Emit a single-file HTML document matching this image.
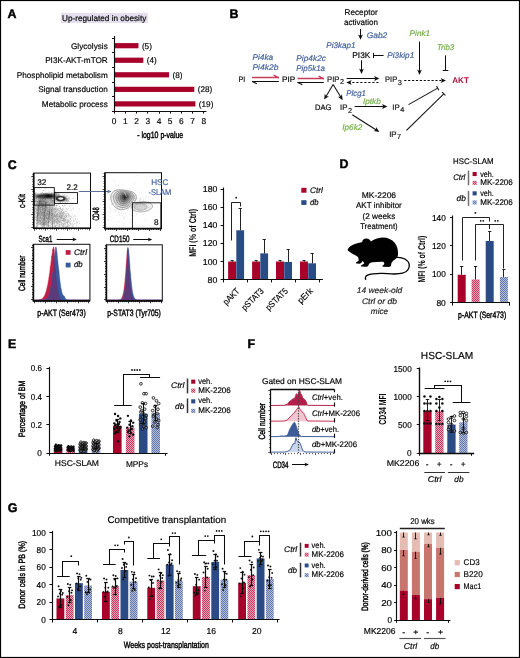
<!DOCTYPE html>
<html><head><meta charset="utf-8"><style>
html,body{margin:0;padding:0;background:#fff;}
svg{display:block;}
text{font-family:"Liberation Sans", sans-serif;}
svg{opacity:0.999;}
text{text-rendering:geometricPrecision;}
</style></head><body>
<svg width="520" height="658" viewBox="0 0 520 658" font-family="Liberation Sans, sans-serif" fill="#000">
<defs>
<filter id="blur1" x="-50%" y="-50%" width="200%" height="200%"><feGaussianBlur stdDeviation="1.2"/></filter>
<filter id="blur05" x="-50%" y="-50%" width="200%" height="200%"><feGaussianBlur stdDeviation="0.6"/></filter>
<pattern id="hpink" width="2" height="2" patternUnits="userSpaceOnUse"><rect width="2" height="2" fill="#eca4b6"/><rect width="1" height="1" fill="#cc3660"/><rect x="1" y="1" width="1" height="1" fill="#cc3660"/></pattern>
<pattern id="hblue" width="2" height="2" patternUnits="userSpaceOnUse"><rect width="2" height="2" fill="#b2bedb"/><rect width="1" height="1" fill="#6478aa"/><rect x="1" y="1" width="1" height="1" fill="#6478aa"/></pattern>
<filter id="gblur" x="0" y="0" width="520" height="658" filterUnits="userSpaceOnUse"><feGaussianBlur stdDeviation="0.35"/></filter>
</defs>
<rect x="0" y="0" width="520" height="658" fill="#fff"/>
<g filter="url(#gblur)">
<text x="7.4" y="17.9" font-size="12.4" font-weight="bold" stroke="#000" stroke-width="0.45">A</text>
<rect x="61" y="12.8" width="86.8" height="10.2" fill="#e4deed" />
<text x="62" y="20.9" font-size="8.2" textLength="84.3" lengthAdjust="spacingAndGlyphs" stroke="#000" stroke-width="0.17">Up-regulated in obesity</text>
<rect x="114.2" y="43.1" width="24.3" height="5.2" fill="#a8002c" />
<text x="107.8" y="48.6" font-size="8.2" text-anchor="end" stroke="#000" stroke-width="0.17">Glycolysis</text>
<text x="141.9" y="48.6" font-size="8.2" stroke="#000" stroke-width="0.17">(5)</text>
<rect x="114.2" y="57.65" width="29.12" height="5.2" fill="#a8002c" />
<text x="107.8" y="63.15" font-size="8.2" text-anchor="end" stroke="#000" stroke-width="0.17">PI3K-AKT-mTOR</text>
<text x="146.72" y="63.15" font-size="8.2" stroke="#000" stroke-width="0.17">(4)</text>
<rect x="114.2" y="72.2" width="54.88" height="5.2" fill="#a8002c" />
<text x="107.8" y="77.7" font-size="8.2" text-anchor="end" stroke="#000" stroke-width="0.17">Phospholipid metabolism</text>
<text x="172.48" y="77.7" font-size="8.2" stroke="#000" stroke-width="0.17">(8)</text>
<rect x="114.2" y="86.75" width="80.08" height="5.2" fill="#a8002c" />
<text x="107.8" y="92.25" font-size="8.2" text-anchor="end" stroke="#000" stroke-width="0.17">Signal transduction</text>
<text x="197.68" y="92.25" font-size="8.2" stroke="#000" stroke-width="0.17">(28)</text>
<rect x="114.2" y="101.3" width="81.2" height="5.2" fill="#a8002c" />
<text x="107.8" y="106.8" font-size="8.2" text-anchor="end" stroke="#000" stroke-width="0.17">Metabolic process</text>
<text x="198.8" y="106.8" font-size="8.2" stroke="#000" stroke-width="0.17">(19)</text>
<line x1="114.5" y1="36" x2="114.5" y2="111.6" stroke="#111" stroke-width="1.15" />
<line x1="112" y1="38.5" x2="114.2" y2="38.5" stroke="#111" stroke-width="1.03" />
<line x1="112" y1="52.5" x2="114.2" y2="52.5" stroke="#111" stroke-width="1.03" />
<line x1="112" y1="67.5" x2="114.2" y2="67.5" stroke="#111" stroke-width="1.03" />
<line x1="112" y1="82.5" x2="114.2" y2="82.5" stroke="#111" stroke-width="1.03" />
<line x1="112" y1="96.5" x2="114.2" y2="96.5" stroke="#111" stroke-width="1.03" />
<line x1="112" y1="111.5" x2="114.2" y2="111.5" stroke="#111" stroke-width="1.03" />
<line x1="113.7" y1="111.5" x2="206.5" y2="111.5" stroke="#111" stroke-width="1.15" />
<line x1="114.5" y1="111.3" x2="114.5" y2="113.6" stroke="#111" stroke-width="1.03" />
<text x="114.2" y="124" font-size="8.4" text-anchor="middle" stroke="#000" stroke-width="0.17">0</text>
<line x1="125.5" y1="111.3" x2="125.5" y2="113.6" stroke="#111" stroke-width="1.03" />
<text x="125.4" y="124" font-size="8.4" text-anchor="middle" stroke="#000" stroke-width="0.17">1</text>
<line x1="136.5" y1="111.3" x2="136.5" y2="113.6" stroke="#111" stroke-width="1.03" />
<text x="136.6" y="124" font-size="8.4" text-anchor="middle" stroke="#000" stroke-width="0.17">2</text>
<line x1="147.5" y1="111.3" x2="147.5" y2="113.6" stroke="#111" stroke-width="1.03" />
<text x="147.8" y="124" font-size="8.4" text-anchor="middle" stroke="#000" stroke-width="0.17">3</text>
<line x1="159.5" y1="111.3" x2="159.5" y2="113.6" stroke="#111" stroke-width="1.03" />
<text x="159" y="124" font-size="8.4" text-anchor="middle" stroke="#000" stroke-width="0.17">4</text>
<line x1="170.5" y1="111.3" x2="170.5" y2="113.6" stroke="#111" stroke-width="1.03" />
<text x="170.2" y="124" font-size="8.4" text-anchor="middle" stroke="#000" stroke-width="0.17">5</text>
<line x1="181.5" y1="111.3" x2="181.5" y2="113.6" stroke="#111" stroke-width="1.03" />
<text x="181.4" y="124" font-size="8.4" text-anchor="middle" stroke="#000" stroke-width="0.17">6</text>
<line x1="192.5" y1="111.3" x2="192.5" y2="113.6" stroke="#111" stroke-width="1.03" />
<text x="192.6" y="124" font-size="8.4" text-anchor="middle" stroke="#000" stroke-width="0.17">7</text>
<line x1="203.5" y1="111.3" x2="203.5" y2="113.6" stroke="#111" stroke-width="1.03" />
<text x="203.8" y="124" font-size="8.4" text-anchor="middle" stroke="#000" stroke-width="0.17">8</text>
<text x="160.2" y="138.4" font-size="9.2" text-anchor="middle" textLength="46" lengthAdjust="spacingAndGlyphs" stroke="#000" stroke-width="0.42">- log10 p-value</text>
<text x="229.6" y="18.3" font-size="12.4" font-weight="bold" stroke="#000" stroke-width="0.45">B</text>
<text x="344.6" y="15" font-size="8.2" textLength="33.1" lengthAdjust="spacingAndGlyphs" stroke="#000" stroke-width="0.17">Receptor</text>
<text x="344" y="24.8" font-size="8.2" textLength="34" lengthAdjust="spacingAndGlyphs" stroke="#000" stroke-width="0.17">activation</text>
<line x1="360.5" y1="29" x2="360.5" y2="36.1" stroke="#111" stroke-width="1.03" />
<polygon points="360.5,39.8 358.1,34.4 360.5,35.8 362.9,34.4" fill="#111" />
<text x="366.7" y="37.7" font-size="8.2" font-style="italic" fill="#41609e" textLength="20.6" lengthAdjust="spacingAndGlyphs" stroke="#41609e" stroke-width="0.17">Gab2</text>
<text x="326.3" y="47.7" font-size="8.2" font-style="italic" fill="#41609e" textLength="29.3" lengthAdjust="spacingAndGlyphs" stroke="#41609e" stroke-width="0.17">Pi3kap1</text>
<text x="352.3" y="58.1" font-size="8.2" textLength="18.1" lengthAdjust="spacingAndGlyphs" stroke="#000" stroke-width="0.17">PI3K</text>
<line x1="383.6" y1="55.5" x2="373" y2="55.5" stroke="#111" stroke-width="1.03" />
<line x1="373.5" y1="52.9" x2="373.5" y2="58.1" stroke="#111" stroke-width="1.03" />
<text x="387.3" y="58" font-size="8.2" font-style="italic" fill="#41609e" textLength="26.9" lengthAdjust="spacingAndGlyphs" stroke="#41609e" stroke-width="0.17">Pi3kip1</text>
<line x1="361.5" y1="60.2" x2="361.5" y2="70.3" stroke="#111" stroke-width="1.03" />
<polygon points="361.5,74 359.1,68.6 361.5,70 363.9,68.6" fill="#111" />
<text x="409.6" y="36.3" font-size="8.2" font-style="italic" fill="#6fae44" textLength="20.6" lengthAdjust="spacingAndGlyphs" stroke="#6fae44" stroke-width="0.17">Pink1</text>
<line x1="419.5" y1="41.6" x2="419.5" y2="71.3" stroke="#111" stroke-width="1.03" />
<polygon points="419.5,75 417.1,69.6 419.5,71 421.9,69.6" fill="#111" />
<text x="436.9" y="50.4" font-size="8.2" font-style="italic" fill="#6fae44" textLength="17.3" lengthAdjust="spacingAndGlyphs" stroke="#6fae44" stroke-width="0.17">Trib3</text>
<line x1="445.5" y1="55.3" x2="445.5" y2="70.2" stroke="#111" stroke-width="1.03" />
<line x1="442.7" y1="70.5" x2="448.3" y2="70.5" stroke="#111" stroke-width="1.03" />
<text x="452.3" y="82.5" font-size="8.2" font-weight="bold" fill="#b0123c" textLength="16.5" lengthAdjust="spacingAndGlyphs">AKT</text>
<text x="252.4" y="59.6" font-size="8.2" font-style="italic" fill="#41609e" textLength="20.8" lengthAdjust="spacingAndGlyphs" stroke="#41609e" stroke-width="0.17">Pi4ka</text>
<text x="252.4" y="70.2" font-size="8.2" font-style="italic" fill="#41609e" textLength="26" lengthAdjust="spacingAndGlyphs" stroke="#41609e" stroke-width="0.17">Pi4k2b</text>
<text x="296.3" y="60.8" font-size="8.2" font-style="italic" fill="#41609e" textLength="29.7" lengthAdjust="spacingAndGlyphs" stroke="#41609e" stroke-width="0.17">Pip4k2c</text>
<text x="296.3" y="70.8" font-size="8.2" font-style="italic" fill="#41609e" textLength="28.7" lengthAdjust="spacingAndGlyphs" stroke="#41609e" stroke-width="0.17">Pip5k1a</text>
<text x="238.6" y="81.9" font-size="8" textLength="6.7" lengthAdjust="spacingAndGlyphs" stroke="#000" stroke-width="0.17">PI</text>
<text x="282" y="81.6" font-size="8" textLength="13.2" lengthAdjust="spacingAndGlyphs" stroke="#000" stroke-width="0.17">PIP</text>
<text x="327.1" y="81.6" font-size="8" fill="#111" textLength="12.4" lengthAdjust="spacingAndGlyphs" stroke="#111" stroke-width="0.17">PIP</text>
<text x="340" y="84.4" font-size="7.3" fill="#111" stroke="#111" stroke-width="0.17">2</text>
<text x="385.1" y="81.9" font-size="8" fill="#111" textLength="12.1" lengthAdjust="spacingAndGlyphs" stroke="#111" stroke-width="0.17">PIP</text>
<text x="397.7" y="84.7" font-size="7.3" fill="#111" stroke="#111" stroke-width="0.17">3</text>
<line x1="252" y1="77.5" x2="278.8" y2="77.5" stroke="#c83a5c" stroke-width="1.49" />
<line x1="273.6" y1="75.1" x2="278.8" y2="77.8" stroke="#c83a5c" stroke-width="1.38" />
<line x1="252" y1="81.5" x2="278.8" y2="81.5" stroke="#111" stroke-width="1.03" />
<line x1="252" y1="81.3" x2="256.8" y2="83.8" stroke="#111" stroke-width="1.03" />
<line x1="297.5" y1="78.5" x2="323.8" y2="78.5" stroke="#c83a5c" stroke-width="1.49" />
<line x1="318.6" y1="76.1" x2="323.8" y2="78.8" stroke="#c83a5c" stroke-width="1.38" />
<line x1="297.5" y1="82.5" x2="323.8" y2="82.5" stroke="#111" stroke-width="1.03" />
<line x1="297.5" y1="82.3" x2="302.3" y2="84.8" stroke="#111" stroke-width="1.03" />
<line x1="346.7" y1="78.5" x2="375.7" y2="78.5" stroke="#111" stroke-width="1.03" />
<polygon points="379.4,78.5 374,80.9 375.4,78.5 374,76.1" fill="#111" />
<line x1="378.5" y1="82.5" x2="350" y2="82.5" stroke="#111" stroke-width="1.15" stroke-dasharray="2.2,1.8"/>
<polygon points="346.3,82.5 351.7,80.1 350.3,82.5 351.7,84.9" fill="#111" />
<line x1="404.2" y1="80.5" x2="442.3" y2="80.5" stroke="#111" stroke-width="1.15" stroke-dasharray="2.2,1.7"/>
<polygon points="446,80.5 440.6,82.9 442,80.5 440.6,78.1" fill="#111" />
<line x1="333.1" y1="84.6" x2="326" y2="96.43" stroke="#111" stroke-width="1.03" />
<polygon points="324.1,99.6 324.82,93.73 326.16,96.17 328.94,96.2" fill="#111" />
<line x1="333.1" y1="84.6" x2="340.76" y2="97.05" stroke="#111" stroke-width="1.03" />
<polygon points="342.7,100.2 337.83,96.86 340.6,96.79 341.91,94.34" fill="#111" />
<text x="315.1" y="110.3" font-size="8" textLength="16.4" lengthAdjust="spacingAndGlyphs" stroke="#000" stroke-width="0.17">DAG</text>
<text x="340" y="110.4" font-size="8" fill="#111" textLength="7.4" lengthAdjust="spacingAndGlyphs" stroke="#111" stroke-width="0.17">IP</text>
<text x="347.9" y="113.2" font-size="7.3" fill="#111" stroke="#111" stroke-width="0.17">2</text>
<text x="346.3" y="95.5" font-size="8.2" font-style="italic" fill="#41609e" textLength="19.6" lengthAdjust="spacingAndGlyphs" stroke="#41609e" stroke-width="0.17">Plcg1</text>
<text x="363" y="103.5" font-size="8.2" font-style="italic" fill="#6fae44" textLength="17.8" lengthAdjust="spacingAndGlyphs" stroke="#6fae44" stroke-width="0.17">Iptkb</text>
<line x1="354.6" y1="106.5" x2="383.7" y2="106.5" stroke="#111" stroke-width="1.03" />
<polygon points="387.4,106.5 382,108.9 383.4,106.5 382,104.1" fill="#111" />
<text x="392.3" y="109.6" font-size="8" fill="#111" textLength="7.4" lengthAdjust="spacingAndGlyphs" stroke="#111" stroke-width="0.17">IP</text>
<text x="400.2" y="112.4" font-size="7.3" fill="#111" stroke="#111" stroke-width="0.17">4</text>
<line x1="352.3" y1="114.7" x2="376.28" y2="130.01" stroke="#111" stroke-width="1.03" />
<polygon points="379.4,132 373.56,131.12 376.03,129.85 376.14,127.07" fill="#111" />
<text x="342.3" y="130.4" font-size="8.2" font-style="italic" fill="#6fae44" textLength="20" lengthAdjust="spacingAndGlyphs" stroke="#6fae44" stroke-width="0.17">Ip6k2</text>
<text x="389.2" y="136.5" font-size="8" fill="#111" textLength="7.4" lengthAdjust="spacingAndGlyphs" stroke="#111" stroke-width="0.17">IP</text>
<text x="397.1" y="139.3" font-size="7.3" fill="#111" stroke="#111" stroke-width="0.17">7</text>
<line x1="408.5" y1="104.6" x2="437.7" y2="88.1" stroke="#111" stroke-width="1.03" />
<line x1="438.88" y1="90.19" x2="436.52" y2="86.01" stroke="#111" stroke-width="1.03" />
<line x1="406.5" y1="130.4" x2="443.8" y2="93.8" stroke="#111" stroke-width="1.03" />
<line x1="445.48" y1="95.51" x2="442.12" y2="92.09" stroke="#111" stroke-width="1.03" />
<text x="7.8" y="168.6" font-size="12.4" font-weight="bold" stroke="#000" stroke-width="0.45">C</text>
<g>
<path d="M54.71 217.79h0.6v0.6h-0.6zM52.78 209.47h0.6v0.6h-0.6zM51.52 208.76h0.6v0.6h-0.6zM55.12 225.08h0.6v0.6h-0.6zM51.25 211.36h0.6v0.6h-0.6zM58.13 218.2h0.6v0.6h-0.6zM55.44 209.19h0.6v0.6h-0.6zM54.5 220.57h0.6v0.6h-0.6zM45.29 212.5h0.6v0.6h-0.6zM41.39 206.67h0.6v0.6h-0.6zM41.81 214.05h0.6v0.6h-0.6zM45.83 217.6h0.6v0.6h-0.6zM55.8 214.39h0.6v0.6h-0.6zM37.08 211.93h0.6v0.6h-0.6zM54.36 216.49h0.6v0.6h-0.6zM43.99 212.36h0.6v0.6h-0.6zM47.85 210.04h0.6v0.6h-0.6zM62.13 210.05h0.6v0.6h-0.6zM54.47 221.89h0.6v0.6h-0.6zM50.61 214.92h0.6v0.6h-0.6zM55.47 216.15h0.6v0.6h-0.6zM46.12 216.23h0.6v0.6h-0.6zM64.21 204.87h0.6v0.6h-0.6zM60.72 216.54h0.6v0.6h-0.6zM60.04 207.3h0.6v0.6h-0.6zM55.22 219.74h0.6v0.6h-0.6zM53.38 220.48h0.6v0.6h-0.6zM54.23 220.37h0.6v0.6h-0.6zM64.77 210.97h0.6v0.6h-0.6zM56.12 212.46h0.6v0.6h-0.6zM55.59 207.39h0.6v0.6h-0.6zM50.64 214.33h0.6v0.6h-0.6zM60.99 223.72h0.6v0.6h-0.6zM45.44 210.14h0.6v0.6h-0.6zM59.23 201.75h0.6v0.6h-0.6zM51.46 215.02h0.6v0.6h-0.6zM63.5 220.53h0.6v0.6h-0.6zM52.41 213.12h0.6v0.6h-0.6zM52.95 226.36h0.6v0.6h-0.6zM51.7 213.57h0.6v0.6h-0.6zM57.17 214.85h0.6v0.6h-0.6zM53.32 207.9h0.6v0.6h-0.6zM54.62 212.59h0.6v0.6h-0.6zM62.86 220.27h0.6v0.6h-0.6zM54.53 220.38h0.6v0.6h-0.6zM52.32 223.06h0.6v0.6h-0.6zM54.66 219.78h0.6v0.6h-0.6zM45.66 218.13h0.6v0.6h-0.6zM42.88 201.45h0.6v0.6h-0.6zM52.57 209.4h0.6v0.6h-0.6zM48.88 211.33h0.6v0.6h-0.6zM56.14 219.15h0.6v0.6h-0.6zM53.47 214.26h0.6v0.6h-0.6zM59.62 219.34h0.6v0.6h-0.6zM47.46 215.15h0.6v0.6h-0.6zM54.95 208.32h0.6v0.6h-0.6zM56.52 209.69h0.6v0.6h-0.6zM61.5 217.05h0.6v0.6h-0.6zM55.33 211.56h0.6v0.6h-0.6zM53.87 201.72h0.6v0.6h-0.6zM46.78 218.24h0.6v0.6h-0.6zM39.8 221.63h0.6v0.6h-0.6zM42.48 221h0.6v0.6h-0.6zM48.78 221.15h0.6v0.6h-0.6zM55.62 204.94h0.6v0.6h-0.6zM63.44 225.79h0.6v0.6h-0.6zM54.24 213.78h0.6v0.6h-0.6zM53.58 208.87h0.6v0.6h-0.6zM62.39 211.9h0.6v0.6h-0.6zM54.34 210.15h0.6v0.6h-0.6zM50.32 206.76h0.6v0.6h-0.6zM63.5 214.62h0.6v0.6h-0.6zM61.46 215.79h0.6v0.6h-0.6zM49.84 213.41h0.6v0.6h-0.6zM50.78 215.76h0.6v0.6h-0.6zM52.07 213.6h0.6v0.6h-0.6zM45.05 210.05h0.6v0.6h-0.6zM66.28 211h0.6v0.6h-0.6zM47.32 218.06h0.6v0.6h-0.6zM64.55 205.52h0.6v0.6h-0.6zM53.24 211.28h0.6v0.6h-0.6zM42.37 220.84h0.6v0.6h-0.6zM54.54 216.2h0.6v0.6h-0.6zM49.43 218.88h0.6v0.6h-0.6zM50.92 214.7h0.6v0.6h-0.6zM46.94 207.19h0.6v0.6h-0.6zM64.05 212.15h0.6v0.6h-0.6zM56.74 215.46h0.6v0.6h-0.6zM51.61 212.14h0.6v0.6h-0.6zM59.11 213.59h0.6v0.6h-0.6zM53.64 215.86h0.6v0.6h-0.6zM62.94 220.46h0.6v0.6h-0.6zM57.38 211.76h0.6v0.6h-0.6zM45.03 222.35h0.6v0.6h-0.6zM61.47 214.72h0.6v0.6h-0.6zM58.49 221.17h0.6v0.6h-0.6zM60.52 222.15h0.6v0.6h-0.6zM51.51 226.3h0.6v0.6h-0.6zM45.97 221.73h0.6v0.6h-0.6zM58.16 221.82h0.6v0.6h-0.6zM67.85 226.09h0.6v0.6h-0.6zM46.68 203.88h0.6v0.6h-0.6zM60.42 208.59h0.6v0.6h-0.6zM54.61 221.58h0.6v0.6h-0.6zM43.19 200.93h0.6v0.6h-0.6zM56.52 216.01h0.6v0.6h-0.6zM52.98 215.97h0.6v0.6h-0.6zM48.68 205.11h0.6v0.6h-0.6zM53.53 208.9h0.6v0.6h-0.6zM43.2 219.24h0.6v0.6h-0.6zM54.27 218.55h0.6v0.6h-0.6zM47.77 211.09h0.6v0.6h-0.6zM47.71 209.49h0.6v0.6h-0.6zM56.07 210.22h0.6v0.6h-0.6zM57.19 218.08h0.6v0.6h-0.6zM68.88 205.95h0.6v0.6h-0.6zM60.92 215.07h0.6v0.6h-0.6zM54.6 205.55h0.6v0.6h-0.6zM51.48 220.9h0.6v0.6h-0.6zM54.12 216.27h0.6v0.6h-0.6zM52.66 223.78h0.6v0.6h-0.6zM54.55 200.3h0.6v0.6h-0.6zM49.86 201.92h0.6v0.6h-0.6zM64.03 216.03h0.6v0.6h-0.6zM46.49 209.12h0.6v0.6h-0.6zM62.61 216.8h0.6v0.6h-0.6zM55.04 215.33h0.6v0.6h-0.6zM54.97 221.34h0.6v0.6h-0.6zM58.57 217.21h0.6v0.6h-0.6zM47.4 219.28h0.6v0.6h-0.6zM49.91 223.36h0.6v0.6h-0.6zM45.8 214.74h0.6v0.6h-0.6zM54.65 206.43h0.6v0.6h-0.6zM66.75 225.92h0.6v0.6h-0.6zM51.45 221.1h0.6v0.6h-0.6zM57.35 197.41h0.6v0.6h-0.6zM56.45 215.27h0.6v0.6h-0.6zM55.28 208.16h0.6v0.6h-0.6zM52.81 214.45h0.6v0.6h-0.6zM63.02 218.04h0.6v0.6h-0.6zM54.66 226.4h0.6v0.6h-0.6zM50.81 212.97h0.6v0.6h-0.6zM41.98 226.68h0.6v0.6h-0.6zM61.45 222.12h0.6v0.6h-0.6zM59.38 216.47h0.6v0.6h-0.6zM56.21 213.94h0.6v0.6h-0.6zM53.27 216.08h0.6v0.6h-0.6zM65.28 219.59h0.6v0.6h-0.6zM54.29 211.64h0.6v0.6h-0.6zM50.26 226.92h0.6v0.6h-0.6zM58.25 216.17h0.6v0.6h-0.6zM52.28 207.94h0.6v0.6h-0.6zM54.23 221.82h0.6v0.6h-0.6zM51.95 214.11h0.6v0.6h-0.6zM53.15 216.47h0.6v0.6h-0.6zM43.55 214.05h0.6v0.6h-0.6zM48.72 221.89h0.6v0.6h-0.6zM49.31 219.74h0.6v0.6h-0.6zM65.37 213.5h0.6v0.6h-0.6zM50.49 217.04h0.6v0.6h-0.6zM54.69 208.74h0.6v0.6h-0.6zM52.89 214.28h0.6v0.6h-0.6zM47.39 217.93h0.6v0.6h-0.6zM45.97 207.95h0.6v0.6h-0.6zM63.66 209.36h0.6v0.6h-0.6zM62.27 226.37h0.6v0.6h-0.6zM56.52 219.57h0.6v0.6h-0.6zM68.37 214.32h0.6v0.6h-0.6zM50.55 206.23h0.6v0.6h-0.6zM54.99 226.05h0.6v0.6h-0.6zM61.42 209.11h0.6v0.6h-0.6zM48.71 212.17h0.6v0.6h-0.6zM56.75 214.26h0.6v0.6h-0.6zM56.2 217.78h0.6v0.6h-0.6zM52.61 215.42h0.6v0.6h-0.6zM56.15 215.11h0.6v0.6h-0.6zM58.84 216.09h0.6v0.6h-0.6zM42.9 218.42h0.6v0.6h-0.6zM41.07 205.84h0.6v0.6h-0.6zM60.68 220.64h0.6v0.6h-0.6zM53.65 203.73h0.6v0.6h-0.6zM52.1 210.95h0.6v0.6h-0.6zM56.22 210.24h0.6v0.6h-0.6zM46.51 215.31h0.6v0.6h-0.6zM53.46 207.64h0.6v0.6h-0.6zM55.51 207.64h0.6v0.6h-0.6zM62.48 223.14h0.6v0.6h-0.6zM62.29 212.38h0.6v0.6h-0.6zM58.3 214.78h0.6v0.6h-0.6zM51.98 213.33h0.6v0.6h-0.6zM45.6 205.59h0.6v0.6h-0.6zM60.26 214.36h0.6v0.6h-0.6zM56.21 222.71h0.6v0.6h-0.6zM42.57 210.21h0.6v0.6h-0.6zM55.93 218.44h0.6v0.6h-0.6zM52.06 222.9h0.6v0.6h-0.6zM56.17 207.21h0.6v0.6h-0.6zM48.18 221.34h0.6v0.6h-0.6zM57.95 202.41h0.6v0.6h-0.6zM64.13 219.89h0.6v0.6h-0.6zM64.1 213.01h0.6v0.6h-0.6zM52.63 207.81h0.6v0.6h-0.6zM72.46 214.47h0.6v0.6h-0.6zM65.81 211.17h0.6v0.6h-0.6zM55.85 204h0.6v0.6h-0.6zM52.02 222.59h0.6v0.6h-0.6zM45.94 223.21h0.6v0.6h-0.6zM57.06 208.39h0.6v0.6h-0.6zM51.19 212.49h0.6v0.6h-0.6zM54.35 211.95h0.6v0.6h-0.6zM48.91 213.57h0.6v0.6h-0.6zM47.51 206.67h0.6v0.6h-0.6zM54.36 221.88h0.6v0.6h-0.6zM43.99 215.72h0.6v0.6h-0.6zM50.15 208.86h0.6v0.6h-0.6zM60.67 212.07h0.6v0.6h-0.6zM65.19 210.24h0.6v0.6h-0.6zM57.41 214.11h0.6v0.6h-0.6zM49.42 219.81h0.6v0.6h-0.6zM53.62 219.92h0.6v0.6h-0.6zM54.37 208.1h0.6v0.6h-0.6zM53.99 216.06h0.6v0.6h-0.6zM61.41 209.36h0.6v0.6h-0.6zM54.42 203.65h0.6v0.6h-0.6zM59.26 208.13h0.6v0.6h-0.6zM42.06 215.29h0.6v0.6h-0.6zM62.44 205.03h0.6v0.6h-0.6zM47.08 210.5h0.6v0.6h-0.6zM46.79 218.36h0.6v0.6h-0.6zM49.05 210.65h0.6v0.6h-0.6zM58.78 210.41h0.6v0.6h-0.6zM57.73 208.9h0.6v0.6h-0.6zM46.22 202.85h0.6v0.6h-0.6zM67.73 213.46h0.6v0.6h-0.6zM56.41 215.48h0.6v0.6h-0.6zM55.82 216.05h0.6v0.6h-0.6zM68.06 208.43h0.6v0.6h-0.6zM43.8 208.62h0.6v0.6h-0.6zM45.36 220.93h0.6v0.6h-0.6zM60.44 208.97h0.6v0.6h-0.6zM44.97 213.22h0.6v0.6h-0.6zM64.44 195.96h0.6v0.6h-0.6zM58.39 208.17h0.6v0.6h-0.6zM61.98 208.15h0.6v0.6h-0.6zM52.7 205.16h0.6v0.6h-0.6zM47.86 225.4h0.6v0.6h-0.6zM60.44 212.89h0.6v0.6h-0.6zM48.61 202.44h0.6v0.6h-0.6zM51.94 215.48h0.6v0.6h-0.6zM54.11 215.04h0.6v0.6h-0.6zM46.85 215.24h0.6v0.6h-0.6zM54.43 224.73h0.6v0.6h-0.6zM67.77 214.74h0.6v0.6h-0.6zM49.34 215.25h0.6v0.6h-0.6zM50.45 210.5h0.6v0.6h-0.6zM54.29 208.4h0.6v0.6h-0.6zM58.94 214.97h0.6v0.6h-0.6zM56.45 214.42h0.6v0.6h-0.6zM49.61 209.06h0.6v0.6h-0.6zM53.04 211.86h0.6v0.6h-0.6zM56.34 215.67h0.6v0.6h-0.6zM45.16 216.17h0.6v0.6h-0.6zM45.3 211.38h0.6v0.6h-0.6zM52.64 201.17h0.6v0.6h-0.6zM55.34 216.76h0.6v0.6h-0.6zM53.59 212.73h0.6v0.6h-0.6zM52.08 208.86h0.6v0.6h-0.6zM52.81 211.83h0.6v0.6h-0.6zM55.34 207.27h0.6v0.6h-0.6zM56.35 216.7h0.6v0.6h-0.6zM53.71 212.63h0.6v0.6h-0.6zM58.57 204.05h0.6v0.6h-0.6zM57.92 217.4h0.6v0.6h-0.6zM56.68 218.38h0.6v0.6h-0.6zM50.12 213.88h0.6v0.6h-0.6zM59.16 218.71h0.6v0.6h-0.6zM56.15 205.1h0.6v0.6h-0.6zM58.47 223.89h0.6v0.6h-0.6zM61.77 217.34h0.6v0.6h-0.6zM43.8 222.3h0.6v0.6h-0.6zM53.67 197.97h0.6v0.6h-0.6zM57.34 205.25h0.6v0.6h-0.6zM45.62 211.26h0.6v0.6h-0.6zM63.61 213.1h0.6v0.6h-0.6zM65.86 214.98h0.6v0.6h-0.6zM53.01 206.87h0.6v0.6h-0.6zM49.84 218.68h0.6v0.6h-0.6zM57.47 216.47h0.6v0.6h-0.6zM61.66 210.29h0.6v0.6h-0.6zM54.31 220.82h0.6v0.6h-0.6zM58.79 223.2h0.6v0.6h-0.6zM57.48 213.53h0.6v0.6h-0.6zM57.24 208.68h0.6v0.6h-0.6zM43.22 219.76h0.6v0.6h-0.6zM54.31 217.86h0.6v0.6h-0.6zM42.82 213.14h0.6v0.6h-0.6zM50.5 209.65h0.6v0.6h-0.6zM38.91 213.36h0.6v0.6h-0.6zM60.98 218.37h0.6v0.6h-0.6zM50.49 215.6h0.6v0.6h-0.6zM60 196.38h0.6v0.6h-0.6zM53.83 219.5h0.6v0.6h-0.6zM62.65 217.89h0.6v0.6h-0.6zM56.81 221.21h0.6v0.6h-0.6zM50.92 215.42h0.6v0.6h-0.6zM53.59 215.36h0.6v0.6h-0.6zM56.09 225.1h0.6v0.6h-0.6zM54.49 225.99h0.6v0.6h-0.6zM47.93 214.4h0.6v0.6h-0.6zM53.31 221.21h0.6v0.6h-0.6zM62.02 205.13h0.6v0.6h-0.6zM48.29 218.06h0.6v0.6h-0.6zM50.09 205.04h0.6v0.6h-0.6zM61.97 219.16h0.6v0.6h-0.6zM58.15 212.37h0.6v0.6h-0.6zM61.9 214.02h0.6v0.6h-0.6zM62.38 209.32h0.6v0.6h-0.6zM48.72 217.13h0.6v0.6h-0.6zM49.78 220.43h0.6v0.6h-0.6zM56.52 209.24h0.6v0.6h-0.6zM55.21 213.24h0.6v0.6h-0.6zM61.11 211.27h0.6v0.6h-0.6zM51.63 224.18h0.6v0.6h-0.6zM55.14 217.23h0.6v0.6h-0.6zM65.43 214.83h0.6v0.6h-0.6zM47.87 216.52h0.6v0.6h-0.6zM57.86 209.9h0.6v0.6h-0.6zM43.18 205.64h0.6v0.6h-0.6zM59.36 210.39h0.6v0.6h-0.6zM53.71 217.19h0.6v0.6h-0.6zM59.03 213.36h0.6v0.6h-0.6zM58.19 209.47h0.6v0.6h-0.6zM52.17 208.53h0.6v0.6h-0.6zM62.62 215.51h0.6v0.6h-0.6zM49.52 213.23h0.6v0.6h-0.6zM53.15 220.6h0.6v0.6h-0.6zM43.53 208.44h0.6v0.6h-0.6zM61.39 214.92h0.6v0.6h-0.6zM53.06 213.14h0.6v0.6h-0.6zM63.18 219.16h0.6v0.6h-0.6zM59.4 212.14h0.6v0.6h-0.6zM58.66 220.49h0.6v0.6h-0.6zM40.51 220.16h0.6v0.6h-0.6zM53.34 218.74h0.6v0.6h-0.6zM59.48 213.31h0.6v0.6h-0.6zM42.87 218.28h0.6v0.6h-0.6zM49.51 213.39h0.6v0.6h-0.6zM50.47 213.31h0.6v0.6h-0.6zM38.53 224.22h0.6v0.6h-0.6zM56.47 223.48h0.6v0.6h-0.6zM68.56 215.86h0.6v0.6h-0.6zM42.08 209.44h0.6v0.6h-0.6zM46.25 212.19h0.6v0.6h-0.6zM55.26 201.68h0.6v0.6h-0.6zM57.1 205.13h0.6v0.6h-0.6zM56.78 214.93h0.6v0.6h-0.6zM52.5 215.19h0.6v0.6h-0.6zM50.92 211.41h0.6v0.6h-0.6zM42.92 215.49h0.6v0.6h-0.6zM63.95 220.64h0.6v0.6h-0.6zM49.96 225.8h0.6v0.6h-0.6zM54.31 215.22h0.6v0.6h-0.6zM52.66 216.34h0.6v0.6h-0.6zM51.65 215.11h0.6v0.6h-0.6zM47.11 213.08h0.6v0.6h-0.6zM70.66 215.21h0.6v0.6h-0.6zM53.03 219.43h0.6v0.6h-0.6zM59.66 207.9h0.6v0.6h-0.6zM53.25 222.13h0.6v0.6h-0.6zM56.59 216.55h0.6v0.6h-0.6zM65.58 210.96h0.6v0.6h-0.6zM55.28 212.06h0.6v0.6h-0.6zM65.13 202.04h0.6v0.6h-0.6zM50.01 212h0.6v0.6h-0.6zM59.34 219.94h0.6v0.6h-0.6zM64.47 204.68h0.6v0.6h-0.6zM59.95 213.65h0.6v0.6h-0.6zM50.04 219.48h0.6v0.6h-0.6zM48.26 201.16h0.6v0.6h-0.6zM52.11 205.22h0.6v0.6h-0.6zM50.16 218.3h0.6v0.6h-0.6zM56.88 226.81h0.6v0.6h-0.6zM53.3 204.97h0.6v0.6h-0.6zM49.41 209.26h0.6v0.6h-0.6zM46.18 218.75h0.6v0.6h-0.6zM50.18 201.86h0.6v0.6h-0.6zM59.58 214.92h0.6v0.6h-0.6zM57.2 216.44h0.6v0.6h-0.6zM59.12 215.97h0.6v0.6h-0.6zM63.35 218.67h0.6v0.6h-0.6zM57.44 218.57h0.6v0.6h-0.6zM44.5 214.55h0.6v0.6h-0.6zM52.88 217.15h0.6v0.6h-0.6zM45.19 227.14h0.6v0.6h-0.6zM55.43 207.22h0.6v0.6h-0.6zM42.74 213.73h0.6v0.6h-0.6zM54.07 210.67h0.6v0.6h-0.6zM55.34 211.21h0.6v0.6h-0.6zM58.56 210.63h0.6v0.6h-0.6zM54.43 222.55h0.6v0.6h-0.6zM72.7 208.65h0.6v0.6h-0.6zM51.45 209.82h0.6v0.6h-0.6zM60.19 207.66h0.6v0.6h-0.6zM51.31 215.49h0.6v0.6h-0.6zM47.85 209h0.6v0.6h-0.6zM51.37 201h0.6v0.6h-0.6zM44.58 212.81h0.6v0.6h-0.6zM55.74 214.4h0.6v0.6h-0.6zM42.28 212.45h0.6v0.6h-0.6zM60.29 219.59h0.6v0.6h-0.6zM54.15 209.49h0.6v0.6h-0.6zM59.12 211.65h0.6v0.6h-0.6zM46.52 210.08h0.6v0.6h-0.6zM64.84 217.24h0.6v0.6h-0.6zM62.81 212.34h0.6v0.6h-0.6zM61.27 211.49h0.6v0.6h-0.6zM60.07 212.19h0.6v0.6h-0.6zM54.11 217.98h0.6v0.6h-0.6zM63.17 212.28h0.6v0.6h-0.6zM42.51 213.74h0.6v0.6h-0.6zM54.81 216.47h0.6v0.6h-0.6zM63.92 217.92h0.6v0.6h-0.6zM60.39 207.99h0.6v0.6h-0.6zM60.11 217.47h0.6v0.6h-0.6zM48.21 214.92h0.6v0.6h-0.6zM57.92 220.91h0.6v0.6h-0.6zM51.64 217.85h0.6v0.6h-0.6zM52.75 216.54h0.6v0.6h-0.6zM53.78 207.71h0.6v0.6h-0.6zM54.55 221.84h0.6v0.6h-0.6zM47.93 214.01h0.6v0.6h-0.6zM59.35 208.21h0.6v0.6h-0.6zM55.98 208.28h0.6v0.6h-0.6zM68.86 214.17h0.6v0.6h-0.6zM59.88 216.55h0.6v0.6h-0.6zM55.41 226.53h0.6v0.6h-0.6zM45.47 223.09h0.6v0.6h-0.6zM54.36 225.56h0.6v0.6h-0.6zM56.01 210.99h0.6v0.6h-0.6zM56.64 220.85h0.6v0.6h-0.6zM54.95 219.12h0.6v0.6h-0.6zM51.05 200.76h0.6v0.6h-0.6zM61 220.59h0.6v0.6h-0.6zM55.74 216.18h0.6v0.6h-0.6zM61.95 212.5h0.6v0.6h-0.6zM49.75 214.38h0.6v0.6h-0.6zM63.02 205.99h0.6v0.6h-0.6zM63.04 211.23h0.6v0.6h-0.6zM46.99 224.52h0.6v0.6h-0.6zM54.02 206.6h0.6v0.6h-0.6zM52.19 222.22h0.6v0.6h-0.6zM63.04 212.71h0.6v0.6h-0.6zM57.54 220.7h0.6v0.6h-0.6zM50.19 218.19h0.6v0.6h-0.6zM54.48 211.95h0.6v0.6h-0.6zM51.25 216.17h0.6v0.6h-0.6zM54.91 211.74h0.6v0.6h-0.6zM51.72 223.49h0.6v0.6h-0.6zM56.2 221.9h0.6v0.6h-0.6zM63.11 219.82h0.6v0.6h-0.6zM70.6 209.92h0.6v0.6h-0.6zM60.36 213.47h0.6v0.6h-0.6zM41.02 208.92h0.6v0.6h-0.6zM59.35 221.23h0.6v0.6h-0.6zM59.86 215.2h0.6v0.6h-0.6zM57.89 220.27h0.6v0.6h-0.6zM54.15 222.89h0.6v0.6h-0.6zM38.88 220.14h0.6v0.6h-0.6zM47.46 222.41h0.6v0.6h-0.6zM53.1 209.48h0.6v0.6h-0.6zM57.32 209.32h0.6v0.6h-0.6zM48.31 204.73h0.6v0.6h-0.6zM54.51 219.18h0.6v0.6h-0.6zM61.86 214.71h0.6v0.6h-0.6zM62.03 215.83h0.6v0.6h-0.6zM54.05 219.71h0.6v0.6h-0.6zM62.11 213.31h0.6v0.6h-0.6zM52.99 214.57h0.6v0.6h-0.6zM55.28 209.4h0.6v0.6h-0.6zM61.9 212.9h0.6v0.6h-0.6zM57.94 209.92h0.6v0.6h-0.6zM57.21 218.44h0.6v0.6h-0.6zM61.41 211.06h0.6v0.6h-0.6zM52.02 218.75h0.6v0.6h-0.6zM55.13 216.05h0.6v0.6h-0.6zM52.7 203.04h0.6v0.6h-0.6zM53.12 200.17h0.6v0.6h-0.6zM57.3 210.62h0.6v0.6h-0.6zM49.69 214.16h0.6v0.6h-0.6zM56.61 205.68h0.6v0.6h-0.6zM42.46 208.24h0.6v0.6h-0.6zM40.41 208.93h0.6v0.6h-0.6zM65.84 208.3h0.6v0.6h-0.6zM59.26 206.1h0.6v0.6h-0.6zM56.79 213.46h0.6v0.6h-0.6zM54.28 219.68h0.6v0.6h-0.6zM66.99 217.06h0.6v0.6h-0.6zM55.57 208.89h0.6v0.6h-0.6zM58.78 213.98h0.6v0.6h-0.6zM60.52 215.39h0.6v0.6h-0.6zM66.89 201.82h0.6v0.6h-0.6zM52.62 221.87h0.6v0.6h-0.6zM52.25 210.15h0.6v0.6h-0.6zM52.84 206.04h0.6v0.6h-0.6zM62.72 207.94h0.6v0.6h-0.6zM48.59 212.87h0.6v0.6h-0.6zM61.73 209.95h0.6v0.6h-0.6zM49.87 221.89h0.6v0.6h-0.6zM60.75 213.08h0.6v0.6h-0.6zM46.88 204.85h0.6v0.6h-0.6zM49.81 200.09h0.6v0.6h-0.6zM59.95 211.29h0.6v0.6h-0.6zM62.91 207.64h0.6v0.6h-0.6zM60.78 223.8h0.6v0.6h-0.6zM49.48 209.03h0.6v0.6h-0.6zM53.93 204.49h0.6v0.6h-0.6zM65 198.86h0.6v0.6h-0.6zM46.95 213.81h0.6v0.6h-0.6zM53.11 216.86h0.6v0.6h-0.6zM56.6 214.2h0.6v0.6h-0.6zM62.66 200.72h0.6v0.6h-0.6zM54.7 210.7h0.6v0.6h-0.6zM55.63 217.25h0.6v0.6h-0.6zM48.32 211.21h0.6v0.6h-0.6zM60.25 218.14h0.6v0.6h-0.6zM70.86 205.46h0.6v0.6h-0.6zM60.19 217.25h0.6v0.6h-0.6zM53.24 211.91h0.6v0.6h-0.6zM53.21 211.84h0.6v0.6h-0.6zM59.91 212.91h0.6v0.6h-0.6zM51.61 207.28h0.6v0.6h-0.6zM54.35 209.44h0.6v0.6h-0.6zM53.43 222.99h0.6v0.6h-0.6zM57.26 219.23h0.6v0.6h-0.6zM57.19 216.11h0.6v0.6h-0.6zM53.81 213.55h0.6v0.6h-0.6zM60.01 208.11h0.6v0.6h-0.6zM64.09 215.94h0.6v0.6h-0.6zM49.46 212.28h0.6v0.6h-0.6zM49.96 216.82h0.6v0.6h-0.6zM49.68 223.69h0.6v0.6h-0.6zM49.23 199.79h0.6v0.6h-0.6zM49.58 201.64h0.6v0.6h-0.6zM54.42 223.11h0.6v0.6h-0.6zM59.23 206.34h0.6v0.6h-0.6zM56.93 215.73h0.6v0.6h-0.6zM63.78 216.68h0.6v0.6h-0.6zM57.18 220.02h0.6v0.6h-0.6zM50.41 208.29h0.6v0.6h-0.6zM55.07 209.07h0.6v0.6h-0.6zM54.27 216.37h0.6v0.6h-0.6zM71.09 209.74h0.6v0.6h-0.6zM53.85 214.55h0.6v0.6h-0.6zM57.76 223.03h0.6v0.6h-0.6zM51.27 209.95h0.6v0.6h-0.6zM43.22 209.22h0.6v0.6h-0.6zM58.46 216.02h0.6v0.6h-0.6zM47.59 213.09h0.6v0.6h-0.6zM54.92 219.23h0.6v0.6h-0.6zM50.55 213.95h0.6v0.6h-0.6zM41.97 207.64h0.6v0.6h-0.6zM66.02 200.38h0.6v0.6h-0.6zM52.34 217.23h0.6v0.6h-0.6zM52.08 210.04h0.6v0.6h-0.6zM54.27 215.67h0.6v0.6h-0.6zM54.13 202.56h0.6v0.6h-0.6zM53.67 209.71h0.6v0.6h-0.6zM50.87 217.29h0.6v0.6h-0.6zM59.19 221.98h0.6v0.6h-0.6zM51.23 222.17h0.6v0.6h-0.6zM62.92 223.66h0.6v0.6h-0.6zM64.43 214.68h0.6v0.6h-0.6zM53.48 221.48h0.6v0.6h-0.6zM45.13 217.17h0.6v0.6h-0.6zM50.99 213.12h0.6v0.6h-0.6zM42.51 209.47h0.6v0.6h-0.6zM54.56 221.92h0.6v0.6h-0.6zM61.63 215.14h0.6v0.6h-0.6zM53.37 209.89h0.6v0.6h-0.6zM57.52 213.97h0.6v0.6h-0.6zM54.47 205.22h0.6v0.6h-0.6zM48.67 205.49h0.6v0.6h-0.6zM46.32 224.84h0.6v0.6h-0.6zM56.29 205.06h0.6v0.6h-0.6zM59.28 224.52h0.6v0.6h-0.6zM52.18 210.97h0.6v0.6h-0.6zM52.34 217.69h0.6v0.6h-0.6zM59.18 223.98h0.6v0.6h-0.6zM63.19 224h0.6v0.6h-0.6zM64.23 220.33h0.6v0.6h-0.6zM43.98 214.78h0.6v0.6h-0.6zM56.9 213.02h0.6v0.6h-0.6zM61.08 213.18h0.6v0.6h-0.6zM48.22 225.81h0.6v0.6h-0.6zM59.36 217.23h0.6v0.6h-0.6zM61.19 223.14h0.6v0.6h-0.6zM57.09 198.5h0.6v0.6h-0.6zM49.97 212.5h0.6v0.6h-0.6zM47.81 217.09h0.6v0.6h-0.6zM63.05 212.31h0.6v0.6h-0.6zM51.54 207.07h0.6v0.6h-0.6zM56.36 218.68h0.6v0.6h-0.6zM49.76 221.23h0.6v0.6h-0.6zM51.29 209.24h0.6v0.6h-0.6zM55.95 221.1h0.6v0.6h-0.6zM50.26 218.01h0.6v0.6h-0.6zM49.74 225.39h0.6v0.6h-0.6zM54.33 214.81h0.6v0.6h-0.6zM59.75 221.96h0.6v0.6h-0.6zM63.57 218h0.6v0.6h-0.6zM50.5 211.94h0.6v0.6h-0.6zM58.27 219.77h0.6v0.6h-0.6zM64.49 218.63h0.6v0.6h-0.6zM62.12 226.32h0.6v0.6h-0.6zM55.85 205.3h0.6v0.6h-0.6zM46.45 205.64h0.6v0.6h-0.6zM65.84 209.77h0.6v0.6h-0.6zM63.32 219.8h0.6v0.6h-0.6zM66.71 222.72h0.6v0.6h-0.6zM53.98 214.3h0.6v0.6h-0.6zM55.3 216.93h0.6v0.6h-0.6zM50.98 215.47h0.6v0.6h-0.6zM65.97 203.79h0.6v0.6h-0.6zM56.51 209.35h0.6v0.6h-0.6zM56.01 221.58h0.6v0.6h-0.6zM54.3 221.11h0.6v0.6h-0.6zM43.57 223.45h0.6v0.6h-0.6zM50.48 220.06h0.6v0.6h-0.6zM55.98 197.6h0.6v0.6h-0.6zM49.41 217.24h0.6v0.6h-0.6zM65.58 217.71h0.6v0.6h-0.6zM56.5 205.81h0.6v0.6h-0.6zM54.9 214.16h0.6v0.6h-0.6zM43.37 221.88h0.6v0.6h-0.6zM73.62 220.72h0.6v0.6h-0.6zM63.55 219.49h0.6v0.6h-0.6zM47.8 225.06h0.6v0.6h-0.6zM46.06 214.23h0.6v0.6h-0.6zM56.65 221.88h0.6v0.6h-0.6zM57.61 218.41h0.6v0.6h-0.6zM49.37 206.67h0.6v0.6h-0.6zM55.13 210.73h0.6v0.6h-0.6zM45.55 206.84h0.6v0.6h-0.6zM51.27 202.73h0.6v0.6h-0.6zM45.27 204.25h0.6v0.6h-0.6zM55.98 218.56h0.6v0.6h-0.6zM68.75 205.22h0.6v0.6h-0.6zM49.94 222.09h0.6v0.6h-0.6zM53.18 213.41h0.6v0.6h-0.6zM66.66 213.33h0.6v0.6h-0.6zM46.61 206.48h0.6v0.6h-0.6zM57.05 217.84h0.6v0.6h-0.6zM45.1 208.8h0.6v0.6h-0.6zM58.44 219.74h0.6v0.6h-0.6zM50.2 220.06h0.6v0.6h-0.6zM58.7 203.22h0.6v0.6h-0.6zM52.52 218.61h0.6v0.6h-0.6zM50.69 200.73h0.6v0.6h-0.6zM52.72 220.96h0.6v0.6h-0.6zM65.76 200.36h0.6v0.6h-0.6zM72.99 207.81h0.6v0.6h-0.6zM61.4 224.34h0.6v0.6h-0.6zM61.58 216.75h0.6v0.6h-0.6zM46.57 220.09h0.6v0.6h-0.6zM49.69 198.04h0.6v0.6h-0.6zM74.5 220.66h0.6v0.6h-0.6zM67.43 209.32h0.6v0.6h-0.6zM64.97 226.83h0.6v0.6h-0.6zM65.58 215.55h0.6v0.6h-0.6zM36.29 212.1h0.6v0.6h-0.6zM42.11 204.78h0.6v0.6h-0.6zM40.96 212.72h0.6v0.6h-0.6zM50.39 225.38h0.6v0.6h-0.6zM41.5 224.58h0.6v0.6h-0.6zM38.19 210.67h0.6v0.6h-0.6zM45.8 202.53h0.6v0.6h-0.6zM40.44 201.81h0.6v0.6h-0.6zM38.32 215.73h0.6v0.6h-0.6zM37.66 203.35h0.6v0.6h-0.6zM36.14 226.79h0.6v0.6h-0.6zM52.33 218.05h0.6v0.6h-0.6zM38.48 220.04h0.6v0.6h-0.6zM40.2 220.91h0.6v0.6h-0.6zM43.01 216.22h0.6v0.6h-0.6zM44.43 208.48h0.6v0.6h-0.6zM39.88 198.21h0.6v0.6h-0.6zM39.71 200.9h0.6v0.6h-0.6zM41.05 205.08h0.6v0.6h-0.6zM42.16 217.78h0.6v0.6h-0.6zM35.31 206.38h0.6v0.6h-0.6zM37.46 220.42h0.6v0.6h-0.6zM49.38 221.36h0.6v0.6h-0.6zM40.13 226.89h0.6v0.6h-0.6zM34.89 227.19h0.6v0.6h-0.6zM38.75 188.68h0.6v0.6h-0.6zM37.06 215.22h0.6v0.6h-0.6zM40.73 214.62h0.6v0.6h-0.6zM35.03 207.57h0.6v0.6h-0.6zM43.81 215.7h0.6v0.6h-0.6zM47.1 214.42h0.6v0.6h-0.6zM52.27 207.26h0.6v0.6h-0.6zM42.87 196.45h0.6v0.6h-0.6zM36.06 225.66h0.6v0.6h-0.6zM37.46 218.48h0.6v0.6h-0.6zM41.42 204.3h0.6v0.6h-0.6zM40.13 209.07h0.6v0.6h-0.6zM39.51 220.48h0.6v0.6h-0.6zM44.64 208.5h0.6v0.6h-0.6zM37.62 216.24h0.6v0.6h-0.6zM41.25 222.95h0.6v0.6h-0.6zM53.65 221.29h0.6v0.6h-0.6zM41.54 212.15h0.6v0.6h-0.6zM37.84 205.54h0.6v0.6h-0.6zM37.18 210.14h0.6v0.6h-0.6zM39.78 220.39h0.6v0.6h-0.6zM39.9 211.92h0.6v0.6h-0.6zM45.29 227.11h0.6v0.6h-0.6zM40.58 220.15h0.6v0.6h-0.6zM53.87 202.69h0.6v0.6h-0.6zM43.6 220.59h0.6v0.6h-0.6zM47.46 207.67h0.6v0.6h-0.6zM43.58 205.71h0.6v0.6h-0.6zM38.59 208.02h0.6v0.6h-0.6zM41.04 215.05h0.6v0.6h-0.6zM43.78 200.64h0.6v0.6h-0.6zM50.82 224.35h0.6v0.6h-0.6zM45.05 210.4h0.6v0.6h-0.6zM41.29 218.75h0.6v0.6h-0.6zM43.6 198.21h0.6v0.6h-0.6zM43.4 212.67h0.6v0.6h-0.6zM48.03 202.78h0.6v0.6h-0.6zM42.45 227.22h0.6v0.6h-0.6zM40.79 209.84h0.6v0.6h-0.6zM42.23 209.59h0.6v0.6h-0.6zM48.85 205.31h0.6v0.6h-0.6zM45.74 202.12h0.6v0.6h-0.6zM44.79 212.73h0.6v0.6h-0.6zM36.76 209.59h0.6v0.6h-0.6zM48.82 203.36h0.6v0.6h-0.6zM36.8 227.03h0.6v0.6h-0.6zM43.2 205.54h0.6v0.6h-0.6zM41.39 225.08h0.6v0.6h-0.6zM46.05 213.71h0.6v0.6h-0.6zM41.93 212.66h0.6v0.6h-0.6zM41.73 203.23h0.6v0.6h-0.6zM39.49 220.42h0.6v0.6h-0.6zM44.67 212.43h0.6v0.6h-0.6zM38.61 213.92h0.6v0.6h-0.6zM33.96 201.65h0.6v0.6h-0.6zM45.4 209.27h0.6v0.6h-0.6zM43.43 224.97h0.6v0.6h-0.6zM44.71 213.89h0.6v0.6h-0.6zM51.55 219.88h0.6v0.6h-0.6zM40.06 220.47h0.6v0.6h-0.6zM43.59 205.78h0.6v0.6h-0.6zM42.04 212.17h0.6v0.6h-0.6zM40.39 209.64h0.6v0.6h-0.6zM34.09 210.42h0.6v0.6h-0.6zM41.52 214.64h0.6v0.6h-0.6zM36.45 219.55h0.6v0.6h-0.6zM36.08 211.63h0.6v0.6h-0.6zM47.74 207.29h0.6v0.6h-0.6zM39.34 223.63h0.6v0.6h-0.6zM39.92 210.95h0.6v0.6h-0.6zM42.72 223.41h0.6v0.6h-0.6zM37.04 203.67h0.6v0.6h-0.6zM37.75 205.95h0.6v0.6h-0.6zM43.09 205.49h0.6v0.6h-0.6zM42.27 217.4h0.6v0.6h-0.6zM38.33 214.9h0.6v0.6h-0.6zM49.25 216.67h0.6v0.6h-0.6zM38.76 213.1h0.6v0.6h-0.6zM37.48 216.19h0.6v0.6h-0.6zM45.67 206.16h0.6v0.6h-0.6zM40.74 223.94h0.6v0.6h-0.6zM39.41 215.43h0.6v0.6h-0.6zM36.99 206.17h0.6v0.6h-0.6zM39.86 208.93h0.6v0.6h-0.6zM39.17 212.21h0.6v0.6h-0.6zM44.65 215.41h0.6v0.6h-0.6zM50.96 215.62h0.6v0.6h-0.6zM48.21 216.19h0.6v0.6h-0.6zM44.43 200.71h0.6v0.6h-0.6zM41.13 213.08h0.6v0.6h-0.6zM40.61 194.32h0.6v0.6h-0.6zM45.66 210.22h0.6v0.6h-0.6zM39.73 211.4h0.6v0.6h-0.6zM40.67 217.36h0.6v0.6h-0.6zM35.98 205.32h0.6v0.6h-0.6zM43.01 215.01h0.6v0.6h-0.6zM40.01 208.53h0.6v0.6h-0.6zM37.95 213.17h0.6v0.6h-0.6zM47.01 204.18h0.6v0.6h-0.6zM48.55 221.3h0.6v0.6h-0.6zM39.66 220.75h0.6v0.6h-0.6zM35.1 198.12h0.6v0.6h-0.6zM35.9 210.01h0.6v0.6h-0.6zM40.24 209.06h0.6v0.6h-0.6zM42.15 194.48h0.6v0.6h-0.6zM43.93 200.93h0.6v0.6h-0.6zM38.73 209.98h0.6v0.6h-0.6zM36.5 201.36h0.6v0.6h-0.6zM37.17 213.59h0.6v0.6h-0.6zM44.35 218.78h0.6v0.6h-0.6zM37.22 206.58h0.6v0.6h-0.6zM37.56 217.75h0.6v0.6h-0.6zM39.52 206.65h0.6v0.6h-0.6zM43.23 222.99h0.6v0.6h-0.6zM43.24 223.17h0.6v0.6h-0.6zM42.3 224.77h0.6v0.6h-0.6zM47.3 212.8h0.6v0.6h-0.6zM48.18 215.18h0.6v0.6h-0.6zM42.09 205.41h0.6v0.6h-0.6zM40.4 220.7h0.6v0.6h-0.6zM35.79 219.55h0.6v0.6h-0.6zM43.27 216.2h0.6v0.6h-0.6zM44.62 206.83h0.6v0.6h-0.6zM42.11 192.3h0.6v0.6h-0.6zM44.72 207.74h0.6v0.6h-0.6zM45.62 197.11h0.6v0.6h-0.6zM44.82 211.57h0.6v0.6h-0.6zM45.33 205.37h0.6v0.6h-0.6zM37.97 207.35h0.6v0.6h-0.6zM40.46 204.5h0.6v0.6h-0.6zM38.53 198.17h0.6v0.6h-0.6zM46.97 223.68h0.6v0.6h-0.6zM45.4 224.11h0.6v0.6h-0.6zM37.8 212.18h0.6v0.6h-0.6zM35.47 200.94h0.6v0.6h-0.6zM46.11 207.65h0.6v0.6h-0.6zM51.96 214.37h0.6v0.6h-0.6zM38.82 220.88h0.6v0.6h-0.6zM49.81 218.08h0.6v0.6h-0.6zM36.22 217.04h0.6v0.6h-0.6zM47.89 209.26h0.6v0.6h-0.6zM38.22 222.85h0.6v0.6h-0.6zM42.33 203.78h0.6v0.6h-0.6zM39.99 206.9h0.6v0.6h-0.6zM43.03 214.69h0.6v0.6h-0.6zM46.88 220.09h0.6v0.6h-0.6zM34.66 217.36h0.6v0.6h-0.6zM45.74 217.8h0.6v0.6h-0.6zM46.34 208.75h0.6v0.6h-0.6zM37.42 222.07h0.6v0.6h-0.6zM36.91 194.26h0.6v0.6h-0.6zM46.31 207.18h0.6v0.6h-0.6zM40.32 201.12h0.6v0.6h-0.6zM35.74 203.29h0.6v0.6h-0.6zM40.08 217.03h0.6v0.6h-0.6zM36.38 204.1h0.6v0.6h-0.6zM44.75 213.03h0.6v0.6h-0.6zM37.83 215.93h0.6v0.6h-0.6zM42.6 226.4h0.6v0.6h-0.6zM39.65 222.77h0.6v0.6h-0.6zM38.36 223.8h0.6v0.6h-0.6zM38.27 210.44h0.6v0.6h-0.6zM50.23 216.55h0.6v0.6h-0.6zM43.33 206.35h0.6v0.6h-0.6zM45.01 203.06h0.6v0.6h-0.6zM46.78 224.55h0.6v0.6h-0.6zM39.12 208.05h0.6v0.6h-0.6zM42.49 213.83h0.6v0.6h-0.6zM37.3 218.81h0.6v0.6h-0.6zM39.88 211.24h0.6v0.6h-0.6zM43.08 202.65h0.6v0.6h-0.6zM44.35 212.08h0.6v0.6h-0.6zM38.77 201.4h0.6v0.6h-0.6zM36.38 216.94h0.6v0.6h-0.6zM37.36 214.28h0.6v0.6h-0.6zM46.48 222.99h0.6v0.6h-0.6zM48.72 211.03h0.6v0.6h-0.6zM36.82 222.88h0.6v0.6h-0.6zM43.09 223.82h0.6v0.6h-0.6zM41.75 224.46h0.6v0.6h-0.6zM45.51 220.15h0.6v0.6h-0.6zM43.97 217.28h0.6v0.6h-0.6zM42.75 215.73h0.6v0.6h-0.6zM46.16 209.09h0.6v0.6h-0.6zM49.51 212.74h0.6v0.6h-0.6zM46.13 212.89h0.6v0.6h-0.6zM40.31 202.21h0.6v0.6h-0.6zM38.49 210.84h0.6v0.6h-0.6zM51.4 215.56h0.6v0.6h-0.6zM45.91 204.69h0.6v0.6h-0.6zM43.29 219.74h0.6v0.6h-0.6zM49.81 207.43h0.6v0.6h-0.6zM44.42 216.42h0.6v0.6h-0.6zM37.1 213.52h0.6v0.6h-0.6zM40.51 192.77h0.6v0.6h-0.6zM44.39 218.56h0.6v0.6h-0.6zM39.72 201.65h0.6v0.6h-0.6zM48.36 216.09h0.6v0.6h-0.6zM46.28 226.39h0.6v0.6h-0.6zM39.36 221.01h0.6v0.6h-0.6zM40.61 213.14h0.6v0.6h-0.6zM41.31 213.69h0.6v0.6h-0.6zM46.71 214.81h0.6v0.6h-0.6zM41.01 211.21h0.6v0.6h-0.6zM43.24 205.65h0.6v0.6h-0.6zM39.44 213.23h0.6v0.6h-0.6zM39.15 212.63h0.6v0.6h-0.6zM47.68 217.75h0.6v0.6h-0.6zM43.15 212.92h0.6v0.6h-0.6zM43.06 216.45h0.6v0.6h-0.6zM48.05 213.53h0.6v0.6h-0.6zM51.15 205.76h0.6v0.6h-0.6zM44.82 204.68h0.6v0.6h-0.6zM49.88 210.72h0.6v0.6h-0.6zM41.44 222.02h0.6v0.6h-0.6zM47.35 203.69h0.6v0.6h-0.6zM40.14 201.15h0.6v0.6h-0.6zM42.32 212.79h0.6v0.6h-0.6zM40.13 207.54h0.6v0.6h-0.6zM39.96 206.98h0.6v0.6h-0.6zM44.08 227.34h0.6v0.6h-0.6zM39.82 218.13h0.6v0.6h-0.6zM37.42 212.38h0.6v0.6h-0.6zM37.02 219.97h0.6v0.6h-0.6zM42.15 212.25h0.6v0.6h-0.6zM43.37 211.48h0.6v0.6h-0.6zM34.71 219.06h0.6v0.6h-0.6zM43 212.31h0.6v0.6h-0.6zM46.13 224.67h0.6v0.6h-0.6zM36.78 206.67h0.6v0.6h-0.6zM48.66 226.47h0.6v0.6h-0.6zM38.38 203.07h0.6v0.6h-0.6zM38.83 209.22h0.6v0.6h-0.6zM34.57 213.98h0.6v0.6h-0.6zM35.94 202.81h0.6v0.6h-0.6zM45.82 207.55h0.6v0.6h-0.6zM41.38 219.36h0.6v0.6h-0.6zM45.36 210.67h0.6v0.6h-0.6zM41.9 206.27h0.6v0.6h-0.6zM49.56 219.55h0.6v0.6h-0.6zM36.74 213.74h0.6v0.6h-0.6zM44.91 218.01h0.6v0.6h-0.6zM49.93 226.05h0.6v0.6h-0.6zM39.27 212.9h0.6v0.6h-0.6zM35.93 215.95h0.6v0.6h-0.6zM42.14 194.86h0.6v0.6h-0.6zM38.68 214.71h0.6v0.6h-0.6zM36.05 205.9h0.6v0.6h-0.6zM40.05 216.78h0.6v0.6h-0.6zM40.96 205.7h0.6v0.6h-0.6zM45.24 208.84h0.6v0.6h-0.6zM39.45 201.28h0.6v0.6h-0.6zM38.16 219.57h0.6v0.6h-0.6zM34.42 213.06h0.6v0.6h-0.6zM44.93 210.31h0.6v0.6h-0.6zM42.78 203.65h0.6v0.6h-0.6zM47.6 223.61h0.6v0.6h-0.6zM42.76 197.9h0.6v0.6h-0.6zM36.99 222.49h0.6v0.6h-0.6zM49.41 216.37h0.6v0.6h-0.6zM47.31 208.23h0.6v0.6h-0.6zM40.85 213.71h0.6v0.6h-0.6zM43.6 199.94h0.6v0.6h-0.6zM45.93 225.6h0.6v0.6h-0.6zM36.53 201.5h0.6v0.6h-0.6zM43.28 207.81h0.6v0.6h-0.6zM42.4 209.41h0.6v0.6h-0.6zM51.21 214.95h0.6v0.6h-0.6zM38.31 214.61h0.6v0.6h-0.6zM37.02 206.84h0.6v0.6h-0.6zM43.44 208.71h0.6v0.6h-0.6zM45.57 220.93h0.6v0.6h-0.6zM44.08 218.06h0.6v0.6h-0.6zM48.25 213.52h0.6v0.6h-0.6zM50.05 205.14h0.6v0.6h-0.6zM40.55 201.29h0.6v0.6h-0.6zM40.15 218.37h0.6v0.6h-0.6zM48.23 207.73h0.6v0.6h-0.6zM41.72 210.47h0.6v0.6h-0.6zM38.38 203h0.6v0.6h-0.6zM41.97 198.11h0.6v0.6h-0.6zM42.2 213.89h0.6v0.6h-0.6zM38.74 204.6h0.6v0.6h-0.6zM44.4 210.42h0.6v0.6h-0.6zM36.49 223.08h0.6v0.6h-0.6zM49.48 205.29h0.6v0.6h-0.6zM40.36 223.16h0.6v0.6h-0.6zM39.13 218.58h0.6v0.6h-0.6zM38.41 193.83h0.6v0.6h-0.6zM41.13 212.45h0.6v0.6h-0.6zM50.32 210.65h0.6v0.6h-0.6zM41.64 219.04h0.6v0.6h-0.6zM48.84 213.13h0.6v0.6h-0.6zM46.38 218.36h0.6v0.6h-0.6zM40.37 214.4h0.6v0.6h-0.6zM41.83 205.46h0.6v0.6h-0.6zM47.16 201.23h0.6v0.6h-0.6zM46.97 222.29h0.6v0.6h-0.6zM41.28 206.81h0.6v0.6h-0.6zM40.68 217.95h0.6v0.6h-0.6zM45.04 216.28h0.6v0.6h-0.6zM46.16 208.68h0.6v0.6h-0.6zM42.76 199.58h0.6v0.6h-0.6zM45.14 215.08h0.6v0.6h-0.6zM39.83 224.15h0.6v0.6h-0.6zM44.81 188.35h0.6v0.6h-0.6zM41.88 200.6h0.6v0.6h-0.6zM39.37 214.37h0.6v0.6h-0.6zM40.57 216.86h0.6v0.6h-0.6zM44.6 225.28h0.6v0.6h-0.6zM37.51 216.19h0.6v0.6h-0.6zM46.91 220.12h0.6v0.6h-0.6zM37.48 207.38h0.6v0.6h-0.6zM39.62 213.24h0.6v0.6h-0.6zM46.86 202.07h0.6v0.6h-0.6zM43.8 219.19h0.6v0.6h-0.6zM44.21 217.9h0.6v0.6h-0.6zM48.53 218.09h0.6v0.6h-0.6zM45.56 218.77h0.6v0.6h-0.6zM49.77 196.6h0.6v0.6h-0.6zM47.47 211.35h0.6v0.6h-0.6zM40.44 204.97h0.6v0.6h-0.6zM38.61 218.15h0.6v0.6h-0.6zM35.07 226.58h0.6v0.6h-0.6zM42.92 211.47h0.6v0.6h-0.6zM38.51 206.62h0.6v0.6h-0.6zM36.61 208.8h0.6v0.6h-0.6zM41.73 212.1h0.6v0.6h-0.6zM35.33 211.31h0.6v0.6h-0.6zM37.68 215.14h0.6v0.6h-0.6zM50.09 219.33h0.6v0.6h-0.6zM40.29 199.08h0.6v0.6h-0.6zM35.33 198.52h0.6v0.6h-0.6zM44.97 206.81h0.6v0.6h-0.6zM41.98 208.1h0.6v0.6h-0.6zM42.11 226.32h0.6v0.6h-0.6zM38.62 210.63h0.6v0.6h-0.6zM38.07 221.57h0.6v0.6h-0.6zM37.08 203.5h0.6v0.6h-0.6zM35.46 201.02h0.6v0.6h-0.6zM37.22 222.26h0.6v0.6h-0.6zM42.83 203.78h0.6v0.6h-0.6zM40.45 211.6h0.6v0.6h-0.6zM43.19 208.48h0.6v0.6h-0.6zM42.37 221.6h0.6v0.6h-0.6zM42.39 217.46h0.6v0.6h-0.6zM44.82 195.41h0.6v0.6h-0.6zM46.11 222.82h0.6v0.6h-0.6zM35.36 212.63h0.6v0.6h-0.6zM38.05 208.42h0.6v0.6h-0.6zM46.05 206.46h0.6v0.6h-0.6zM41.11 196.52h0.6v0.6h-0.6zM40.99 214.51h0.6v0.6h-0.6zM38.53 207.22h0.6v0.6h-0.6zM50.19 202.81h0.6v0.6h-0.6zM36.97 206.42h0.6v0.6h-0.6zM43.19 207.24h0.6v0.6h-0.6zM39.78 223.28h0.6v0.6h-0.6zM37.6 226.78h0.6v0.6h-0.6zM48.07 214.33h0.6v0.6h-0.6zM44.61 220.45h0.6v0.6h-0.6zM48.69 204.24h0.6v0.6h-0.6zM47.02 210.32h0.6v0.6h-0.6zM38.25 214.62h0.6v0.6h-0.6zM40.74 204.81h0.6v0.6h-0.6zM34.51 205.22h0.6v0.6h-0.6zM44.63 224.37h0.6v0.6h-0.6zM39.37 213.01h0.6v0.6h-0.6zM42.97 203.97h0.6v0.6h-0.6zM37.25 214.57h0.6v0.6h-0.6zM40.26 204.13h0.6v0.6h-0.6zM43.44 211.33h0.6v0.6h-0.6zM46.3 213.65h0.6v0.6h-0.6zM40.35 214.85h0.6v0.6h-0.6zM40.93 207.69h0.6v0.6h-0.6zM39.89 220.44h0.6v0.6h-0.6zM44.61 225.28h0.6v0.6h-0.6zM34.08 210.16h0.6v0.6h-0.6zM39.83 215.25h0.6v0.6h-0.6zM39.67 209.08h0.6v0.6h-0.6zM45.22 215.3h0.6v0.6h-0.6zM36.45 225.71h0.6v0.6h-0.6zM46.19 208.53h0.6v0.6h-0.6zM45.44 207.08h0.6v0.6h-0.6zM46.77 211.74h0.6v0.6h-0.6zM38.09 210.34h0.6v0.6h-0.6zM38.25 215.43h0.6v0.6h-0.6zM42.49 214.02h0.6v0.6h-0.6zM39.2 180.75h0.6v0.6h-0.6zM42.12 196.63h0.6v0.6h-0.6zM42.8 223.88h0.6v0.6h-0.6zM42.93 210.2h0.6v0.6h-0.6zM40.89 212.5h0.6v0.6h-0.6zM39.23 208.45h0.6v0.6h-0.6zM37.54 224.39h0.6v0.6h-0.6zM41.63 222.31h0.6v0.6h-0.6zM40.57 214.35h0.6v0.6h-0.6zM40.93 217.87h0.6v0.6h-0.6zM45.42 215.86h0.6v0.6h-0.6zM38.67 206.68h0.6v0.6h-0.6zM49.17 211.18h0.6v0.6h-0.6zM40.39 226.89h0.6v0.6h-0.6zM46.6 218.5h0.6v0.6h-0.6zM43.47 218.62h0.6v0.6h-0.6zM40.93 200.97h0.6v0.6h-0.6zM35.69 217.36h0.6v0.6h-0.6zM43.46 211.54h0.6v0.6h-0.6zM36.43 200.73h0.6v0.6h-0.6zM40.22 200.59h0.6v0.6h-0.6zM45.75 224.07h0.6v0.6h-0.6zM54.43 221.6h0.6v0.6h-0.6zM39.03 205.86h0.6v0.6h-0.6zM40.9 222.41h0.6v0.6h-0.6zM44.45 219h0.6v0.6h-0.6zM42.66 219.65h0.6v0.6h-0.6zM48.21 204.12h0.6v0.6h-0.6zM39.64 201.2h0.6v0.6h-0.6zM48.98 225.37h0.6v0.6h-0.6zM45.09 202.91h0.6v0.6h-0.6zM42.48 211.59h0.6v0.6h-0.6zM42.06 212.01h0.6v0.6h-0.6zM44.04 210.15h0.6v0.6h-0.6zM45.55 215.87h0.6v0.6h-0.6zM40.38 212.69h0.6v0.6h-0.6zM39.72 221.02h0.6v0.6h-0.6zM40.48 216.35h0.6v0.6h-0.6zM39.93 200.33h0.6v0.6h-0.6zM45.78 204.18h0.6v0.6h-0.6zM44.76 217.48h0.6v0.6h-0.6zM34.25 205.2h0.6v0.6h-0.6zM39.39 206.31h0.6v0.6h-0.6zM36.38 220.36h0.6v0.6h-0.6zM40.62 217.17h0.6v0.6h-0.6zM39.76 216.45h0.6v0.6h-0.6zM38.32 213.46h0.6v0.6h-0.6zM44.32 214.11h0.6v0.6h-0.6zM39.64 203.92h0.6v0.6h-0.6zM42.45 216.8h0.6v0.6h-0.6zM40.54 206.78h0.6v0.6h-0.6zM40.34 216.73h0.6v0.6h-0.6zM43.4 190.6h0.6v0.6h-0.6zM42.26 207.34h0.6v0.6h-0.6zM47.93 211.41h0.6v0.6h-0.6zM38.2 211.73h0.6v0.6h-0.6zM42.45 208.66h0.6v0.6h-0.6zM41.46 201.51h0.6v0.6h-0.6zM40.69 220.68h0.6v0.6h-0.6zM50.56 220.06h0.6v0.6h-0.6zM42.92 224.35h0.6v0.6h-0.6zM46.57 212.64h0.6v0.6h-0.6zM42.86 215.31h0.6v0.6h-0.6zM43.06 215.5h0.6v0.6h-0.6zM38.18 194.77h0.6v0.6h-0.6zM38.68 195.47h0.6v0.6h-0.6zM42.01 213.74h0.6v0.6h-0.6zM34.16 219.89h0.6v0.6h-0.6zM45.6 214.56h0.6v0.6h-0.6zM36.27 223.03h0.6v0.6h-0.6zM43.68 217.46h0.6v0.6h-0.6zM45.91 207.23h0.6v0.6h-0.6zM39.03 206.26h0.6v0.6h-0.6zM38.3 212.81h0.6v0.6h-0.6zM35.17 204.29h0.6v0.6h-0.6zM44.3 213.06h0.6v0.6h-0.6zM43.42 196.7h0.6v0.6h-0.6zM38.17 208.7h0.6v0.6h-0.6zM41.85 208.42h0.6v0.6h-0.6zM45.9 213.18h0.6v0.6h-0.6zM41.78 213.82h0.6v0.6h-0.6zM44.89 209.46h0.6v0.6h-0.6zM46.75 217.84h0.6v0.6h-0.6zM42.39 214.08h0.6v0.6h-0.6zM44.04 222.84h0.6v0.6h-0.6zM45.95 217.08h0.6v0.6h-0.6zM45.65 214.77h0.6v0.6h-0.6zM47.34 213.46h0.6v0.6h-0.6zM42.19 203.16h0.6v0.6h-0.6zM40.81 205.75h0.6v0.6h-0.6zM51.15 218.18h0.6v0.6h-0.6zM34.64 218.62h0.6v0.6h-0.6zM36.96 193.48h0.6v0.6h-0.6zM42 210.57h0.6v0.6h-0.6zM39.83 194.43h0.6v0.6h-0.6zM43.66 212.01h0.6v0.6h-0.6zM46.67 218.43h0.6v0.6h-0.6zM39.03 220.09h0.6v0.6h-0.6zM39.4 197.6h0.6v0.6h-0.6zM50.84 210.55h0.6v0.6h-0.6zM38.96 216.75h0.6v0.6h-0.6zM34.68 201.52h0.6v0.6h-0.6zM39.45 209.02h0.6v0.6h-0.6zM42.02 223.8h0.6v0.6h-0.6zM39.57 218.14h0.6v0.6h-0.6zM44.41 203.94h0.6v0.6h-0.6zM42.73 205.22h0.6v0.6h-0.6zM46.49 217.8h0.6v0.6h-0.6zM41.77 201.64h0.6v0.6h-0.6zM42.22 206.8h0.6v0.6h-0.6zM44.88 212.63h0.6v0.6h-0.6zM38.04 222.03h0.6v0.6h-0.6zM44.95 208.36h0.6v0.6h-0.6zM46.93 211.01h0.6v0.6h-0.6zM40.31 214.81h0.6v0.6h-0.6zM38.31 209.73h0.6v0.6h-0.6zM40.98 227.47h0.6v0.6h-0.6zM48.45 211.37h0.6v0.6h-0.6zM48.95 213.31h0.6v0.6h-0.6zM43.41 221.65h0.6v0.6h-0.6zM42.8 202.92h0.6v0.6h-0.6zM47.57 209.99h0.6v0.6h-0.6zM40.33 186.77h0.6v0.6h-0.6zM46.2 221.07h0.6v0.6h-0.6zM45.3 222.51h0.6v0.6h-0.6zM49.31 213.29h0.6v0.6h-0.6zM45.92 207.01h0.6v0.6h-0.6zM40.11 223.21h0.6v0.6h-0.6zM43.46 201.7h0.6v0.6h-0.6zM43.33 212.05h0.6v0.6h-0.6zM38.02 217.61h0.6v0.6h-0.6zM39.88 199.57h0.6v0.6h-0.6zM34.88 215.71h0.6v0.6h-0.6zM67.36 224.9h0.6v0.6h-0.6zM56.35 220.09h0.6v0.6h-0.6zM64.55 225.7h0.6v0.6h-0.6zM59.83 215.88h0.6v0.6h-0.6zM69.72 227.23h0.6v0.6h-0.6zM65.92 218.66h0.6v0.6h-0.6zM66.14 222.25h0.6v0.6h-0.6zM68.73 215.45h0.6v0.6h-0.6zM64.4 220.9h0.6v0.6h-0.6zM57.04 222.78h0.6v0.6h-0.6zM63.91 219.65h0.6v0.6h-0.6zM66.08 214.61h0.6v0.6h-0.6zM63.38 223.86h0.6v0.6h-0.6zM65.4 227.08h0.6v0.6h-0.6zM56.49 214.16h0.6v0.6h-0.6zM65.13 223.98h0.6v0.6h-0.6zM76.42 224.78h0.6v0.6h-0.6zM58.46 225.73h0.6v0.6h-0.6zM58.63 214.27h0.6v0.6h-0.6zM79.35 223.33h0.6v0.6h-0.6zM67.99 224.52h0.6v0.6h-0.6zM74.57 223.12h0.6v0.6h-0.6zM71.01 216.56h0.6v0.6h-0.6zM72.55 224.25h0.6v0.6h-0.6zM65.06 222.53h0.6v0.6h-0.6zM67.65 224.23h0.6v0.6h-0.6zM65.96 226.94h0.6v0.6h-0.6zM66.73 225.43h0.6v0.6h-0.6zM56.69 224.25h0.6v0.6h-0.6zM76.82 219.11h0.6v0.6h-0.6zM62.93 226.16h0.6v0.6h-0.6zM69.44 224.82h0.6v0.6h-0.6zM53.99 224.21h0.6v0.6h-0.6zM56.6 217.58h0.6v0.6h-0.6zM66.99 220.22h0.6v0.6h-0.6zM68.36 225.31h0.6v0.6h-0.6zM58.33 218.49h0.6v0.6h-0.6zM57.32 219.04h0.6v0.6h-0.6zM57.15 218.4h0.6v0.6h-0.6zM62.45 216.7h0.6v0.6h-0.6zM55.19 214.89h0.6v0.6h-0.6zM66.42 222h0.6v0.6h-0.6zM69.86 226.92h0.6v0.6h-0.6zM61.66 225.05h0.6v0.6h-0.6zM70.87 220.62h0.6v0.6h-0.6zM56.72 223.6h0.6v0.6h-0.6zM52.48 217.8h0.6v0.6h-0.6zM68.19 222.08h0.6v0.6h-0.6zM60.75 226.45h0.6v0.6h-0.6zM57.47 223.12h0.6v0.6h-0.6zM60.71 217.46h0.6v0.6h-0.6zM66.48 216.74h0.6v0.6h-0.6zM75.11 218.78h0.6v0.6h-0.6zM75.64 216.23h0.6v0.6h-0.6zM67.34 215.7h0.6v0.6h-0.6zM55.65 222.5h0.6v0.6h-0.6zM67.77 215.33h0.6v0.6h-0.6zM70.8 217.71h0.6v0.6h-0.6zM64.49 223.6h0.6v0.6h-0.6zM67.27 212.71h0.6v0.6h-0.6zM73.41 224.51h0.6v0.6h-0.6zM61.15 216.58h0.6v0.6h-0.6zM53.54 214.89h0.6v0.6h-0.6zM66.97 219.99h0.6v0.6h-0.6zM56.91 219.07h0.6v0.6h-0.6zM73.08 220.05h0.6v0.6h-0.6zM66.47 221.92h0.6v0.6h-0.6zM60.05 213.94h0.6v0.6h-0.6zM56.68 219.3h0.6v0.6h-0.6zM62.38 223.48h0.6v0.6h-0.6zM67.01 222.81h0.6v0.6h-0.6zM65.02 216.66h0.6v0.6h-0.6zM50.77 219.1h0.6v0.6h-0.6zM57.98 218.44h0.6v0.6h-0.6zM62.05 215.48h0.6v0.6h-0.6zM57.04 221.2h0.6v0.6h-0.6zM64.39 218.42h0.6v0.6h-0.6zM66.69 220.6h0.6v0.6h-0.6zM57.58 221.9h0.6v0.6h-0.6zM74.99 218.33h0.6v0.6h-0.6zM72.69 217.59h0.6v0.6h-0.6zM75.79 222.28h0.6v0.6h-0.6zM62.18 220.55h0.6v0.6h-0.6zM67.31 221.96h0.6v0.6h-0.6zM59.36 216.48h0.6v0.6h-0.6zM68.46 225.22h0.6v0.6h-0.6zM70.26 216.34h0.6v0.6h-0.6zM70.19 224.11h0.6v0.6h-0.6zM74.28 215.46h0.6v0.6h-0.6zM65.01 220.31h0.6v0.6h-0.6zM54.16 218.13h0.6v0.6h-0.6zM70.46 219.36h0.6v0.6h-0.6zM59.36 226.04h0.6v0.6h-0.6zM69.63 226.63h0.6v0.6h-0.6zM58.96 221.41h0.6v0.6h-0.6zM69.88 218.42h0.6v0.6h-0.6zM59.2 225.84h0.6v0.6h-0.6zM73.07 215.94h0.6v0.6h-0.6zM48.11 214.45h0.6v0.6h-0.6zM57.63 221.01h0.6v0.6h-0.6zM67.4 220.97h0.6v0.6h-0.6zM59.5 222.47h0.6v0.6h-0.6zM57.93 221.47h0.6v0.6h-0.6zM68.6 217.52h0.6v0.6h-0.6zM57.72 219.51h0.6v0.6h-0.6zM53.83 218.05h0.6v0.6h-0.6zM59.27 226.12h0.6v0.6h-0.6zM61.14 217.75h0.6v0.6h-0.6zM55.66 215.82h0.6v0.6h-0.6zM63.3 220.62h0.6v0.6h-0.6zM70.51 218.55h0.6v0.6h-0.6zM70.06 222.99h0.6v0.6h-0.6zM63.67 211.66h0.6v0.6h-0.6zM55.96 225.41h0.6v0.6h-0.6zM72.09 222.73h0.6v0.6h-0.6zM68.28 219.66h0.6v0.6h-0.6zM61.47 218.39h0.6v0.6h-0.6zM69.55 223.41h0.6v0.6h-0.6zM62.29 220.06h0.6v0.6h-0.6zM67.04 223.32h0.6v0.6h-0.6zM65.24 221.75h0.6v0.6h-0.6zM72.56 226.82h0.6v0.6h-0.6zM63.17 224.38h0.6v0.6h-0.6zM57.28 218.5h0.6v0.6h-0.6zM52.31 225.11h0.6v0.6h-0.6zM58.72 216.81h0.6v0.6h-0.6zM62.53 223.03h0.6v0.6h-0.6zM65.85 226.11h0.6v0.6h-0.6zM60.11 225.27h0.6v0.6h-0.6zM64.62 219.38h0.6v0.6h-0.6zM63.12 221.39h0.6v0.6h-0.6zM64.85 223.71h0.6v0.6h-0.6zM60.65 218h0.6v0.6h-0.6zM68.18 213.22h0.6v0.6h-0.6zM47.46 218.23h0.6v0.6h-0.6zM67.83 213.45h0.6v0.6h-0.6zM79.29 208.76h0.6v0.6h-0.6zM69.2 220.59h0.6v0.6h-0.6zM65.84 217.21h0.6v0.6h-0.6zM68.56 216.1h0.6v0.6h-0.6zM62.06 226.68h0.6v0.6h-0.6zM57.01 219.88h0.6v0.6h-0.6zM64.69 214.99h0.6v0.6h-0.6zM70.69 223.4h0.6v0.6h-0.6zM54.61 221.47h0.6v0.6h-0.6zM59.05 218.41h0.6v0.6h-0.6zM64.16 218.15h0.6v0.6h-0.6zM69.49 218.18h0.6v0.6h-0.6zM69.59 221.48h0.6v0.6h-0.6zM68.83 218.99h0.6v0.6h-0.6zM60.67 215.94h0.6v0.6h-0.6zM67.17 226.39h0.6v0.6h-0.6zM65.2 220.65h0.6v0.6h-0.6zM66.03 221.56h0.6v0.6h-0.6zM72.48 226.42h0.6v0.6h-0.6zM58.68 218.26h0.6v0.6h-0.6zM71.9 223.24h0.6v0.6h-0.6zM61.37 220.3h0.6v0.6h-0.6zM60.93 211.89h0.6v0.6h-0.6zM68.89 215.65h0.6v0.6h-0.6zM60.29 217.98h0.6v0.6h-0.6zM68.06 221.36h0.6v0.6h-0.6zM63.79 213.3h0.6v0.6h-0.6zM63.18 214.32h0.6v0.6h-0.6zM65.54 223.53h0.6v0.6h-0.6zM66.87 224.68h0.6v0.6h-0.6zM64.55 220.74h0.6v0.6h-0.6zM69.5 227.21h0.6v0.6h-0.6zM55.89 226.97h0.6v0.6h-0.6zM66.78 226.5h0.6v0.6h-0.6zM66.5 215.48h0.6v0.6h-0.6zM65.21 214.61h0.6v0.6h-0.6zM65.79 219.89h0.6v0.6h-0.6zM52.64 210.25h0.6v0.6h-0.6zM54.08 223.06h0.6v0.6h-0.6zM63.41 220.45h0.6v0.6h-0.6zM65.41 224.71h0.6v0.6h-0.6zM51.08 220.19h0.6v0.6h-0.6zM58.73 215.53h0.6v0.6h-0.6zM60.42 221.09h0.6v0.6h-0.6zM62.1 214.43h0.6v0.6h-0.6zM57.37 213.26h0.6v0.6h-0.6zM65.35 224.68h0.6v0.6h-0.6zM66.48 216.1h0.6v0.6h-0.6zM69.69 217.77h0.6v0.6h-0.6zM56.89 218.66h0.6v0.6h-0.6zM63.05 225.27h0.6v0.6h-0.6zM67.44 221.59h0.6v0.6h-0.6zM69.3 222.11h0.6v0.6h-0.6zM69.08 214.68h0.6v0.6h-0.6zM54.25 225.58h0.6v0.6h-0.6zM55.36 220.19h0.6v0.6h-0.6zM63.11 219.26h0.6v0.6h-0.6zM48.52 226.12h0.6v0.6h-0.6zM77.47 221.82h0.6v0.6h-0.6zM63.59 225.33h0.6v0.6h-0.6zM74.67 215.76h0.6v0.6h-0.6zM64.23 220.77h0.6v0.6h-0.6zM67.06 222.5h0.6v0.6h-0.6zM67.66 219.59h0.6v0.6h-0.6zM63.99 218.35h0.6v0.6h-0.6zM59.71 220.99h0.6v0.6h-0.6zM62.85 215.84h0.6v0.6h-0.6zM73.12 221.02h0.6v0.6h-0.6zM55.4 227.21h0.6v0.6h-0.6zM59.21 224.24h0.6v0.6h-0.6zM63.6 222.95h0.6v0.6h-0.6zM64.73 218.82h0.6v0.6h-0.6zM50.27 222.03h0.6v0.6h-0.6zM66.31 216.44h0.6v0.6h-0.6zM66.91 222.08h0.6v0.6h-0.6zM66.56 224.88h0.6v0.6h-0.6zM70.78 223.88h0.6v0.6h-0.6zM64.57 222.58h0.6v0.6h-0.6zM71.81 225.78h0.6v0.6h-0.6zM57.69 218.52h0.6v0.6h-0.6zM65.68 218.59h0.6v0.6h-0.6zM61.44 216.92h0.6v0.6h-0.6zM62.13 223.82h0.6v0.6h-0.6zM69.67 221.75h0.6v0.6h-0.6zM76.15 221.32h0.6v0.6h-0.6zM82.86 226.71h0.6v0.6h-0.6zM66.68 219.2h0.6v0.6h-0.6zM46.75 220.92h0.6v0.6h-0.6zM62.19 225.32h0.6v0.6h-0.6zM48.46 222.4h0.6v0.6h-0.6zM61.64 225.11h0.6v0.6h-0.6zM64.25 215.99h0.6v0.6h-0.6zM69.38 225.17h0.6v0.6h-0.6zM67.28 226.74h0.6v0.6h-0.6zM70.31 221.59h0.6v0.6h-0.6zM55.55 214.78h0.6v0.6h-0.6zM71.8 225.25h0.6v0.6h-0.6zM64.31 219.53h0.6v0.6h-0.6zM63.89 221.82h0.6v0.6h-0.6zM61.68 218.2h0.6v0.6h-0.6zM76.69 222.84h0.6v0.6h-0.6zM60.07 215.19h0.6v0.6h-0.6zM59.35 225.3h0.6v0.6h-0.6zM68.25 220.61h0.6v0.6h-0.6zM64.01 220.17h0.6v0.6h-0.6zM59.16 221.01h0.6v0.6h-0.6zM69 220.47h0.6v0.6h-0.6zM55.37 216.96h0.6v0.6h-0.6zM64.3 223.42h0.6v0.6h-0.6zM63.13 226.72h0.6v0.6h-0.6zM69.66 223.31h0.6v0.6h-0.6zM63.86 220.44h0.6v0.6h-0.6zM67.01 226.3h0.6v0.6h-0.6zM64.06 223.95h0.6v0.6h-0.6zM61.75 214.64h0.6v0.6h-0.6zM57.69 225.53h0.6v0.6h-0.6zM64.04 226.02h0.6v0.6h-0.6zM71.64 226.67h0.6v0.6h-0.6zM60.05 220.78h0.6v0.6h-0.6zM64.48 216.77h0.6v0.6h-0.6zM66.55 226.82h0.6v0.6h-0.6zM61.96 220.69h0.6v0.6h-0.6zM62.27 218.16h0.6v0.6h-0.6zM66.21 221.8h0.6v0.6h-0.6zM73.67 224.74h0.6v0.6h-0.6zM66.93 220.59h0.6v0.6h-0.6zM55.21 221.25h0.6v0.6h-0.6zM58.6 226.46h0.6v0.6h-0.6zM68.11 225.88h0.6v0.6h-0.6zM65.08 222.74h0.6v0.6h-0.6zM67.62 226.31h0.6v0.6h-0.6zM59.44 224.16h0.6v0.6h-0.6zM79.43 221.25h0.6v0.6h-0.6zM62.17 218.24h0.6v0.6h-0.6zM44.29 196.65h0.6v0.6h-0.6zM49.22 199.96h0.6v0.6h-0.6zM55 197.78h0.6v0.6h-0.6zM39.74 196.8h0.6v0.6h-0.6zM35.5 196.17h0.6v0.6h-0.6zM46.79 197.12h0.6v0.6h-0.6zM45.27 198.07h0.6v0.6h-0.6zM46.41 196.89h0.6v0.6h-0.6zM57.65 198.84h0.6v0.6h-0.6zM41.89 196.07h0.6v0.6h-0.6zM39.66 195.69h0.6v0.6h-0.6zM52.65 196.37h0.6v0.6h-0.6zM54 193.13h0.6v0.6h-0.6zM44.38 193.95h0.6v0.6h-0.6zM48.2 196.45h0.6v0.6h-0.6zM55.23 198.11h0.6v0.6h-0.6zM42.37 194.36h0.6v0.6h-0.6zM49.89 196.18h0.6v0.6h-0.6zM46.94 197.95h0.6v0.6h-0.6zM42.72 194.41h0.6v0.6h-0.6zM59.12 194.86h0.6v0.6h-0.6zM55.38 193.54h0.6v0.6h-0.6zM44.55 197.17h0.6v0.6h-0.6zM56.8 196.89h0.6v0.6h-0.6zM40.16 194.02h0.6v0.6h-0.6zM45.22 197.94h0.6v0.6h-0.6zM46.83 195.52h0.6v0.6h-0.6zM42.46 195.71h0.6v0.6h-0.6zM43.74 196.93h0.6v0.6h-0.6zM55.8 197.39h0.6v0.6h-0.6zM53.22 194.8h0.6v0.6h-0.6zM52.91 196.59h0.6v0.6h-0.6zM38.08 196.08h0.6v0.6h-0.6zM58.34 198.36h0.6v0.6h-0.6zM50.82 195.11h0.6v0.6h-0.6zM39.06 198.33h0.6v0.6h-0.6zM55.21 193.59h0.6v0.6h-0.6zM37.54 197.12h0.6v0.6h-0.6zM50.35 198.53h0.6v0.6h-0.6zM58.8 197.22h0.6v0.6h-0.6zM57.6 198.18h0.6v0.6h-0.6zM53.59 197.75h0.6v0.6h-0.6zM35.59 194.09h0.6v0.6h-0.6zM39.38 195.29h0.6v0.6h-0.6zM40.52 198h0.6v0.6h-0.6zM43.02 196.61h0.6v0.6h-0.6zM51.67 196.02h0.6v0.6h-0.6zM56.51 198.38h0.6v0.6h-0.6zM51.93 196.93h0.6v0.6h-0.6zM37.15 193.18h0.6v0.6h-0.6zM57.37 194.53h0.6v0.6h-0.6zM47.62 196.34h0.6v0.6h-0.6zM52.95 195.62h0.6v0.6h-0.6zM43.78 194.76h0.6v0.6h-0.6zM43.93 195.86h0.6v0.6h-0.6zM54.69 195.56h0.6v0.6h-0.6zM55.54 198.8h0.6v0.6h-0.6zM59.45 196.17h0.6v0.6h-0.6zM44.13 196.07h0.6v0.6h-0.6zM35.34 195.69h0.6v0.6h-0.6zM46.3 195.5h0.6v0.6h-0.6zM56.89 196.2h0.6v0.6h-0.6zM47.63 195.94h0.6v0.6h-0.6zM37.06 196.19h0.6v0.6h-0.6zM47.79 196.12h0.6v0.6h-0.6zM56.29 194.96h0.6v0.6h-0.6zM56.01 196.49h0.6v0.6h-0.6zM48.18 194.61h0.6v0.6h-0.6zM38.33 196.99h0.6v0.6h-0.6zM58.65 198.73h0.6v0.6h-0.6zM34.76 196.04h0.6v0.6h-0.6zM51.48 196.3h0.6v0.6h-0.6zM39.74 199.49h0.6v0.6h-0.6zM54.94 196.05h0.6v0.6h-0.6zM36.35 194.6h0.6v0.6h-0.6zM50.83 196.78h0.6v0.6h-0.6zM53.4 194.86h0.6v0.6h-0.6zM34.77 197.19h0.6v0.6h-0.6zM56.69 194.4h0.6v0.6h-0.6zM53.92 196.36h0.6v0.6h-0.6zM40.9 196.62h0.6v0.6h-0.6zM45.21 197.9h0.6v0.6h-0.6zM52.16 196.81h0.6v0.6h-0.6zM52.04 194.55h0.6v0.6h-0.6zM47.42 196.53h0.6v0.6h-0.6zM44.59 196.35h0.6v0.6h-0.6zM57.43 198.5h0.6v0.6h-0.6zM52.65 195.62h0.6v0.6h-0.6zM35.84 195.85h0.6v0.6h-0.6zM58.27 196.85h0.6v0.6h-0.6zM50.44 195.86h0.6v0.6h-0.6zM44.54 194.7h0.6v0.6h-0.6zM43.73 195.13h0.6v0.6h-0.6zM57.52 196.39h0.6v0.6h-0.6zM51.9 196.17h0.6v0.6h-0.6zM39.06 194.82h0.6v0.6h-0.6zM46.75 195.86h0.6v0.6h-0.6zM53.84 196.31h0.6v0.6h-0.6zM36.11 193.17h0.6v0.6h-0.6zM48.62 193.96h0.6v0.6h-0.6zM43.52 193.24h0.6v0.6h-0.6zM48.63 193.69h0.6v0.6h-0.6zM40.94 196.5h0.6v0.6h-0.6zM40.05 196.37h0.6v0.6h-0.6zM49.63 193.5h0.6v0.6h-0.6zM42.03 197.19h0.6v0.6h-0.6zM38.43 197.61h0.6v0.6h-0.6zM53.97 196.21h0.6v0.6h-0.6zM48.08 196.72h0.6v0.6h-0.6zM37.37 196.74h0.6v0.6h-0.6zM41.5 195.27h0.6v0.6h-0.6zM59.34 198.4h0.6v0.6h-0.6zM43.29 194.83h0.6v0.6h-0.6zM44.82 195.56h0.6v0.6h-0.6zM56.36 192.65h0.6v0.6h-0.6zM45 197.27h0.6v0.6h-0.6zM58.94 195.23h0.6v0.6h-0.6zM44.98 198.64h0.6v0.6h-0.6zM55.91 193.83h0.6v0.6h-0.6zM58.94 198.49h0.6v0.6h-0.6zM51.14 192.88h0.6v0.6h-0.6zM40.08 195.9h0.6v0.6h-0.6zM58.25 196.13h0.6v0.6h-0.6zM57.51 195.52h0.6v0.6h-0.6zM42.93 198.35h0.6v0.6h-0.6zM59.4 194.8h0.6v0.6h-0.6zM56.23 195.65h0.6v0.6h-0.6zM58.51 196.21h0.6v0.6h-0.6zM41.3 196.05h0.6v0.6h-0.6zM38.73 195.73h0.6v0.6h-0.6zM35.36 196.7h0.6v0.6h-0.6zM49.53 195.77h0.6v0.6h-0.6zM35.03 198.16h0.6v0.6h-0.6zM37.82 195h0.6v0.6h-0.6zM35.33 196.04h0.6v0.6h-0.6zM44.74 196.81h0.6v0.6h-0.6zM42.79 196.96h0.6v0.6h-0.6zM43 198.22h0.6v0.6h-0.6zM41.55 195.33h0.6v0.6h-0.6zM36.8 197.52h0.6v0.6h-0.6zM45.22 196.06h0.6v0.6h-0.6zM55.7 193.45h0.6v0.6h-0.6zM45.22 197.36h0.6v0.6h-0.6zM55.45 194.27h0.6v0.6h-0.6zM55.42 195.4h0.6v0.6h-0.6zM41.35 196.83h0.6v0.6h-0.6zM54.42 195.31h0.6v0.6h-0.6zM40.39 194.82h0.6v0.6h-0.6zM50.04 196.86h0.6v0.6h-0.6zM56.73 197.57h0.6v0.6h-0.6zM45.67 195.25h0.6v0.6h-0.6zM51.21 195.61h0.6v0.6h-0.6zM51.91 196.67h0.6v0.6h-0.6zM52.23 196.2h0.6v0.6h-0.6zM41.02 195.74h0.6v0.6h-0.6zM58.01 198.77h0.6v0.6h-0.6zM49.83 195.67h0.6v0.6h-0.6zM37.81 194.84h0.6v0.6h-0.6zM44.47 195.55h0.6v0.6h-0.6zM36.93 196.63h0.6v0.6h-0.6zM54.51 195.1h0.6v0.6h-0.6zM42.44 194.75h0.6v0.6h-0.6zM48.25 193.92h0.6v0.6h-0.6zM44.96 199.13h0.6v0.6h-0.6zM44.47 196.9h0.6v0.6h-0.6zM53.87 194.44h0.6v0.6h-0.6zM56.63 196.81h0.6v0.6h-0.6zM39.62 196.71h0.6v0.6h-0.6zM58.89 197.8h0.6v0.6h-0.6zM50.28 194.74h0.6v0.6h-0.6zM59.46 197.81h0.6v0.6h-0.6zM48.68 197.25h0.6v0.6h-0.6zM54.95 194.45h0.6v0.6h-0.6zM44.36 196.35h0.6v0.6h-0.6zM59.19 196.41h0.6v0.6h-0.6zM41.75 196.54h0.6v0.6h-0.6zM54.78 193.03h0.6v0.6h-0.6zM48.94 196.45h0.6v0.6h-0.6zM51.19 195.56h0.6v0.6h-0.6zM49.16 197.27h0.6v0.6h-0.6zM56.75 196.38h0.6v0.6h-0.6zM46.86 195.27h0.6v0.6h-0.6zM52.11 194.69h0.6v0.6h-0.6zM58.77 195.71h0.6v0.6h-0.6zM37.54 196.49h0.6v0.6h-0.6zM55.38 196h0.6v0.6h-0.6zM41.36 194.11h0.6v0.6h-0.6zM43.73 198.35h0.6v0.6h-0.6zM54.27 197.3h0.6v0.6h-0.6zM45.18 196.19h0.6v0.6h-0.6zM38.03 196.38h0.6v0.6h-0.6zM49.17 196.89h0.6v0.6h-0.6zM51.39 196.43h0.6v0.6h-0.6zM49.11 195.81h0.6v0.6h-0.6zM58.7 197.71h0.6v0.6h-0.6zM43.35 195.87h0.6v0.6h-0.6zM50.17 195.69h0.6v0.6h-0.6zM45.71 196.17h0.6v0.6h-0.6zM46.13 195.96h0.6v0.6h-0.6zM44.97 196.35h0.6v0.6h-0.6zM42 200.93h0.6v0.6h-0.6zM47.51 195.39h0.6v0.6h-0.6zM52.44 196.77h0.6v0.6h-0.6zM50.92 197.36h0.6v0.6h-0.6zM58.12 194.05h0.6v0.6h-0.6zM54.84 195.74h0.6v0.6h-0.6zM44.62 193.98h0.6v0.6h-0.6zM51.08 195.11h0.6v0.6h-0.6zM56.65 194.02h0.6v0.6h-0.6zM47.28 196.39h0.6v0.6h-0.6zM36.76 195.26h0.6v0.6h-0.6zM59.52 197.56h0.6v0.6h-0.6zM37.62 195.69h0.6v0.6h-0.6zM43.31 195.55h0.6v0.6h-0.6zM45.5 195.25h0.6v0.6h-0.6zM47.63 194.93h0.6v0.6h-0.6zM37.43 197.57h0.6v0.6h-0.6zM58.47 194.21h0.6v0.6h-0.6zM58.38 197.82h0.6v0.6h-0.6zM50.69 195.81h0.6v0.6h-0.6zM36.95 194.32h0.6v0.6h-0.6zM45.74 196.23h0.6v0.6h-0.6zM42.1 195.19h0.6v0.6h-0.6zM42.52 195.14h0.6v0.6h-0.6zM42.48 197.89h0.6v0.6h-0.6zM46.85 196.97h0.6v0.6h-0.6zM35.75 192.14h0.6v0.6h-0.6zM45.47 195.79h0.6v0.6h-0.6zM34.88 195.77h0.6v0.6h-0.6zM37.18 195.39h0.6v0.6h-0.6zM45 198.33h0.6v0.6h-0.6zM52.07 194.84h0.6v0.6h-0.6zM43.74 194.88h0.6v0.6h-0.6zM46.03 196.28h0.6v0.6h-0.6zM36.79 197.68h0.6v0.6h-0.6zM46.61 194.05h0.6v0.6h-0.6zM52.14 195.78h0.6v0.6h-0.6zM52.51 195.63h0.6v0.6h-0.6zM46.65 196.95h0.6v0.6h-0.6zM39.78 199.34h0.6v0.6h-0.6zM49.11 197.24h0.6v0.6h-0.6zM54.07 195.42h0.6v0.6h-0.6zM38.67 194.95h0.6v0.6h-0.6zM35.05 192.38h0.6v0.6h-0.6zM41.29 196.16h0.6v0.6h-0.6zM47.07 197.34h0.6v0.6h-0.6zM45.62 197.05h0.6v0.6h-0.6zM58.46 195.3h0.6v0.6h-0.6zM40.64 198.35h0.6v0.6h-0.6zM44.96 194.44h0.6v0.6h-0.6zM47.31 197.62h0.6v0.6h-0.6zM57.42 196.77h0.6v0.6h-0.6zM55.19 195.24h0.6v0.6h-0.6zM56.8 197.58h0.6v0.6h-0.6zM39.06 194.52h0.6v0.6h-0.6zM40.88 194.8h0.6v0.6h-0.6zM52.06 196.56h0.6v0.6h-0.6zM51.36 198.82h0.6v0.6h-0.6zM36.19 197.36h0.6v0.6h-0.6zM39.59 195.16h0.6v0.6h-0.6zM45.3 198.5h0.6v0.6h-0.6zM39.75 199.67h0.6v0.6h-0.6zM44.76 196.5h0.6v0.6h-0.6zM46.37 196.23h0.6v0.6h-0.6zM53.67 194.63h0.6v0.6h-0.6zM43.65 194.59h0.6v0.6h-0.6zM42 194.07h0.6v0.6h-0.6zM43.73 194.66h0.6v0.6h-0.6zM46.53 193.82h0.6v0.6h-0.6zM56.41 195.62h0.6v0.6h-0.6zM37.08 194.99h0.6v0.6h-0.6zM41.08 195.48h0.6v0.6h-0.6zM46.72 196.66h0.6v0.6h-0.6zM38.49 194.54h0.6v0.6h-0.6zM45.44 195.01h0.6v0.6h-0.6zM46.45 196.21h0.6v0.6h-0.6zM45.36 199.64h0.6v0.6h-0.6zM43.26 197.31h0.6v0.6h-0.6zM40.86 193.23h0.6v0.6h-0.6zM43.31 197.04h0.6v0.6h-0.6zM55.89 196.78h0.6v0.6h-0.6zM43.72 195.64h0.6v0.6h-0.6zM55.36 192.11h0.6v0.6h-0.6zM51.39 194.81h0.6v0.6h-0.6zM44.46 196.55h0.6v0.6h-0.6zM49.89 198.79h0.6v0.6h-0.6zM43.9 197.47h0.6v0.6h-0.6zM58.77 195.59h0.6v0.6h-0.6zM36.54 195.58h0.6v0.6h-0.6zM58.28 196.85h0.6v0.6h-0.6zM50.75 196.75h0.6v0.6h-0.6zM48.48 198.14h0.6v0.6h-0.6zM51.18 192.09h0.6v0.6h-0.6zM51.06 196.11h0.6v0.6h-0.6zM36.57 195.75h0.6v0.6h-0.6zM41.55 195.21h0.6v0.6h-0.6zM39.66 195.53h0.6v0.6h-0.6zM45.64 195.09h0.6v0.6h-0.6zM47.14 194.93h0.6v0.6h-0.6zM52.45 193.69h0.6v0.6h-0.6zM49.32 195.15h0.6v0.6h-0.6zM46.18 196.76h0.6v0.6h-0.6zM49.82 197.77h0.6v0.6h-0.6zM48.19 195.95h0.6v0.6h-0.6zM56.09 198.72h0.6v0.6h-0.6zM51.19 198.29h0.6v0.6h-0.6zM41.58 193.13h0.6v0.6h-0.6zM42.95 196.34h0.6v0.6h-0.6zM41.19 196.28h0.6v0.6h-0.6zM51.52 197h0.6v0.6h-0.6zM39.63 197.83h0.6v0.6h-0.6zM54.81 195.5h0.6v0.6h-0.6zM46.38 197.58h0.6v0.6h-0.6zM54.91 193.42h0.6v0.6h-0.6zM47.53 197.01h0.6v0.6h-0.6zM47.62 194.33h0.6v0.6h-0.6zM48.95 194.32h0.6v0.6h-0.6zM56.91 197.43h0.6v0.6h-0.6zM36.28 195.1h0.6v0.6h-0.6zM58.25 197.03h0.6v0.6h-0.6zM35.3 195.98h0.6v0.6h-0.6zM49.12 196.51h0.6v0.6h-0.6zM48.73 195.55h0.6v0.6h-0.6zM35.09 193.63h0.6v0.6h-0.6zM41.01 197.99h0.6v0.6h-0.6zM43.54 197.99h0.6v0.6h-0.6zM44.78 196.28h0.6v0.6h-0.6zM45.42 195.96h0.6v0.6h-0.6zM43.64 195.02h0.6v0.6h-0.6zM43.07 194.72h0.6v0.6h-0.6zM59.29 194.68h0.6v0.6h-0.6zM56.37 194.14h0.6v0.6h-0.6zM37.23 195.9h0.6v0.6h-0.6zM56.8 197.94h0.6v0.6h-0.6zM37.36 195.44h0.6v0.6h-0.6zM52.37 196.78h0.6v0.6h-0.6zM47.21 196.86h0.6v0.6h-0.6zM42.66 195.02h0.6v0.6h-0.6zM50.58 197.11h0.6v0.6h-0.6zM36.82 196.01h0.6v0.6h-0.6zM43.5 198.32h0.6v0.6h-0.6zM49.57 198.1h0.6v0.6h-0.6zM41.62 195.74h0.6v0.6h-0.6zM57.21 195.75h0.6v0.6h-0.6zM57.67 198.68h0.6v0.6h-0.6zM50.84 194.75h0.6v0.6h-0.6zM41.64 198.95h0.6v0.6h-0.6zM57.09 198.05h0.6v0.6h-0.6zM36.86 195.46h0.6v0.6h-0.6zM40.03 195.98h0.6v0.6h-0.6zM49.03 197.45h0.6v0.6h-0.6zM52.88 194.47h0.6v0.6h-0.6zM44.02 194.69h0.6v0.6h-0.6zM57.5 197.45h0.6v0.6h-0.6zM39.4 196.62h0.6v0.6h-0.6zM40.9 196.74h0.6v0.6h-0.6zM43.3 200.05h0.6v0.6h-0.6zM47.46 196.48h0.6v0.6h-0.6zM58.56 195.48h0.6v0.6h-0.6zM48.94 197.67h0.6v0.6h-0.6zM38.51 197.04h0.6v0.6h-0.6zM39.7 195.45h0.6v0.6h-0.6zM42.8 194.74h0.6v0.6h-0.6zM40.55 196.81h0.6v0.6h-0.6zM49.34 195.54h0.6v0.6h-0.6zM57.94 194.97h0.6v0.6h-0.6zM42.85 195.18h0.6v0.6h-0.6zM46.89 198.19h0.6v0.6h-0.6zM38.52 195.88h0.6v0.6h-0.6zM53.1 196.5h0.6v0.6h-0.6zM56.13 194.03h0.6v0.6h-0.6zM40.71 194.21h0.6v0.6h-0.6zM43.74 193.52h0.6v0.6h-0.6zM40.21 196.29h0.6v0.6h-0.6zM41.34 195.19h0.6v0.6h-0.6zM55.57 193.05h0.6v0.6h-0.6zM53.52 199.51h0.6v0.6h-0.6zM42.18 196.23h0.6v0.6h-0.6zM48.48 194.98h0.6v0.6h-0.6zM38 197.64h0.6v0.6h-0.6zM38.14 196.76h0.6v0.6h-0.6zM48.64 196.67h0.6v0.6h-0.6zM56.66 198.38h0.6v0.6h-0.6zM45.77 195.83h0.6v0.6h-0.6zM46.45 197.27h0.6v0.6h-0.6zM49.31 194.82h0.6v0.6h-0.6zM49.9 194.49h0.6v0.6h-0.6zM50.29 194.6h0.6v0.6h-0.6zM38.42 196.53h0.6v0.6h-0.6zM55.5 196.17h0.6v0.6h-0.6zM41.1 195.38h0.6v0.6h-0.6zM47.2 196.75h0.6v0.6h-0.6zM40.03 197.8h0.6v0.6h-0.6zM38.71 194.11h0.6v0.6h-0.6zM41.98 197.07h0.6v0.6h-0.6zM51.9 197.54h0.6v0.6h-0.6zM51.33 196.64h0.6v0.6h-0.6zM48.35 196.95h0.6v0.6h-0.6zM58.05 195.71h0.6v0.6h-0.6zM59.28 194.39h0.6v0.6h-0.6zM42.14 197.8h0.6v0.6h-0.6zM47.42 194.98h0.6v0.6h-0.6zM45.88 197h0.6v0.6h-0.6zM52.2 198.3h0.6v0.6h-0.6zM56.76 197.77h0.6v0.6h-0.6zM42.09 196.45h0.6v0.6h-0.6zM42.26 196.46h0.6v0.6h-0.6zM35.91 197.8h0.6v0.6h-0.6zM53.07 198.1h0.6v0.6h-0.6zM45.31 194.66h0.6v0.6h-0.6zM35.12 194.01h0.6v0.6h-0.6zM56.58 196.63h0.6v0.6h-0.6zM50.86 197h0.6v0.6h-0.6zM45.13 196.21h0.6v0.6h-0.6zM40.88 196.26h0.6v0.6h-0.6zM36.02 195.53h0.6v0.6h-0.6zM35.42 196.49h0.6v0.6h-0.6zM52.81 193.85h0.6v0.6h-0.6zM47.5 196.91h0.6v0.6h-0.6zM38.73 197.54h0.6v0.6h-0.6zM37.79 196.94h0.6v0.6h-0.6zM53.5 194.65h0.6v0.6h-0.6zM58.48 195.5h0.6v0.6h-0.6zM47.89 196.53h0.6v0.6h-0.6zM47.21 195.97h0.6v0.6h-0.6zM35.85 196.51h0.6v0.6h-0.6zM54.44 196.66h0.6v0.6h-0.6zM48.36 194.65h0.6v0.6h-0.6zM44.82 196.83h0.6v0.6h-0.6zM50.32 199.65h0.6v0.6h-0.6zM57.16 195.58h0.6v0.6h-0.6zM59.67 195.06h0.6v0.6h-0.6zM41.43 196.6h0.6v0.6h-0.6zM36.47 196.38h0.6v0.6h-0.6zM37.68 197.6h0.6v0.6h-0.6zM51.94 197.09h0.6v0.6h-0.6zM44.27 197.64h0.6v0.6h-0.6zM41.19 195.57h0.6v0.6h-0.6zM35.1 197.56h0.6v0.6h-0.6zM49.02 197.21h0.6v0.6h-0.6zM56.06 197.99h0.6v0.6h-0.6zM43.96 198.2h0.6v0.6h-0.6zM41.73 194.93h0.6v0.6h-0.6zM41.73 194.72h0.6v0.6h-0.6zM49.19 195.41h0.6v0.6h-0.6zM55.86 198.24h0.6v0.6h-0.6zM52.74 196.64h0.6v0.6h-0.6zM54.95 194.09h0.6v0.6h-0.6zM48.93 195.87h0.6v0.6h-0.6zM39.74 193.92h0.6v0.6h-0.6zM37.48 199.23h0.6v0.6h-0.6zM40.32 197.02h0.6v0.6h-0.6zM40.99 194.44h0.6v0.6h-0.6zM45.24 196.78h0.6v0.6h-0.6zM51.93 200.05h0.6v0.6h-0.6zM48.62 196.84h0.6v0.6h-0.6zM46.75 194.18h0.6v0.6h-0.6zM42.28 195.64h0.6v0.6h-0.6zM45.67 197.24h0.6v0.6h-0.6zM35.22 198.81h0.6v0.6h-0.6zM43.21 197.36h0.6v0.6h-0.6zM45.02 197.13h0.6v0.6h-0.6zM39.58 194.6h0.6v0.6h-0.6zM48.41 197.26h0.6v0.6h-0.6zM35.44 198.56h0.6v0.6h-0.6zM46.58 194.96h0.6v0.6h-0.6zM38.24 194.95h0.6v0.6h-0.6zM52.04 194.9h0.6v0.6h-0.6zM40.31 196.78h0.6v0.6h-0.6zM42.15 195.98h0.6v0.6h-0.6zM43.78 198.85h0.6v0.6h-0.6zM35.03 198.27h0.6v0.6h-0.6zM35.53 197.21h0.6v0.6h-0.6zM39.85 196.71h0.6v0.6h-0.6zM56.14 193.97h0.6v0.6h-0.6zM58.06 195.84h0.6v0.6h-0.6zM35.1 196.21h0.6v0.6h-0.6zM57.18 198.69h0.6v0.6h-0.6zM55.39 196.27h0.6v0.6h-0.6zM53.01 197.95h0.6v0.6h-0.6zM57.41 196.89h0.6v0.6h-0.6zM45.68 197.2h0.6v0.6h-0.6zM43.71 195.6h0.6v0.6h-0.6zM34.8 194.07h0.6v0.6h-0.6zM57.07 197.48h0.6v0.6h-0.6zM58.32 197.88h0.6v0.6h-0.6zM39.96 193.42h0.6v0.6h-0.6zM46.54 195.47h0.6v0.6h-0.6zM44.11 196.08h0.6v0.6h-0.6zM37.95 197.29h0.6v0.6h-0.6zM41.78 194.3h0.6v0.6h-0.6zM55.8 199.37h0.6v0.6h-0.6zM49.74 195.94h0.6v0.6h-0.6zM47.07 196.93h0.6v0.6h-0.6zM47.98 196.2h0.6v0.6h-0.6zM42.17 198.01h0.6v0.6h-0.6zM43.64 197.34h0.6v0.6h-0.6zM38.83 197.86h0.6v0.6h-0.6zM40.58 195.69h0.6v0.6h-0.6zM37.77 196.79h0.6v0.6h-0.6zM44 197.23h0.6v0.6h-0.6zM57.1 199.8h0.6v0.6h-0.6zM54.93 197.55h0.6v0.6h-0.6zM44.87 196.27h0.6v0.6h-0.6zM57.02 198.47h0.6v0.6h-0.6zM52.22 195.4h0.6v0.6h-0.6zM52.13 196.93h0.6v0.6h-0.6zM45.99 196.83h0.6v0.6h-0.6zM38.97 195.66h0.6v0.6h-0.6zM55.59 195.94h0.6v0.6h-0.6zM46.39 196.99h0.6v0.6h-0.6zM38.28 193.86h0.6v0.6h-0.6zM46.12 196.46h0.6v0.6h-0.6zM56.15 193.18h0.6v0.6h-0.6zM43.11 192.99h0.6v0.6h-0.6zM51.54 197.76h0.6v0.6h-0.6zM51.77 196.15h0.6v0.6h-0.6zM38.04 197.34h0.6v0.6h-0.6zM41.73 196.79h0.6v0.6h-0.6zM56.81 192.92h0.6v0.6h-0.6zM57.55 198.24h0.6v0.6h-0.6zM36.88 195.99h0.6v0.6h-0.6zM54.58 195.47h0.6v0.6h-0.6zM55.77 195.8h0.6v0.6h-0.6zM55.08 191.53h0.6v0.6h-0.6zM41.78 193.25h0.6v0.6h-0.6zM53.19 197.39h0.6v0.6h-0.6zM51.09 193.32h0.6v0.6h-0.6zM53.07 196.89h0.6v0.6h-0.6zM36.68 197.3h0.6v0.6h-0.6zM56.44 194.39h0.6v0.6h-0.6zM56.5 194.53h0.6v0.6h-0.6zM48.78 194.2h0.6v0.6h-0.6zM45.48 194.77h0.6v0.6h-0.6zM41.16 195.69h0.6v0.6h-0.6zM43.85 195.13h0.6v0.6h-0.6zM36.41 195.44h0.6v0.6h-0.6zM34.77 194.8h0.6v0.6h-0.6zM57.13 198.92h0.6v0.6h-0.6zM54.34 196.25h0.6v0.6h-0.6zM37.6 195.21h0.6v0.6h-0.6zM39.23 194.54h0.6v0.6h-0.6zM57.62 196.95h0.6v0.6h-0.6zM53.88 196.24h0.6v0.6h-0.6zM56.01 197.47h0.6v0.6h-0.6zM42.79 196.16h0.6v0.6h-0.6zM38.09 197.25h0.6v0.6h-0.6zM55.5 195.2h0.6v0.6h-0.6zM45.44 193.49h0.6v0.6h-0.6zM57.01 195.26h0.6v0.6h-0.6zM51.09 194.62h0.6v0.6h-0.6zM50.86 194.69h0.6v0.6h-0.6zM55.32 197.2h0.6v0.6h-0.6zM42.02 196.82h0.6v0.6h-0.6zM37.77 196.29h0.6v0.6h-0.6zM37.68 195.43h0.6v0.6h-0.6zM35.88 197.02h0.6v0.6h-0.6zM54.45 195.88h0.6v0.6h-0.6zM59.04 196.42h0.6v0.6h-0.6zM35.83 197.29h0.6v0.6h-0.6zM41.86 195.7h0.6v0.6h-0.6zM35.18 195.51h0.6v0.6h-0.6zM49.65 197.79h0.6v0.6h-0.6zM48.75 195.56h0.6v0.6h-0.6zM49.63 196.05h0.6v0.6h-0.6zM36.29 197.79h0.6v0.6h-0.6zM44.94 195.82h0.6v0.6h-0.6zM57.88 195.42h0.6v0.6h-0.6zM35.87 198.7h0.6v0.6h-0.6zM40.64 197.07h0.6v0.6h-0.6zM35.41 194.68h0.6v0.6h-0.6zM35.54 196.22h0.6v0.6h-0.6zM50.93 195.35h0.6v0.6h-0.6zM56.85 195.85h0.6v0.6h-0.6zM41.43 198.27h0.6v0.6h-0.6zM58.5 193.65h0.6v0.6h-0.6zM48.7 193.76h0.6v0.6h-0.6zM42.46 196.97h0.6v0.6h-0.6zM36.86 195.23h0.6v0.6h-0.6zM39.64 195h0.6v0.6h-0.6zM57.9 194.02h0.6v0.6h-0.6zM42.6 198.25h0.6v0.6h-0.6zM49.29 197.99h0.6v0.6h-0.6zM40.26 195.85h0.6v0.6h-0.6zM44.18 195.21h0.6v0.6h-0.6zM44.64 197.11h0.6v0.6h-0.6zM56.64 197.62h0.6v0.6h-0.6zM58.66 196.64h0.6v0.6h-0.6zM41.74 196.03h0.6v0.6h-0.6zM42.34 194.46h0.6v0.6h-0.6zM39.3 196.43h0.6v0.6h-0.6zM42.05 199.34h0.6v0.6h-0.6zM45.86 194.82h0.6v0.6h-0.6zM35.94 193.22h0.6v0.6h-0.6zM58.52 193.84h0.6v0.6h-0.6zM36.44 195.92h0.6v0.6h-0.6zM41.95 197.77h0.6v0.6h-0.6zM49.92 197.89h0.6v0.6h-0.6zM39.4 195.42h0.6v0.6h-0.6zM46.07 195.39h0.6v0.6h-0.6zM36.41 198.41h0.6v0.6h-0.6zM48.83 196.45h0.6v0.6h-0.6zM55.84 197.43h0.6v0.6h-0.6zM42.91 195.98h0.6v0.6h-0.6zM40.93 197.26h0.6v0.6h-0.6zM39.99 196.3h0.6v0.6h-0.6zM36.41 198.15h0.6v0.6h-0.6zM35.66 194.9h0.6v0.6h-0.6zM50.48 194.3h0.6v0.6h-0.6zM50.36 196.94h0.6v0.6h-0.6zM56.84 193.22h0.6v0.6h-0.6zM45.46 196.88h0.6v0.6h-0.6zM38.31 197.85h0.6v0.6h-0.6zM43.53 196.9h0.6v0.6h-0.6zM57.82 196.41h0.6v0.6h-0.6zM48.2 197.14h0.6v0.6h-0.6zM48.5 196.39h0.6v0.6h-0.6zM36.69 194h0.6v0.6h-0.6zM38.78 196.03h0.6v0.6h-0.6zM53.11 194.84h0.6v0.6h-0.6zM56.62 198.45h0.6v0.6h-0.6zM42.55 197.31h0.6v0.6h-0.6zM56.2 195.97h0.6v0.6h-0.6zM41.9 196.7h0.6v0.6h-0.6zM44.97 195.76h0.6v0.6h-0.6zM40.39 198.33h0.6v0.6h-0.6zM52.53 194.98h0.6v0.6h-0.6zM42.55 199.19h0.6v0.6h-0.6zM57.95 197.91h0.6v0.6h-0.6zM50.11 194.7h0.6v0.6h-0.6zM44.62 195.59h0.6v0.6h-0.6zM42 196.59h0.6v0.6h-0.6zM37.27 197h0.6v0.6h-0.6zM44.23 197.8h0.6v0.6h-0.6zM48.02 195.56h0.6v0.6h-0.6zM43.51 194.88h0.6v0.6h-0.6zM52.15 196.18h0.6v0.6h-0.6zM46.97 192.95h0.6v0.6h-0.6zM57.93 194.94h0.6v0.6h-0.6zM36.38 195.55h0.6v0.6h-0.6zM45.88 194.5h0.6v0.6h-0.6zM53.77 199.71h0.6v0.6h-0.6zM55.96 197.23h0.6v0.6h-0.6zM52.54 196.08h0.6v0.6h-0.6zM49.2 197.27h0.6v0.6h-0.6zM44.66 196.17h0.6v0.6h-0.6zM50.71 195.24h0.6v0.6h-0.6zM52.39 196.98h0.6v0.6h-0.6zM53.26 194.34h0.6v0.6h-0.6zM48.89 195.05h0.6v0.6h-0.6zM54.23 197.63h0.6v0.6h-0.6zM35.19 196.41h0.6v0.6h-0.6zM50.57 197.4h0.6v0.6h-0.6zM56.52 196.66h0.6v0.6h-0.6zM53.3 194.26h0.6v0.6h-0.6zM50.44 195.53h0.6v0.6h-0.6zM56.25 197.76h0.6v0.6h-0.6zM46.75 196h0.6v0.6h-0.6zM43.31 197.41h0.6v0.6h-0.6zM58.81 196.26h0.6v0.6h-0.6zM42.56 194.42h0.6v0.6h-0.6zM58.41 197.55h0.6v0.6h-0.6zM55.91 195.71h0.6v0.6h-0.6zM56.87 193.49h0.6v0.6h-0.6zM57.77 198.54h0.6v0.6h-0.6zM40.73 195.95h0.6v0.6h-0.6zM36.95 195.32h0.6v0.6h-0.6zM52.41 192.75h0.6v0.6h-0.6zM56.12 195.55h0.6v0.6h-0.6zM37.6 196.61h0.6v0.6h-0.6zM35.34 193.4h0.6v0.6h-0.6zM40.62 195.57h0.6v0.6h-0.6zM45.75 192.8h0.6v0.6h-0.6zM51.4 197.6h0.6v0.6h-0.6zM54.35 196.25h0.6v0.6h-0.6zM41.6 197.56h0.6v0.6h-0.6zM50.41 198.7h0.6v0.6h-0.6zM54.14 195.21h0.6v0.6h-0.6zM42.32 192.31h0.6v0.6h-0.6zM53.23 197.63h0.6v0.6h-0.6zM41.62 194.89h0.6v0.6h-0.6zM35.28 193.09h0.6v0.6h-0.6zM41.54 196.9h0.6v0.6h-0.6zM35.96 194.96h0.6v0.6h-0.6zM43.45 198.92h0.6v0.6h-0.6zM39.86 197.23h0.6v0.6h-0.6zM55.9 193.18h0.6v0.6h-0.6zM44.83 196.18h0.6v0.6h-0.6zM41.43 195.25h0.6v0.6h-0.6zM44.88 197.34h0.6v0.6h-0.6zM53.12 195.8h0.6v0.6h-0.6zM56.19 198.03h0.6v0.6h-0.6zM42.12 197.15h0.6v0.6h-0.6zM47.73 199.61h0.6v0.6h-0.6zM41.05 196.89h0.6v0.6h-0.6zM46.3 195.25h0.6v0.6h-0.6zM39.56 196.08h0.6v0.6h-0.6zM58.33 195h0.6v0.6h-0.6zM52.43 194.52h0.6v0.6h-0.6zM44.83 196.48h0.6v0.6h-0.6zM39.31 196.98h0.6v0.6h-0.6zM45.43 195.68h0.6v0.6h-0.6zM59.38 196.25h0.6v0.6h-0.6zM41.31 194.68h0.6v0.6h-0.6zM48.87 195.18h0.6v0.6h-0.6zM45.38 195.44h0.6v0.6h-0.6zM54.96 192.54h0.6v0.6h-0.6zM59.49 193.38h0.6v0.6h-0.6zM42.98 195.28h0.6v0.6h-0.6zM57.52 194.47h0.6v0.6h-0.6zM36.39 195.51h0.6v0.6h-0.6zM44.46 193.07h0.6v0.6h-0.6zM43.1 196.72h0.6v0.6h-0.6zM40.15 197.98h0.6v0.6h-0.6zM41.39 195.87h0.6v0.6h-0.6zM45.39 196.77h0.6v0.6h-0.6zM47.75 196.19h0.6v0.6h-0.6zM36.4 197.2h0.6v0.6h-0.6zM58.97 196.13h0.6v0.6h-0.6zM43.62 193.82h0.6v0.6h-0.6zM50.84 198.7h0.6v0.6h-0.6zM44.77 193.72h0.6v0.6h-0.6zM43.44 196.95h0.6v0.6h-0.6zM36.95 197.29h0.6v0.6h-0.6zM42.8 194.11h0.6v0.6h-0.6zM38.23 195.41h0.6v0.6h-0.6zM39.88 195.58h0.6v0.6h-0.6zM55.63 196.22h0.6v0.6h-0.6zM38.08 197.25h0.6v0.6h-0.6zM40.79 194.13h0.6v0.6h-0.6zM58.28 195.76h0.6v0.6h-0.6zM55.49 197.4h0.6v0.6h-0.6zM48.84 197.55h0.6v0.6h-0.6zM43.18 197.65h0.6v0.6h-0.6zM57.39 197.29h0.6v0.6h-0.6zM52.81 195.71h0.6v0.6h-0.6zM42.18 194.52h0.6v0.6h-0.6zM50.9 197.76h0.6v0.6h-0.6zM53.36 195.86h0.6v0.6h-0.6zM44.57 197.19h0.6v0.6h-0.6zM34.81 194.61h0.6v0.6h-0.6zM58.03 193.64h0.6v0.6h-0.6zM50.1 196.67h0.6v0.6h-0.6zM56.26 198.45h0.6v0.6h-0.6zM49.51 195.28h0.6v0.6h-0.6zM52.36 194.15h0.6v0.6h-0.6zM58.22 196.8h0.6v0.6h-0.6zM54.47 196.66h0.6v0.6h-0.6zM38.5 195.29h0.6v0.6h-0.6zM50.81 193.92h0.6v0.6h-0.6zM41.05 198.35h0.6v0.6h-0.6zM40.58 195.43h0.6v0.6h-0.6zM50.9 198.2h0.6v0.6h-0.6zM52.34 193.88h0.6v0.6h-0.6zM43.1 196.48h0.6v0.6h-0.6zM59.05 194.87h0.6v0.6h-0.6zM45.02 195.68h0.6v0.6h-0.6zM59.07 196.78h0.6v0.6h-0.6zM57.01 195.63h0.6v0.6h-0.6zM43 197.15h0.6v0.6h-0.6zM43.94 196.46h0.6v0.6h-0.6zM45.33 194.99h0.6v0.6h-0.6zM46.14 194.14h0.6v0.6h-0.6zM49.11 194.66h0.6v0.6h-0.6zM58.87 197.33h0.6v0.6h-0.6zM57.4 194.45h0.6v0.6h-0.6zM55.93 193.08h0.6v0.6h-0.6zM50.26 197.23h0.6v0.6h-0.6zM45.53 197.6h0.6v0.6h-0.6zM54.07 194.23h0.6v0.6h-0.6zM45.72 196.99h0.6v0.6h-0.6zM37.01 195.08h0.6v0.6h-0.6zM37.39 194.38h0.6v0.6h-0.6zM43.58 196.82h0.6v0.6h-0.6zM36.68 194.51h0.6v0.6h-0.6zM55.61 196.96h0.6v0.6h-0.6zM40.21 195.88h0.6v0.6h-0.6zM40.56 194.24h0.6v0.6h-0.6zM41.57 197.49h0.6v0.6h-0.6zM46.69 194.97h0.6v0.6h-0.6zM42.11 195.55h0.6v0.6h-0.6zM42.27 196.92h0.6v0.6h-0.6zM50.51 197.81h0.6v0.6h-0.6zM51.47 195.27h0.6v0.6h-0.6zM41.4 196.04h0.6v0.6h-0.6zM52.79 194.67h0.6v0.6h-0.6zM48.78 193.74h0.6v0.6h-0.6zM57.91 196.56h0.6v0.6h-0.6zM57.5 196.95h0.6v0.6h-0.6zM52.06 197.96h0.6v0.6h-0.6zM38.56 195.79h0.6v0.6h-0.6zM41.53 198.97h0.6v0.6h-0.6zM45.48 194.75h0.6v0.6h-0.6zM41.79 195.07h0.6v0.6h-0.6zM34.76 196.46h0.6v0.6h-0.6zM43.24 193.39h0.6v0.6h-0.6zM42.19 196.8h0.6v0.6h-0.6zM39.95 195.91h0.6v0.6h-0.6zM51.51 196.22h0.6v0.6h-0.6zM52.76 193.86h0.6v0.6h-0.6zM43.22 195.58h0.6v0.6h-0.6zM40.41 196.76h0.6v0.6h-0.6zM46.08 196.99h0.6v0.6h-0.6zM40.16 196.23h0.6v0.6h-0.6zM52.3 197.16h0.6v0.6h-0.6zM54.82 199.3h0.6v0.6h-0.6zM52.98 195.85h0.6v0.6h-0.6zM51.32 194.26h0.6v0.6h-0.6zM51.25 199.33h0.6v0.6h-0.6zM43.54 194.83h0.6v0.6h-0.6zM58.19 197.93h0.6v0.6h-0.6zM38.93 196.72h0.6v0.6h-0.6zM35.12 194.84h0.6v0.6h-0.6zM38.92 197.25h0.6v0.6h-0.6zM38.01 198.93h0.6v0.6h-0.6zM53.9 192.55h0.6v0.6h-0.6zM44.9 196.57h0.6v0.6h-0.6zM57.17 196.26h0.6v0.6h-0.6zM36.2 198.4h0.6v0.6h-0.6zM54.17 197.23h0.6v0.6h-0.6zM51.37 194.36h0.6v0.6h-0.6zM59.17 192.39h0.6v0.6h-0.6zM49 196.81h0.6v0.6h-0.6zM38.69 197.29h0.6v0.6h-0.6zM50.71 195.48h0.6v0.6h-0.6zM56.17 195.83h0.6v0.6h-0.6zM41.9 194.54h0.6v0.6h-0.6zM39.61 197.14h0.6v0.6h-0.6zM58.37 196.17h0.6v0.6h-0.6zM45.62 197.2h0.6v0.6h-0.6zM55.77 195.66h0.6v0.6h-0.6zM53.9 194.9h0.6v0.6h-0.6zM44.46 195.17h0.6v0.6h-0.6zM57.65 198.88h0.6v0.6h-0.6zM45.19 197.98h0.6v0.6h-0.6zM34.78 197.63h0.6v0.6h-0.6zM54.93 198h0.6v0.6h-0.6zM46.62 195.84h0.6v0.6h-0.6zM41.32 196.11h0.6v0.6h-0.6zM46.89 194.09h0.6v0.6h-0.6zM50.38 197.14h0.6v0.6h-0.6zM36.52 197.89h0.6v0.6h-0.6zM37.19 195.57h0.6v0.6h-0.6zM59.11 198.82h0.6v0.6h-0.6zM39.32 194.72h0.6v0.6h-0.6zM50.02 195.95h0.6v0.6h-0.6zM54.29 196.37h0.6v0.6h-0.6zM40.33 197.81h0.6v0.6h-0.6zM52.44 198.03h0.6v0.6h-0.6zM48.27 195.01h0.6v0.6h-0.6zM38.07 197.51h0.6v0.6h-0.6zM35.52 200.58h0.6v0.6h-0.6zM45.56 195.32h0.6v0.6h-0.6zM58.99 197.32h0.6v0.6h-0.6zM44.17 195.85h0.6v0.6h-0.6zM48.36 197.45h0.6v0.6h-0.6zM49.7 195.75h0.6v0.6h-0.6zM51.27 197.47h0.6v0.6h-0.6zM48.58 191.57h0.6v0.6h-0.6zM48.8 195.04h0.6v0.6h-0.6zM50.84 196.47h0.6v0.6h-0.6zM49.02 197.13h0.6v0.6h-0.6zM38.04 196.23h0.6v0.6h-0.6zM50.29 195.28h0.6v0.6h-0.6zM44.69 198.55h0.6v0.6h-0.6zM57.75 193.13h0.6v0.6h-0.6zM59.1 195.62h0.6v0.6h-0.6zM56.82 197.78h0.6v0.6h-0.6zM48.45 195.8h0.6v0.6h-0.6zM55.07 196.85h0.6v0.6h-0.6zM38.04 196.65h0.6v0.6h-0.6zM48.02 195.69h0.6v0.6h-0.6zM48.81 196.24h0.6v0.6h-0.6zM54.72 194.31h0.6v0.6h-0.6zM43.18 195.84h0.6v0.6h-0.6zM53.58 196h0.6v0.6h-0.6zM50.37 196.23h0.6v0.6h-0.6zM47.28 194.99h0.6v0.6h-0.6zM36.58 195.16h0.6v0.6h-0.6zM46.79 193.32h0.6v0.6h-0.6zM56.19 197.69h0.6v0.6h-0.6zM50.78 195.19h0.6v0.6h-0.6zM41.68 194.63h0.6v0.6h-0.6zM41.06 192.88h0.6v0.6h-0.6zM43.01 195.23h0.6v0.6h-0.6zM58.76 197.51h0.6v0.6h-0.6zM45.31 198.61h0.6v0.6h-0.6zM51.98 193.12h0.6v0.6h-0.6zM50.05 198.51h0.6v0.6h-0.6zM37.99 195.23h0.6v0.6h-0.6zM39.01 194.56h0.6v0.6h-0.6zM49.59 196.07h0.6v0.6h-0.6zM55.95 195.9h0.6v0.6h-0.6zM46.84 197.47h0.6v0.6h-0.6zM57.37 195.84h0.6v0.6h-0.6zM56.31 195.8h0.6v0.6h-0.6zM51.69 196.19h0.6v0.6h-0.6zM48.11 196.96h0.6v0.6h-0.6zM38.87 198.04h0.6v0.6h-0.6zM37.62 196.29h0.6v0.6h-0.6zM63.83 199.49h0.6v0.6h-0.6zM60.74 199.95h0.6v0.6h-0.6zM60.9 199.56h0.6v0.6h-0.6zM58.37 198.84h0.6v0.6h-0.6zM63.16 197.6h0.6v0.6h-0.6zM60.25 197.96h0.6v0.6h-0.6zM64.26 197.7h0.6v0.6h-0.6zM63.25 200.84h0.6v0.6h-0.6zM62.96 196.45h0.6v0.6h-0.6zM62.16 200.17h0.6v0.6h-0.6zM60.72 200.26h0.6v0.6h-0.6zM63.89 199.3h0.6v0.6h-0.6zM60.81 197.99h0.6v0.6h-0.6zM60.83 198.8h0.6v0.6h-0.6zM63.56 199.3h0.6v0.6h-0.6zM60.68 198.81h0.6v0.6h-0.6zM63.09 196.44h0.6v0.6h-0.6zM59.05 197.6h0.6v0.6h-0.6zM61.03 198.33h0.6v0.6h-0.6zM60.84 197.5h0.6v0.6h-0.6zM64.1 199.11h0.6v0.6h-0.6zM56 198.74h0.6v0.6h-0.6zM57.81 201.1h0.6v0.6h-0.6zM60.16 198.17h0.6v0.6h-0.6zM62.05 198.44h0.6v0.6h-0.6zM61.55 200.89h0.6v0.6h-0.6zM62.55 199.89h0.6v0.6h-0.6zM65.7 197.36h0.6v0.6h-0.6zM67.67 199.69h0.6v0.6h-0.6zM65.11 197.52h0.6v0.6h-0.6zM64.62 199.3h0.6v0.6h-0.6zM59.88 201.92h0.6v0.6h-0.6zM63.75 198.39h0.6v0.6h-0.6zM62.44 200h0.6v0.6h-0.6zM65.72 199.54h0.6v0.6h-0.6zM66.03 200.78h0.6v0.6h-0.6zM57.45 198.05h0.6v0.6h-0.6zM58.48 198.86h0.6v0.6h-0.6zM66.82 199.64h0.6v0.6h-0.6zM58.11 198.32h0.6v0.6h-0.6zM65.37 197.98h0.6v0.6h-0.6zM61.43 199.15h0.6v0.6h-0.6zM55.39 199.82h0.6v0.6h-0.6zM62.97 199.52h0.6v0.6h-0.6zM58.34 197.65h0.6v0.6h-0.6zM59.68 199.08h0.6v0.6h-0.6zM62.02 198.91h0.6v0.6h-0.6zM68.04 200.56h0.6v0.6h-0.6zM59.25 197.81h0.6v0.6h-0.6zM67.78 198.28h0.6v0.6h-0.6zM66.6 200.97h0.6v0.6h-0.6zM59.87 198.35h0.6v0.6h-0.6zM62.06 197.52h0.6v0.6h-0.6zM58.35 198.17h0.6v0.6h-0.6zM64.75 198.1h0.6v0.6h-0.6zM61.05 198.08h0.6v0.6h-0.6zM56.99 200.81h0.6v0.6h-0.6zM53.57 197.81h0.6v0.6h-0.6zM63.73 196.77h0.6v0.6h-0.6zM63.89 200.48h0.6v0.6h-0.6zM58.76 199.02h0.6v0.6h-0.6zM57.88 199.44h0.6v0.6h-0.6zM62.08 199.03h0.6v0.6h-0.6zM66.55 199.39h0.6v0.6h-0.6zM66.48 199.62h0.6v0.6h-0.6zM57.57 199.09h0.6v0.6h-0.6zM63.48 196.7h0.6v0.6h-0.6zM66.44 198.82h0.6v0.6h-0.6zM63.06 197.47h0.6v0.6h-0.6zM62.02 199.15h0.6v0.6h-0.6zM60.63 198.84h0.6v0.6h-0.6zM54.35 200.63h0.6v0.6h-0.6zM57.87 195.67h0.6v0.6h-0.6zM58.41 197.56h0.6v0.6h-0.6zM63.67 197.45h0.6v0.6h-0.6zM62.76 197.38h0.6v0.6h-0.6zM69.49 199.49h0.6v0.6h-0.6zM68.61 197.31h0.6v0.6h-0.6zM64.09 197.39h0.6v0.6h-0.6zM63.79 199.67h0.6v0.6h-0.6zM56.18 197.13h0.6v0.6h-0.6zM57.68 196.62h0.6v0.6h-0.6zM59.2 197.38h0.6v0.6h-0.6zM56.7 198.86h0.6v0.6h-0.6zM63.66 196.88h0.6v0.6h-0.6zM59.8 198.73h0.6v0.6h-0.6zM60.94 197.74h0.6v0.6h-0.6zM64.58 199.9h0.6v0.6h-0.6zM64.12 198.43h0.6v0.6h-0.6zM68.7 201.15h0.6v0.6h-0.6zM60.34 198.55h0.6v0.6h-0.6zM65.9 197.6h0.6v0.6h-0.6zM63.13 198.78h0.6v0.6h-0.6zM59.28 198.39h0.6v0.6h-0.6zM56.24 197.95h0.6v0.6h-0.6zM54.75 201.91h0.6v0.6h-0.6zM67 200.43h0.6v0.6h-0.6zM62.79 200.11h0.6v0.6h-0.6zM66.18 200.13h0.6v0.6h-0.6zM64.94 197.43h0.6v0.6h-0.6zM63.23 197.96h0.6v0.6h-0.6zM57.59 197.11h0.6v0.6h-0.6zM63.22 200.18h0.6v0.6h-0.6zM56.93 201.15h0.6v0.6h-0.6zM66.86 198.17h0.6v0.6h-0.6zM60.09 198.6h0.6v0.6h-0.6zM65.15 198.17h0.6v0.6h-0.6zM57.84 199.18h0.6v0.6h-0.6zM54.48 198.9h0.6v0.6h-0.6zM65.76 199.13h0.6v0.6h-0.6zM64.44 199.39h0.6v0.6h-0.6zM64.25 198.9h0.6v0.6h-0.6zM58.8 198.39h0.6v0.6h-0.6zM61.44 200.46h0.6v0.6h-0.6zM67.39 199.29h0.6v0.6h-0.6zM59.07 197.68h0.6v0.6h-0.6zM61.04 200.64h0.6v0.6h-0.6zM62.87 198.62h0.6v0.6h-0.6zM59.02 199.94h0.6v0.6h-0.6zM62.71 198.63h0.6v0.6h-0.6zM62.06 201.06h0.6v0.6h-0.6zM61.14 201.06h0.6v0.6h-0.6zM66.05 198.77h0.6v0.6h-0.6zM64.79 198.53h0.6v0.6h-0.6zM58.8 198.32h0.6v0.6h-0.6zM58.52 199.42h0.6v0.6h-0.6zM61.75 199.49h0.6v0.6h-0.6zM64.59 194.33h0.6v0.6h-0.6zM62.79 196.18h0.6v0.6h-0.6zM62.28 197.47h0.6v0.6h-0.6zM62.06 200.61h0.6v0.6h-0.6zM55.72 198.97h0.6v0.6h-0.6zM61.43 196.05h0.6v0.6h-0.6zM63.97 198.75h0.6v0.6h-0.6zM59.92 197.69h0.6v0.6h-0.6zM72.94 198.15h0.6v0.6h-0.6zM55.4 197.4h0.6v0.6h-0.6zM60.42 198.16h0.6v0.6h-0.6zM61.42 197.23h0.6v0.6h-0.6zM63.6 198.02h0.6v0.6h-0.6zM56.94 197.56h0.6v0.6h-0.6zM60.35 199.89h0.6v0.6h-0.6zM63.4 198.23h0.6v0.6h-0.6zM61.77 199h0.6v0.6h-0.6zM68.84 197.84h0.6v0.6h-0.6zM63.33 199.72h0.6v0.6h-0.6zM58.36 198.96h0.6v0.6h-0.6zM62.27 198.04h0.6v0.6h-0.6zM63.69 200.14h0.6v0.6h-0.6zM65.66 198.43h0.6v0.6h-0.6zM62.36 201.99h0.6v0.6h-0.6zM57.84 199.01h0.6v0.6h-0.6zM64.81 198.91h0.6v0.6h-0.6zM64 198.94h0.6v0.6h-0.6zM64.34 200.5h0.6v0.6h-0.6zM60.93 198.98h0.6v0.6h-0.6zM61.51 198.13h0.6v0.6h-0.6zM61.63 197.12h0.6v0.6h-0.6zM64.31 201.08h0.6v0.6h-0.6zM67.67 200.49h0.6v0.6h-0.6zM58.33 200.83h0.6v0.6h-0.6zM59.2 198.63h0.6v0.6h-0.6zM68.16 197.2h0.6v0.6h-0.6zM64.64 199.09h0.6v0.6h-0.6zM61.17 197.47h0.6v0.6h-0.6zM63.18 198.05h0.6v0.6h-0.6zM65.36 200.41h0.6v0.6h-0.6zM56.87 197.99h0.6v0.6h-0.6zM60.58 197.05h0.6v0.6h-0.6zM57.79 198.82h0.6v0.6h-0.6zM60.97 196.39h0.6v0.6h-0.6zM59.82 199.43h0.6v0.6h-0.6zM57.48 197.41h0.6v0.6h-0.6zM67.26 200.54h0.6v0.6h-0.6zM56.03 196.81h0.6v0.6h-0.6zM63.02 197.03h0.6v0.6h-0.6zM60.82 198.07h0.6v0.6h-0.6zM63.66 195.16h0.6v0.6h-0.6zM53.99 196.98h0.6v0.6h-0.6zM65.25 198.48h0.6v0.6h-0.6zM55.72 199.39h0.6v0.6h-0.6zM64.18 198.36h0.6v0.6h-0.6zM60.54 199.31h0.6v0.6h-0.6zM65.93 198.91h0.6v0.6h-0.6zM63.57 198.63h0.6v0.6h-0.6zM60.37 197.42h0.6v0.6h-0.6zM62.6 198.28h0.6v0.6h-0.6zM60.85 200h0.6v0.6h-0.6zM63.41 199.92h0.6v0.6h-0.6zM56.19 199.48h0.6v0.6h-0.6zM59.64 197.57h0.6v0.6h-0.6zM58.72 200.4h0.6v0.6h-0.6zM64.6 197.7h0.6v0.6h-0.6zM57.72 198.72h0.6v0.6h-0.6zM60.09 201.02h0.6v0.6h-0.6zM56.59 196.14h0.6v0.6h-0.6zM60.8 198.72h0.6v0.6h-0.6zM62.16 199.75h0.6v0.6h-0.6zM68.96 198.22h0.6v0.6h-0.6zM59.79 196.24h0.6v0.6h-0.6zM62.55 199.89h0.6v0.6h-0.6zM60.79 200.35h0.6v0.6h-0.6zM61.81 200.82h0.6v0.6h-0.6zM62.87 197.22h0.6v0.6h-0.6zM59.47 196.55h0.6v0.6h-0.6zM55.62 199.07h0.6v0.6h-0.6zM64.74 201.44h0.6v0.6h-0.6zM61.51 198.37h0.6v0.6h-0.6zM57.82 200.08h0.6v0.6h-0.6zM63.06 197.87h0.6v0.6h-0.6zM64.11 199.49h0.6v0.6h-0.6zM55.16 199.74h0.6v0.6h-0.6zM62.18 198.15h0.6v0.6h-0.6zM60.24 201.15h0.6v0.6h-0.6zM67.08 201.26h0.6v0.6h-0.6zM57.68 197.78h0.6v0.6h-0.6zM64.87 197.01h0.6v0.6h-0.6zM59.18 196.17h0.6v0.6h-0.6zM68.19 200.19h0.6v0.6h-0.6zM63.3 199.01h0.6v0.6h-0.6zM60.24 198.14h0.6v0.6h-0.6zM63.85 197.7h0.6v0.6h-0.6zM66 198.01h0.6v0.6h-0.6zM58.64 200.52h0.6v0.6h-0.6zM61.2 199.48h0.6v0.6h-0.6zM60.25 195.55h0.6v0.6h-0.6zM63.62 196.81h0.6v0.6h-0.6zM65.49 196.53h0.6v0.6h-0.6zM55.17 199.13h0.6v0.6h-0.6zM63.19 198.85h0.6v0.6h-0.6zM57.45 199.94h0.6v0.6h-0.6zM56.57 198.05h0.6v0.6h-0.6zM58.94 198.17h0.6v0.6h-0.6zM64.68 197.81h0.6v0.6h-0.6zM63.68 199.67h0.6v0.6h-0.6zM55.71 197.07h0.6v0.6h-0.6zM60.36 197.87h0.6v0.6h-0.6zM62.78 196h0.6v0.6h-0.6zM64.22 199.74h0.6v0.6h-0.6zM61.11 196.76h0.6v0.6h-0.6zM61.72 197.95h0.6v0.6h-0.6zM63.68 198.58h0.6v0.6h-0.6zM64.25 198.09h0.6v0.6h-0.6zM66.75 195.47h0.6v0.6h-0.6zM58.14 199.39h0.6v0.6h-0.6zM56.41 199.73h0.6v0.6h-0.6zM57.44 198.83h0.6v0.6h-0.6zM58.5 198.08h0.6v0.6h-0.6zM62.31 198.55h0.6v0.6h-0.6zM60.37 201.71h0.6v0.6h-0.6zM61.73 197.34h0.6v0.6h-0.6zM64.95 199.85h0.6v0.6h-0.6zM65.98 201.2h0.6v0.6h-0.6zM58.41 200.18h0.6v0.6h-0.6zM65.69 198.7h0.6v0.6h-0.6zM62.56 194.5h0.6v0.6h-0.6zM59.69 201.2h0.6v0.6h-0.6zM55.45 197.95h0.6v0.6h-0.6zM62.71 199.51h0.6v0.6h-0.6zM67.41 196.23h0.6v0.6h-0.6zM61.85 199.9h0.6v0.6h-0.6zM57.1 198.64h0.6v0.6h-0.6zM68.3 200.54h0.6v0.6h-0.6zM63.59 195.04h0.6v0.6h-0.6zM61.24 199.24h0.6v0.6h-0.6zM60.62 198.61h0.6v0.6h-0.6zM72.49 198.4h0.6v0.6h-0.6zM58.31 199.04h0.6v0.6h-0.6zM60.6 198.27h0.6v0.6h-0.6zM61.4 199.78h0.6v0.6h-0.6zM62.53 197.02h0.6v0.6h-0.6zM61.24 199.36h0.6v0.6h-0.6zM60.06 200.31h0.6v0.6h-0.6zM64.42 197.31h0.6v0.6h-0.6zM62.82 201.48h0.6v0.6h-0.6zM67.16 198.62h0.6v0.6h-0.6zM64.84 197.76h0.6v0.6h-0.6zM56.63 199.48h0.6v0.6h-0.6zM62.56 199.42h0.6v0.6h-0.6zM61.61 199.16h0.6v0.6h-0.6zM59.9 199.36h0.6v0.6h-0.6zM64.62 198.62h0.6v0.6h-0.6zM64.55 196.22h0.6v0.6h-0.6zM58.95 200.72h0.6v0.6h-0.6zM67.87 199.05h0.6v0.6h-0.6zM61.34 196.92h0.6v0.6h-0.6zM62.97 199.79h0.6v0.6h-0.6zM56.51 199.48h0.6v0.6h-0.6zM63.42 199.32h0.6v0.6h-0.6zM57.75 199.46h0.6v0.6h-0.6zM56.46 200.78h0.6v0.6h-0.6zM62.17 197.07h0.6v0.6h-0.6zM66.41 200.32h0.6v0.6h-0.6zM59.42 201.79h0.6v0.6h-0.6zM58.19 199.14h0.6v0.6h-0.6zM65.84 195.52h0.6v0.6h-0.6zM65.21 198.61h0.6v0.6h-0.6zM61.65 197.19h0.6v0.6h-0.6zM62.86 197.15h0.6v0.6h-0.6zM58.31 198.07h0.6v0.6h-0.6zM36.02 208.99h0.6v0.6h-0.6zM35.71 199.68h0.6v0.6h-0.6zM38.75 202.71h0.6v0.6h-0.6zM42.08 205.97h0.6v0.6h-0.6zM38.79 201.16h0.6v0.6h-0.6zM39.81 205.99h0.6v0.6h-0.6zM41.79 200.63h0.6v0.6h-0.6zM42.55 203.75h0.6v0.6h-0.6zM40.72 200.61h0.6v0.6h-0.6zM36.7 201.37h0.6v0.6h-0.6zM39.03 200.2h0.6v0.6h-0.6zM35.33 201.45h0.6v0.6h-0.6zM41.43 200.72h0.6v0.6h-0.6zM39.77 194.42h0.6v0.6h-0.6zM39.08 202.21h0.6v0.6h-0.6zM36.02 195.78h0.6v0.6h-0.6zM40.94 199.46h0.6v0.6h-0.6zM41.17 201.02h0.6v0.6h-0.6zM41.57 201.34h0.6v0.6h-0.6zM35.18 202.35h0.6v0.6h-0.6zM38.72 205.33h0.6v0.6h-0.6zM38.35 201.13h0.6v0.6h-0.6zM42.28 207.37h0.6v0.6h-0.6zM41.98 206.85h0.6v0.6h-0.6zM41.06 205.78h0.6v0.6h-0.6zM42.33 204.32h0.6v0.6h-0.6zM39.89 203.27h0.6v0.6h-0.6zM46.91 202.75h0.6v0.6h-0.6zM38.99 201.24h0.6v0.6h-0.6zM39.6 203.68h0.6v0.6h-0.6zM36.31 194.78h0.6v0.6h-0.6zM40.59 196.28h0.6v0.6h-0.6zM40.48 203.26h0.6v0.6h-0.6zM43.16 209.38h0.6v0.6h-0.6zM40.8 200.48h0.6v0.6h-0.6zM36.18 199.53h0.6v0.6h-0.6zM39.82 194.42h0.6v0.6h-0.6zM39.93 202.65h0.6v0.6h-0.6zM41.63 201.36h0.6v0.6h-0.6zM40.01 199.76h0.6v0.6h-0.6zM38.31 195.61h0.6v0.6h-0.6zM40.07 208.89h0.6v0.6h-0.6zM40.19 204.16h0.6v0.6h-0.6zM36.76 208.43h0.6v0.6h-0.6zM37.4 205.91h0.6v0.6h-0.6zM40.02 198.86h0.6v0.6h-0.6zM42.78 202.76h0.6v0.6h-0.6zM40.24 204.51h0.6v0.6h-0.6zM39.64 201.19h0.6v0.6h-0.6zM41.1 201.08h0.6v0.6h-0.6zM39.9 200.03h0.6v0.6h-0.6zM35.23 200.01h0.6v0.6h-0.6zM38.21 202.76h0.6v0.6h-0.6zM43.25 195.94h0.6v0.6h-0.6zM40.09 193.85h0.6v0.6h-0.6zM36.56 200.67h0.6v0.6h-0.6zM40.16 203.01h0.6v0.6h-0.6zM39.36 199.49h0.6v0.6h-0.6zM46.16 202.06h0.6v0.6h-0.6zM37.11 209.41h0.6v0.6h-0.6zM41.54 201.22h0.6v0.6h-0.6zM43.28 203.33h0.6v0.6h-0.6zM41.63 203.64h0.6v0.6h-0.6zM36.61 206.58h0.6v0.6h-0.6zM40.18 198.66h0.6v0.6h-0.6zM37.41 206.52h0.6v0.6h-0.6zM38.59 202.89h0.6v0.6h-0.6zM41.66 203.21h0.6v0.6h-0.6zM35.12 205.25h0.6v0.6h-0.6zM42.52 206.17h0.6v0.6h-0.6zM44.55 204.16h0.6v0.6h-0.6zM42.03 209.06h0.6v0.6h-0.6zM38.83 209.65h0.6v0.6h-0.6zM44.9 205.83h0.6v0.6h-0.6zM45.22 206.11h0.6v0.6h-0.6zM37.06 207.25h0.6v0.6h-0.6zM40.68 204.35h0.6v0.6h-0.6zM40.16 208.14h0.6v0.6h-0.6zM41.36 199.92h0.6v0.6h-0.6zM41.16 205.62h0.6v0.6h-0.6zM37.52 200.96h0.6v0.6h-0.6zM38.55 200.27h0.6v0.6h-0.6zM40.75 206.77h0.6v0.6h-0.6zM45.38 207.48h0.6v0.6h-0.6zM42.77 207.27h0.6v0.6h-0.6zM43.71 201.19h0.6v0.6h-0.6zM41.78 203.99h0.6v0.6h-0.6zM39.31 200.88h0.6v0.6h-0.6zM38.18 201.63h0.6v0.6h-0.6zM36 204.79h0.6v0.6h-0.6zM39.63 203.12h0.6v0.6h-0.6zM40.72 205.6h0.6v0.6h-0.6zM37.92 202.27h0.6v0.6h-0.6zM34.87 193.82h0.6v0.6h-0.6zM34.22 204.59h0.6v0.6h-0.6zM44.13 200.87h0.6v0.6h-0.6zM44.59 210.09h0.6v0.6h-0.6zM42.54 212.19h0.6v0.6h-0.6zM41.57 199.79h0.6v0.6h-0.6zM41.27 200.94h0.6v0.6h-0.6zM35.8 197.61h0.6v0.6h-0.6zM46.65 200.56h0.6v0.6h-0.6zM39.65 200.07h0.6v0.6h-0.6zM40.14 201.78h0.6v0.6h-0.6zM38.5 197.89h0.6v0.6h-0.6zM35.49 199.77h0.6v0.6h-0.6zM40.61 211.05h0.6v0.6h-0.6zM42.9 210.05h0.6v0.6h-0.6zM41.2 202.41h0.6v0.6h-0.6zM35.77 202.77h0.6v0.6h-0.6zM44.64 204.09h0.6v0.6h-0.6zM43.14 201.25h0.6v0.6h-0.6zM35.63 200.86h0.6v0.6h-0.6zM38.57 207.61h0.6v0.6h-0.6zM45.69 199.83h0.6v0.6h-0.6zM38.69 202.21h0.6v0.6h-0.6zM38.72 197.82h0.6v0.6h-0.6zM40.05 204.24h0.6v0.6h-0.6zM40.93 197.97h0.6v0.6h-0.6zM39.43 195.84h0.6v0.6h-0.6zM42.52 198.73h0.6v0.6h-0.6zM38.96 201.01h0.6v0.6h-0.6zM38.03 198.57h0.6v0.6h-0.6zM34.48 209.74h0.6v0.6h-0.6zM40.55 203.88h0.6v0.6h-0.6zM46.08 202.42h0.6v0.6h-0.6zM41.45 202.9h0.6v0.6h-0.6zM43.35 204.83h0.6v0.6h-0.6zM40.74 201.8h0.6v0.6h-0.6zM40.63 207.48h0.6v0.6h-0.6zM38.54 201.63h0.6v0.6h-0.6zM37.26 201.92h0.6v0.6h-0.6zM38.29 196.15h0.6v0.6h-0.6zM38.46 195.46h0.6v0.6h-0.6zM36.97 201.57h0.6v0.6h-0.6zM39.78 203.05h0.6v0.6h-0.6zM39.39 211.38h0.6v0.6h-0.6zM41.11 197.95h0.6v0.6h-0.6zM37.96 200.2h0.6v0.6h-0.6zM39.27 200.42h0.6v0.6h-0.6zM37.23 209.43h0.6v0.6h-0.6zM39.93 201.48h0.6v0.6h-0.6zM39.04 201.97h0.6v0.6h-0.6zM43.98 204.75h0.6v0.6h-0.6zM43.17 190.36h0.6v0.6h-0.6zM40.78 207.07h0.6v0.6h-0.6zM45.72 202.96h0.6v0.6h-0.6zM34.65 205.19h0.6v0.6h-0.6zM38.01 195.67h0.6v0.6h-0.6zM37.95 207.07h0.6v0.6h-0.6zM43.41 205.73h0.6v0.6h-0.6zM36.66 212.91h0.6v0.6h-0.6zM36.3 202.53h0.6v0.6h-0.6zM35.47 208.12h0.6v0.6h-0.6zM41.15 206.4h0.6v0.6h-0.6zM40.08 202.58h0.6v0.6h-0.6zM40.34 195.3h0.6v0.6h-0.6zM42.8 206.51h0.6v0.6h-0.6zM38.64 202.81h0.6v0.6h-0.6zM40.72 209.14h0.6v0.6h-0.6zM41.12 203.03h0.6v0.6h-0.6zM38.3 196.85h0.6v0.6h-0.6zM38.04 203.15h0.6v0.6h-0.6zM39.07 203.17h0.6v0.6h-0.6zM42.07 204.62h0.6v0.6h-0.6zM40.66 205.5h0.6v0.6h-0.6zM40.39 202.76h0.6v0.6h-0.6zM41.25 195.97h0.6v0.6h-0.6zM43.6 197.73h0.6v0.6h-0.6zM42.35 202.94h0.6v0.6h-0.6zM43.17 203.03h0.6v0.6h-0.6zM37.01 207.19h0.6v0.6h-0.6zM40.4 203.37h0.6v0.6h-0.6zM40.09 206.9h0.6v0.6h-0.6zM42.3 203.82h0.6v0.6h-0.6zM35.2 201.29h0.6v0.6h-0.6zM40.17 210.09h0.6v0.6h-0.6zM41.01 202.54h0.6v0.6h-0.6zM43.45 202.47h0.6v0.6h-0.6zM39.78 203.54h0.6v0.6h-0.6zM35.37 206.74h0.6v0.6h-0.6zM41.14 201.79h0.6v0.6h-0.6zM36.44 203.77h0.6v0.6h-0.6zM44.06 200.35h0.6v0.6h-0.6zM36.68 204.6h0.6v0.6h-0.6zM35.08 194.04h0.6v0.6h-0.6zM38.53 200.16h0.6v0.6h-0.6zM39.04 200.72h0.6v0.6h-0.6zM40.87 202.04h0.6v0.6h-0.6zM38.07 201.1h0.6v0.6h-0.6zM41.77 206.76h0.6v0.6h-0.6zM42.59 205.72h0.6v0.6h-0.6zM38.93 203.76h0.6v0.6h-0.6zM35.02 208.62h0.6v0.6h-0.6zM40.79 200.45h0.6v0.6h-0.6zM40.37 201.55h0.6v0.6h-0.6zM37.6 204.96h0.6v0.6h-0.6zM38.52 197.29h0.6v0.6h-0.6zM37.98 202.48h0.6v0.6h-0.6zM36.64 207.99h0.6v0.6h-0.6zM36.61 209.97h0.6v0.6h-0.6zM42.57 199.18h0.6v0.6h-0.6zM40.28 207.68h0.6v0.6h-0.6zM39.31 198.18h0.6v0.6h-0.6zM40.23 210.91h0.6v0.6h-0.6zM35.42 205.18h0.6v0.6h-0.6zM39.92 202.49h0.6v0.6h-0.6zM38.73 201.69h0.6v0.6h-0.6zM43.01 205.35h0.6v0.6h-0.6zM36.91 209.2h0.6v0.6h-0.6zM36.01 205.62h0.6v0.6h-0.6zM40.46 207.77h0.6v0.6h-0.6zM40.98 207.2h0.6v0.6h-0.6zM39.84 206.87h0.6v0.6h-0.6zM40.94 211.58h0.6v0.6h-0.6zM37.83 207.76h0.6v0.6h-0.6zM41.31 203.69h0.6v0.6h-0.6zM38.22 204.78h0.6v0.6h-0.6zM35.5 197.52h0.6v0.6h-0.6zM42.05 196.77h0.6v0.6h-0.6zM44.23 201.9h0.6v0.6h-0.6zM40.67 203.3h0.6v0.6h-0.6zM41.18 201.88h0.6v0.6h-0.6zM38.82 202.49h0.6v0.6h-0.6zM43.07 207.53h0.6v0.6h-0.6zM43.75 204.46h0.6v0.6h-0.6zM39.32 196.28h0.6v0.6h-0.6zM41.86 206.37h0.6v0.6h-0.6zM38.72 206.23h0.6v0.6h-0.6zM43.8 203.38h0.6v0.6h-0.6zM43.1 204.24h0.6v0.6h-0.6zM34.72 201.12h0.6v0.6h-0.6zM38.7 205.12h0.6v0.6h-0.6zM37.34 201.25h0.6v0.6h-0.6zM37.04 202.85h0.6v0.6h-0.6zM40.14 206.91h0.6v0.6h-0.6zM42.32 203.67h0.6v0.6h-0.6zM40.65 203.44h0.6v0.6h-0.6zM40.27 209.19h0.6v0.6h-0.6zM40.87 207.53h0.6v0.6h-0.6zM36.65 204.4h0.6v0.6h-0.6zM42.52 201.23h0.6v0.6h-0.6z" fill="#222" fill-opacity="0.42"/>
<ellipse cx="46" cy="196.3" rx="11" ry="2.2" fill="#000" fill-opacity="0.75" filter="url(#blur1)"/>
<ellipse cx="48.5" cy="195.8" rx="4" ry="1.6" fill="#000" fill-opacity="0.8" filter="url(#blur1)"/>
<ellipse cx="61.0" cy="198.6" rx="5.5" ry="2.4" fill="#222" fill-opacity="0.65" filter="url(#blur1)"/>
<ellipse cx="60.4" cy="198.6" rx="3.8" ry="2.0" fill="none" stroke="#111" stroke-width="1.4" stroke-opacity="0.75" filter="url(#blur05)"/>
<ellipse cx="60.8" cy="198.6" rx="2.6" ry="1.1" fill="#fff" fill-opacity="0.95"/>
<ellipse cx="43" cy="213" rx="7.5" ry="13" fill="#555" fill-opacity="0.38" filter="url(#blur1)"/>
<ellipse cx="45" cy="201" rx="10" ry="3.5" fill="#444" fill-opacity="0.35" filter="url(#blur1)"/>
<ellipse cx="56" cy="217" rx="9" ry="9" fill="#888" fill-opacity="0.2" filter="url(#blur1)"/>
<path d="M37 227 C37 215 39 205 40 200 M44 227 C44 215 45 206 46 201 M52.5 228 C52 214 51.5 206 52.5 200 M48 227 C49 218 50 210 50 203" fill="none" stroke="#444" stroke-width="0.5"/>
</g>
<rect x="33.7" y="173.1" width="56.8" height="55.2" fill="none" stroke="#111" stroke-width="1"/>
<line x1="33.7" y1="173.1" x2="33.7" y2="228.8" stroke="#111" stroke-width="1.61" />
<line x1="33.2" y1="228.3" x2="90.5" y2="228.3" stroke="#111" stroke-width="1.61" />
<line x1="31.3" y1="227.5" x2="33.7" y2="227.5" stroke="#111" stroke-width="0.8" />
<line x1="32.4" y1="224.5" x2="33.7" y2="224.5" stroke="#111" stroke-width="0.8" />
<line x1="32.4" y1="222.5" x2="33.7" y2="222.5" stroke="#111" stroke-width="0.8" />
<line x1="32.4" y1="219.5" x2="33.7" y2="219.5" stroke="#111" stroke-width="0.8" />
<line x1="32.4" y1="217.5" x2="33.7" y2="217.5" stroke="#111" stroke-width="0.8" />
<line x1="31.3" y1="214.5" x2="33.7" y2="214.5" stroke="#111" stroke-width="0.8" />
<line x1="32.4" y1="212.5" x2="33.7" y2="212.5" stroke="#111" stroke-width="0.8" />
<line x1="32.4" y1="209.5" x2="33.7" y2="209.5" stroke="#111" stroke-width="0.8" />
<line x1="32.4" y1="207.5" x2="33.7" y2="207.5" stroke="#111" stroke-width="0.8" />
<line x1="32.4" y1="204.5" x2="33.7" y2="204.5" stroke="#111" stroke-width="0.8" />
<line x1="31.3" y1="201.5" x2="33.7" y2="201.5" stroke="#111" stroke-width="0.8" />
<line x1="32.4" y1="199.5" x2="33.7" y2="199.5" stroke="#111" stroke-width="0.8" />
<line x1="32.4" y1="196.5" x2="33.7" y2="196.5" stroke="#111" stroke-width="0.8" />
<line x1="32.4" y1="194.5" x2="33.7" y2="194.5" stroke="#111" stroke-width="0.8" />
<line x1="32.4" y1="191.5" x2="33.7" y2="191.5" stroke="#111" stroke-width="0.8" />
<line x1="31.3" y1="189.5" x2="33.7" y2="189.5" stroke="#111" stroke-width="0.8" />
<line x1="32.4" y1="186.5" x2="33.7" y2="186.5" stroke="#111" stroke-width="0.8" />
<line x1="32.4" y1="184.5" x2="33.7" y2="184.5" stroke="#111" stroke-width="0.8" />
<line x1="32.4" y1="181.5" x2="33.7" y2="181.5" stroke="#111" stroke-width="0.8" />
<line x1="32.4" y1="179.5" x2="33.7" y2="179.5" stroke="#111" stroke-width="0.8" />
<line x1="31.3" y1="176.5" x2="33.7" y2="176.5" stroke="#111" stroke-width="0.8" />
<line x1="32.4" y1="174.5" x2="33.7" y2="174.5" stroke="#111" stroke-width="0.8" />
<line x1="34.5" y1="228.3" x2="34.5" y2="230.7" stroke="#111" stroke-width="0.8" />
<line x1="36.5" y1="228.3" x2="36.5" y2="229.6" stroke="#111" stroke-width="0.8" />
<line x1="39.5" y1="228.3" x2="39.5" y2="229.6" stroke="#111" stroke-width="0.8" />
<line x1="41.5" y1="228.3" x2="41.5" y2="229.6" stroke="#111" stroke-width="0.8" />
<line x1="43.5" y1="228.3" x2="43.5" y2="229.6" stroke="#111" stroke-width="0.8" />
<line x1="45.5" y1="228.3" x2="45.5" y2="230.7" stroke="#111" stroke-width="0.8" />
<line x1="47.5" y1="228.3" x2="47.5" y2="229.6" stroke="#111" stroke-width="0.8" />
<line x1="50.5" y1="228.3" x2="50.5" y2="229.6" stroke="#111" stroke-width="0.8" />
<line x1="52.5" y1="228.3" x2="52.5" y2="229.6" stroke="#111" stroke-width="0.8" />
<line x1="54.5" y1="228.3" x2="54.5" y2="229.6" stroke="#111" stroke-width="0.8" />
<line x1="56.5" y1="228.3" x2="56.5" y2="230.7" stroke="#111" stroke-width="0.8" />
<line x1="58.5" y1="228.3" x2="58.5" y2="229.6" stroke="#111" stroke-width="0.8" />
<line x1="61.5" y1="228.3" x2="61.5" y2="229.6" stroke="#111" stroke-width="0.8" />
<line x1="63.5" y1="228.3" x2="63.5" y2="229.6" stroke="#111" stroke-width="0.8" />
<line x1="65.5" y1="228.3" x2="65.5" y2="229.6" stroke="#111" stroke-width="0.8" />
<line x1="67.5" y1="228.3" x2="67.5" y2="230.7" stroke="#111" stroke-width="0.8" />
<line x1="69.5" y1="228.3" x2="69.5" y2="229.6" stroke="#111" stroke-width="0.8" />
<line x1="71.5" y1="228.3" x2="71.5" y2="229.6" stroke="#111" stroke-width="0.8" />
<line x1="74.5" y1="228.3" x2="74.5" y2="229.6" stroke="#111" stroke-width="0.8" />
<line x1="76.5" y1="228.3" x2="76.5" y2="229.6" stroke="#111" stroke-width="0.8" />
<line x1="78.5" y1="228.3" x2="78.5" y2="230.7" stroke="#111" stroke-width="0.8" />
<line x1="80.5" y1="228.3" x2="80.5" y2="229.6" stroke="#111" stroke-width="0.8" />
<line x1="82.5" y1="228.3" x2="82.5" y2="229.6" stroke="#111" stroke-width="0.8" />
<line x1="85.5" y1="228.3" x2="85.5" y2="229.6" stroke="#111" stroke-width="0.8" />
<line x1="87.5" y1="228.3" x2="87.5" y2="229.6" stroke="#111" stroke-width="0.8" />
<line x1="89.5" y1="228.3" x2="89.5" y2="230.7" stroke="#111" stroke-width="0.8" />
<rect x="34.2" y="187.6" width="20.1" height="17.5" fill="none" stroke="#111" stroke-width="0.9"/>
<rect x="54.3" y="192.6" width="23.2" height="10.8" fill="none" stroke="#111" stroke-width="0.9"/>
<text x="37.2" y="184.6" font-size="8.2" textLength="9.2" lengthAdjust="spacingAndGlyphs" stroke="#000" stroke-width="0.17">32</text>
<text x="66.6" y="190.1" font-size="8.2" textLength="11.3" lengthAdjust="spacingAndGlyphs" stroke="#000" stroke-width="0.17">2.2</text>
<text x="25.2" y="201" font-size="9.2" text-anchor="middle" textLength="14" lengthAdjust="spacingAndGlyphs" transform="rotate(-90 25.2 201)" stroke="#000" stroke-width="0.42">c-Kit</text>
<text x="38.5" y="242.2" font-size="9.2" textLength="13.9" lengthAdjust="spacingAndGlyphs" stroke="#000" stroke-width="0.42">Sca1</text>
<line x1="56.7" y1="239.5" x2="74" y2="239.5" stroke="#111" stroke-width="1.03" />
<polygon points="76.8,239.5 72.3,241.4 73.7,239.5 72.3,237.6" fill="#111" />
<line x1="78.8" y1="191.5" x2="108.7" y2="191.5" stroke="#5d7096" stroke-width="1.03" />
<polygon points="111.5,191.5 107,193.5 108.4,191.5 107,189.5" fill="#5d7096" />
<path d="M115.96 197.07h0.6v0.6h-0.6zM119.14 201.11h0.6v0.6h-0.6zM120.72 205.63h0.6v0.6h-0.6zM125.18 195.29h0.6v0.6h-0.6zM122.28 194.14h0.6v0.6h-0.6zM126.3 204.47h0.6v0.6h-0.6zM123.58 202.21h0.6v0.6h-0.6zM120.31 199.74h0.6v0.6h-0.6zM134.91 192.89h0.6v0.6h-0.6zM130.09 203.2h0.6v0.6h-0.6zM116.09 192.77h0.6v0.6h-0.6zM120.15 202.38h0.6v0.6h-0.6zM122.62 197.84h0.6v0.6h-0.6zM127.73 198.98h0.6v0.6h-0.6zM125.56 197.22h0.6v0.6h-0.6zM129.6 195.39h0.6v0.6h-0.6zM132.08 197.15h0.6v0.6h-0.6zM120.95 201.09h0.6v0.6h-0.6zM126.57 190.58h0.6v0.6h-0.6zM125.53 193.1h0.6v0.6h-0.6zM120.8 201.65h0.6v0.6h-0.6zM120.65 199.92h0.6v0.6h-0.6zM122.82 206.23h0.6v0.6h-0.6zM124.1 193.79h0.6v0.6h-0.6zM119.55 194.86h0.6v0.6h-0.6zM125.09 198.47h0.6v0.6h-0.6zM128.88 199.15h0.6v0.6h-0.6zM125.09 199.77h0.6v0.6h-0.6zM123.92 199.64h0.6v0.6h-0.6zM128.03 201.6h0.6v0.6h-0.6zM122.05 191.39h0.6v0.6h-0.6zM120.86 199.59h0.6v0.6h-0.6zM113.29 196.56h0.6v0.6h-0.6zM126.51 196.2h0.6v0.6h-0.6zM119.45 205.47h0.6v0.6h-0.6zM130.71 197.41h0.6v0.6h-0.6zM130.43 203.64h0.6v0.6h-0.6zM119.39 209.16h0.6v0.6h-0.6zM120.25 197.38h0.6v0.6h-0.6zM119.53 198.74h0.6v0.6h-0.6zM118.54 198.4h0.6v0.6h-0.6zM129.33 199.28h0.6v0.6h-0.6zM123.26 204.6h0.6v0.6h-0.6zM120.41 202.29h0.6v0.6h-0.6zM123.08 199.28h0.6v0.6h-0.6zM124.58 198.92h0.6v0.6h-0.6zM124.19 195.28h0.6v0.6h-0.6zM121.87 200.17h0.6v0.6h-0.6zM123.94 193.74h0.6v0.6h-0.6zM121.24 195.62h0.6v0.6h-0.6zM124.16 199.1h0.6v0.6h-0.6zM124.81 195.76h0.6v0.6h-0.6zM124.48 192.9h0.6v0.6h-0.6zM111.41 198.15h0.6v0.6h-0.6zM116.94 194.57h0.6v0.6h-0.6zM118.95 200.87h0.6v0.6h-0.6zM118.92 199.44h0.6v0.6h-0.6zM122.15 193.39h0.6v0.6h-0.6zM117.26 200.17h0.6v0.6h-0.6zM126.07 201.41h0.6v0.6h-0.6zM132.56 199.39h0.6v0.6h-0.6zM125.58 197.8h0.6v0.6h-0.6zM124.78 196.89h0.6v0.6h-0.6zM120.27 206.25h0.6v0.6h-0.6zM115.91 199.29h0.6v0.6h-0.6zM126.27 198.87h0.6v0.6h-0.6zM119.94 197.49h0.6v0.6h-0.6zM122.18 193.95h0.6v0.6h-0.6zM124.04 196.61h0.6v0.6h-0.6zM121.75 200.96h0.6v0.6h-0.6zM119.46 199.98h0.6v0.6h-0.6zM121.47 199.92h0.6v0.6h-0.6zM124.52 199.17h0.6v0.6h-0.6zM119.8 195.1h0.6v0.6h-0.6zM120.35 198.89h0.6v0.6h-0.6zM127.55 202.5h0.6v0.6h-0.6zM121.93 198.52h0.6v0.6h-0.6zM116.91 189.32h0.6v0.6h-0.6zM120.28 195.51h0.6v0.6h-0.6zM117.19 191.07h0.6v0.6h-0.6zM126.55 194.95h0.6v0.6h-0.6zM116.6 207.42h0.6v0.6h-0.6zM124.92 196.88h0.6v0.6h-0.6zM127.18 195.11h0.6v0.6h-0.6zM131.25 191.99h0.6v0.6h-0.6zM118.25 197.57h0.6v0.6h-0.6zM120.68 203.74h0.6v0.6h-0.6zM116.91 195.19h0.6v0.6h-0.6zM125.16 200.34h0.6v0.6h-0.6zM128.58 199.46h0.6v0.6h-0.6zM133.96 196.2h0.6v0.6h-0.6zM124.86 201.49h0.6v0.6h-0.6zM122.64 196.9h0.6v0.6h-0.6zM121.97 195.5h0.6v0.6h-0.6zM118.98 195.85h0.6v0.6h-0.6zM117.09 199.57h0.6v0.6h-0.6zM116.89 206.28h0.6v0.6h-0.6zM131.65 202.45h0.6v0.6h-0.6zM123.07 195.69h0.6v0.6h-0.6zM129.5 198.75h0.6v0.6h-0.6zM126.51 195.16h0.6v0.6h-0.6zM128.78 194.83h0.6v0.6h-0.6zM124.48 191.12h0.6v0.6h-0.6zM121.05 200.01h0.6v0.6h-0.6zM121.97 196.23h0.6v0.6h-0.6zM127.52 197.71h0.6v0.6h-0.6zM129.55 188.37h0.6v0.6h-0.6zM126.52 200.02h0.6v0.6h-0.6zM117.05 192.83h0.6v0.6h-0.6zM127.91 193.74h0.6v0.6h-0.6zM121.12 200.38h0.6v0.6h-0.6zM122.48 199.89h0.6v0.6h-0.6zM120.08 199.17h0.6v0.6h-0.6zM128.81 199.29h0.6v0.6h-0.6zM114.13 200.58h0.6v0.6h-0.6zM124.22 194.38h0.6v0.6h-0.6zM130.2 191.04h0.6v0.6h-0.6zM132.36 195.47h0.6v0.6h-0.6zM131.01 197.81h0.6v0.6h-0.6zM118 198.36h0.6v0.6h-0.6zM125.44 200.14h0.6v0.6h-0.6zM128.71 194.41h0.6v0.6h-0.6zM126.16 200.92h0.6v0.6h-0.6zM122.74 194.25h0.6v0.6h-0.6zM119.67 200.97h0.6v0.6h-0.6zM127.54 194.68h0.6v0.6h-0.6zM117.96 202.92h0.6v0.6h-0.6zM116.99 198.62h0.6v0.6h-0.6zM120.34 190.99h0.6v0.6h-0.6zM124.51 197.22h0.6v0.6h-0.6zM130.4 207.02h0.6v0.6h-0.6zM123.11 202.06h0.6v0.6h-0.6zM128.63 195.89h0.6v0.6h-0.6zM120.07 204.39h0.6v0.6h-0.6zM122.31 197.87h0.6v0.6h-0.6zM122.64 197.45h0.6v0.6h-0.6zM121.24 200.96h0.6v0.6h-0.6zM129.57 196.49h0.6v0.6h-0.6zM117.77 198.18h0.6v0.6h-0.6zM117.29 195.43h0.6v0.6h-0.6zM129.46 207.22h0.6v0.6h-0.6zM125.63 193.74h0.6v0.6h-0.6zM127.44 189.03h0.6v0.6h-0.6zM120.84 204.04h0.6v0.6h-0.6zM127.28 192.48h0.6v0.6h-0.6zM116.5 201.38h0.6v0.6h-0.6zM123.73 195.61h0.6v0.6h-0.6zM125.79 195.69h0.6v0.6h-0.6zM115.34 201.19h0.6v0.6h-0.6zM121.05 193.98h0.6v0.6h-0.6zM117.98 198.97h0.6v0.6h-0.6zM120.34 200.46h0.6v0.6h-0.6zM122.75 202.28h0.6v0.6h-0.6zM122.22 195.37h0.6v0.6h-0.6zM115.13 193.6h0.6v0.6h-0.6zM127.17 210.14h0.6v0.6h-0.6zM118.34 193.85h0.6v0.6h-0.6zM125.46 199.88h0.6v0.6h-0.6zM120.92 198.29h0.6v0.6h-0.6zM116.75 196.79h0.6v0.6h-0.6zM127.98 204.48h0.6v0.6h-0.6zM123.2 196.95h0.6v0.6h-0.6zM125.98 202.39h0.6v0.6h-0.6zM126.13 194.99h0.6v0.6h-0.6zM125.55 201.83h0.6v0.6h-0.6zM120.76 192.66h0.6v0.6h-0.6zM126.23 199.44h0.6v0.6h-0.6zM128.28 198.34h0.6v0.6h-0.6zM121.07 196.25h0.6v0.6h-0.6zM119.35 194.22h0.6v0.6h-0.6zM121.45 196.07h0.6v0.6h-0.6zM128.95 193.11h0.6v0.6h-0.6zM123.75 195.65h0.6v0.6h-0.6zM130.63 199.04h0.6v0.6h-0.6zM122.3 201.24h0.6v0.6h-0.6zM124.27 196.11h0.6v0.6h-0.6zM130.85 200.83h0.6v0.6h-0.6zM131.72 202.61h0.6v0.6h-0.6zM127.45 198.53h0.6v0.6h-0.6zM119.13 200.83h0.6v0.6h-0.6zM124.31 200.7h0.6v0.6h-0.6zM123.96 195.27h0.6v0.6h-0.6zM119.49 200.8h0.6v0.6h-0.6zM129.78 196.88h0.6v0.6h-0.6zM126.03 203.52h0.6v0.6h-0.6zM120.27 196.67h0.6v0.6h-0.6zM119 202.71h0.6v0.6h-0.6zM125.18 196.19h0.6v0.6h-0.6zM116.6 197.32h0.6v0.6h-0.6zM128.47 196.86h0.6v0.6h-0.6zM122.12 200.58h0.6v0.6h-0.6zM118.5 198.24h0.6v0.6h-0.6zM126.69 194.94h0.6v0.6h-0.6zM120.31 199.03h0.6v0.6h-0.6zM123.58 197.11h0.6v0.6h-0.6zM124.95 198.93h0.6v0.6h-0.6zM119.89 195.4h0.6v0.6h-0.6zM126.03 202.5h0.6v0.6h-0.6zM130.08 194.69h0.6v0.6h-0.6zM128.92 201.06h0.6v0.6h-0.6zM123.9 199.99h0.6v0.6h-0.6zM127.74 205.15h0.6v0.6h-0.6zM119.33 200.45h0.6v0.6h-0.6zM123.42 197.24h0.6v0.6h-0.6zM129.17 201.31h0.6v0.6h-0.6zM119.52 196.94h0.6v0.6h-0.6zM125.07 192.47h0.6v0.6h-0.6zM127.91 197.77h0.6v0.6h-0.6zM124.78 199.4h0.6v0.6h-0.6zM132.11 198.22h0.6v0.6h-0.6zM122.46 204.96h0.6v0.6h-0.6zM121.82 196h0.6v0.6h-0.6zM117.88 202.36h0.6v0.6h-0.6zM125.27 199.94h0.6v0.6h-0.6zM124.8 197.54h0.6v0.6h-0.6zM120.57 194.99h0.6v0.6h-0.6zM125.99 198.57h0.6v0.6h-0.6zM131.33 195.07h0.6v0.6h-0.6zM121.9 194.04h0.6v0.6h-0.6zM130.21 193.21h0.6v0.6h-0.6zM127.51 203.78h0.6v0.6h-0.6zM123.45 200.96h0.6v0.6h-0.6zM114.61 196.56h0.6v0.6h-0.6zM116.69 198.77h0.6v0.6h-0.6zM124.12 195.05h0.6v0.6h-0.6zM128.28 199.5h0.6v0.6h-0.6zM121.75 196.07h0.6v0.6h-0.6zM117.54 197.36h0.6v0.6h-0.6zM133.51 195.28h0.6v0.6h-0.6zM125.95 195.93h0.6v0.6h-0.6zM127.66 199.84h0.6v0.6h-0.6zM123.05 191.05h0.6v0.6h-0.6zM121.8 202.84h0.6v0.6h-0.6zM123 200.59h0.6v0.6h-0.6zM121.95 190.72h0.6v0.6h-0.6zM125.98 199.37h0.6v0.6h-0.6zM121.52 196.64h0.6v0.6h-0.6zM125.38 195.76h0.6v0.6h-0.6zM125.63 197.3h0.6v0.6h-0.6zM113.61 197.53h0.6v0.6h-0.6zM121.44 194.8h0.6v0.6h-0.6zM125.88 196.17h0.6v0.6h-0.6zM126.49 202.43h0.6v0.6h-0.6zM124.73 191.99h0.6v0.6h-0.6zM120.84 201.72h0.6v0.6h-0.6zM122.95 194.92h0.6v0.6h-0.6zM123.7 200.1h0.6v0.6h-0.6zM125.25 200.67h0.6v0.6h-0.6zM120.43 197.03h0.6v0.6h-0.6zM122.98 198.03h0.6v0.6h-0.6zM114.78 197.18h0.6v0.6h-0.6zM118.14 203.61h0.6v0.6h-0.6zM131.03 204.76h0.6v0.6h-0.6zM127.71 196.2h0.6v0.6h-0.6zM128.38 197.33h0.6v0.6h-0.6zM126.83 194.56h0.6v0.6h-0.6zM121.5 199.96h0.6v0.6h-0.6zM132 198.03h0.6v0.6h-0.6zM134.14 209.02h0.6v0.6h-0.6zM118.42 198.02h0.6v0.6h-0.6zM119.89 197.58h0.6v0.6h-0.6zM121.75 197.87h0.6v0.6h-0.6zM128.41 201.85h0.6v0.6h-0.6zM125.28 198.15h0.6v0.6h-0.6zM124.65 198.64h0.6v0.6h-0.6zM126.68 198.16h0.6v0.6h-0.6zM126.37 192.96h0.6v0.6h-0.6zM127.66 205.05h0.6v0.6h-0.6zM124.95 192.55h0.6v0.6h-0.6zM130.14 196.84h0.6v0.6h-0.6zM110.83 197.28h0.6v0.6h-0.6zM126.83 199.66h0.6v0.6h-0.6zM129.66 200.6h0.6v0.6h-0.6zM124.69 190.33h0.6v0.6h-0.6zM119.18 198.86h0.6v0.6h-0.6zM127.15 194.08h0.6v0.6h-0.6zM121.42 200.01h0.6v0.6h-0.6zM115.64 190.45h0.6v0.6h-0.6zM123.12 199.15h0.6v0.6h-0.6zM122.01 189.07h0.6v0.6h-0.6zM124.25 192.89h0.6v0.6h-0.6zM127.05 197.75h0.6v0.6h-0.6zM125.32 200.69h0.6v0.6h-0.6zM121.8 201.43h0.6v0.6h-0.6zM129.68 199.72h0.6v0.6h-0.6zM130.07 195.67h0.6v0.6h-0.6zM128.23 199.22h0.6v0.6h-0.6zM119.75 197.84h0.6v0.6h-0.6zM121.79 195.97h0.6v0.6h-0.6zM124.53 202.36h0.6v0.6h-0.6zM122.73 198.65h0.6v0.6h-0.6zM117.61 198.58h0.6v0.6h-0.6zM129.29 201.36h0.6v0.6h-0.6zM126.26 196.07h0.6v0.6h-0.6zM119.81 197.78h0.6v0.6h-0.6zM118.19 193.27h0.6v0.6h-0.6zM128.35 194.52h0.6v0.6h-0.6zM132.15 192.49h0.6v0.6h-0.6zM126.07 193.51h0.6v0.6h-0.6zM124.93 194.03h0.6v0.6h-0.6zM124.33 197.54h0.6v0.6h-0.6zM122.14 200.18h0.6v0.6h-0.6zM130.87 195.81h0.6v0.6h-0.6zM128.09 198.49h0.6v0.6h-0.6zM124.01 206.84h0.6v0.6h-0.6zM114.47 195.46h0.6v0.6h-0.6zM116.08 196.91h0.6v0.6h-0.6zM123.13 213.25h0.6v0.6h-0.6zM125.69 205.27h0.6v0.6h-0.6zM129.94 196.41h0.6v0.6h-0.6zM126.28 204.77h0.6v0.6h-0.6zM124.92 198.98h0.6v0.6h-0.6zM126.39 192.19h0.6v0.6h-0.6zM120.53 199.49h0.6v0.6h-0.6zM126.58 194.51h0.6v0.6h-0.6zM122.7 197.66h0.6v0.6h-0.6zM123.47 200.9h0.6v0.6h-0.6zM124.62 198.81h0.6v0.6h-0.6zM117.83 193.97h0.6v0.6h-0.6zM125.58 191.83h0.6v0.6h-0.6zM125.34 195.52h0.6v0.6h-0.6zM120.51 200.71h0.6v0.6h-0.6zM121.11 194.74h0.6v0.6h-0.6zM121.12 198.37h0.6v0.6h-0.6zM136.39 189.73h0.6v0.6h-0.6zM124.04 197.17h0.6v0.6h-0.6zM128.37 196.66h0.6v0.6h-0.6zM113.08 203.39h0.6v0.6h-0.6zM119.24 197.88h0.6v0.6h-0.6zM118 193.77h0.6v0.6h-0.6zM121.89 201.52h0.6v0.6h-0.6zM127.87 195.74h0.6v0.6h-0.6zM126.34 196.63h0.6v0.6h-0.6zM124.6 198.72h0.6v0.6h-0.6zM126.86 195.66h0.6v0.6h-0.6zM123.5 198.97h0.6v0.6h-0.6zM124.49 194.93h0.6v0.6h-0.6zM131.78 196.26h0.6v0.6h-0.6zM127.47 198.9h0.6v0.6h-0.6zM129.54 189.41h0.6v0.6h-0.6zM133.25 197.24h0.6v0.6h-0.6zM118.57 198.6h0.6v0.6h-0.6zM134.16 200.1h0.6v0.6h-0.6zM118.57 196.25h0.6v0.6h-0.6zM130.04 192.5h0.6v0.6h-0.6zM123.26 196.91h0.6v0.6h-0.6zM133.76 196.92h0.6v0.6h-0.6zM129.94 195.39h0.6v0.6h-0.6zM120.47 202.07h0.6v0.6h-0.6zM126.85 191.21h0.6v0.6h-0.6zM126.92 200.63h0.6v0.6h-0.6zM121.32 198.95h0.6v0.6h-0.6zM125.26 196.14h0.6v0.6h-0.6zM121.45 195.41h0.6v0.6h-0.6zM122.84 192.79h0.6v0.6h-0.6zM123.87 192.13h0.6v0.6h-0.6zM124.39 197.73h0.6v0.6h-0.6zM119.43 201.46h0.6v0.6h-0.6zM132.71 203.33h0.6v0.6h-0.6zM117.95 203.13h0.6v0.6h-0.6zM125.03 197.86h0.6v0.6h-0.6zM121.39 198.04h0.6v0.6h-0.6zM130.25 200.23h0.6v0.6h-0.6zM122.2 195.41h0.6v0.6h-0.6zM122.19 200.39h0.6v0.6h-0.6zM132.38 193.87h0.6v0.6h-0.6zM124.04 196.54h0.6v0.6h-0.6zM120.68 199.64h0.6v0.6h-0.6zM126.51 192.44h0.6v0.6h-0.6zM119.42 202.8h0.6v0.6h-0.6zM125.46 200.13h0.6v0.6h-0.6zM121.81 196.55h0.6v0.6h-0.6zM126.09 196.09h0.6v0.6h-0.6zM119.1 198.06h0.6v0.6h-0.6zM128.08 193.98h0.6v0.6h-0.6zM128.76 200.84h0.6v0.6h-0.6zM120.2 198.09h0.6v0.6h-0.6zM123.86 200.57h0.6v0.6h-0.6zM127.02 192.9h0.6v0.6h-0.6zM118.04 202.14h0.6v0.6h-0.6zM124.55 199.72h0.6v0.6h-0.6zM125.53 204.13h0.6v0.6h-0.6zM118.67 202.38h0.6v0.6h-0.6zM120.4 200.95h0.6v0.6h-0.6zM130.02 192.59h0.6v0.6h-0.6zM125.84 196.97h0.6v0.6h-0.6zM122.75 198.23h0.6v0.6h-0.6zM119.36 194.25h0.6v0.6h-0.6zM126.97 201.41h0.6v0.6h-0.6zM121.52 192.31h0.6v0.6h-0.6zM134.35 202.41h0.6v0.6h-0.6zM125.65 193.99h0.6v0.6h-0.6zM121.46 199.02h0.6v0.6h-0.6zM119.78 204.4h0.6v0.6h-0.6zM124.65 199.62h0.6v0.6h-0.6zM119.47 194.48h0.6v0.6h-0.6zM120.54 199.15h0.6v0.6h-0.6zM122.87 196.92h0.6v0.6h-0.6zM125.45 198.95h0.6v0.6h-0.6zM130.63 197.29h0.6v0.6h-0.6zM119.55 198.02h0.6v0.6h-0.6zM130.54 195.88h0.6v0.6h-0.6zM124.26 196.65h0.6v0.6h-0.6zM125.84 199.08h0.6v0.6h-0.6zM120.45 197.17h0.6v0.6h-0.6zM128.22 202.38h0.6v0.6h-0.6zM128.14 201.46h0.6v0.6h-0.6zM122.57 196.63h0.6v0.6h-0.6zM128.16 193.45h0.6v0.6h-0.6zM123.79 190.76h0.6v0.6h-0.6zM122.37 195.29h0.6v0.6h-0.6zM118.72 200.35h0.6v0.6h-0.6zM120.8 196.62h0.6v0.6h-0.6zM122.91 195.17h0.6v0.6h-0.6zM130.34 196.13h0.6v0.6h-0.6zM124.92 192.94h0.6v0.6h-0.6zM121.96 196.8h0.6v0.6h-0.6zM122.7 195.77h0.6v0.6h-0.6zM124.69 204.19h0.6v0.6h-0.6zM123.47 197.52h0.6v0.6h-0.6zM122.33 208.03h0.6v0.6h-0.6zM131.19 200.26h0.6v0.6h-0.6zM127.17 195.28h0.6v0.6h-0.6zM123.38 198.9h0.6v0.6h-0.6zM124.58 194.71h0.6v0.6h-0.6zM120.61 200.1h0.6v0.6h-0.6zM125.44 189.8h0.6v0.6h-0.6zM124.47 203.07h0.6v0.6h-0.6zM121.21 199.02h0.6v0.6h-0.6zM117.64 201.34h0.6v0.6h-0.6zM119.14 193.16h0.6v0.6h-0.6zM122.66 207.38h0.6v0.6h-0.6zM121.36 193.12h0.6v0.6h-0.6zM126.1 198.98h0.6v0.6h-0.6zM131.38 193.1h0.6v0.6h-0.6zM117.03 196.84h0.6v0.6h-0.6zM125.73 199.48h0.6v0.6h-0.6zM128.85 192.22h0.6v0.6h-0.6zM120.42 197.56h0.6v0.6h-0.6zM127.77 199.95h0.6v0.6h-0.6zM122.2 194.07h0.6v0.6h-0.6zM127.96 201.8h0.6v0.6h-0.6zM136.04 197.38h0.6v0.6h-0.6zM131.23 193.34h0.6v0.6h-0.6zM121.67 195.43h0.6v0.6h-0.6zM122.02 194.65h0.6v0.6h-0.6zM121.67 197.87h0.6v0.6h-0.6zM122.08 200.67h0.6v0.6h-0.6zM123.7 198.08h0.6v0.6h-0.6zM130.57 199.32h0.6v0.6h-0.6zM124.75 198.01h0.6v0.6h-0.6zM124.34 200.33h0.6v0.6h-0.6zM120.53 202.57h0.6v0.6h-0.6zM131 202.6h0.6v0.6h-0.6zM121.9 191.84h0.6v0.6h-0.6zM122.14 198.69h0.6v0.6h-0.6zM127.72 197.37h0.6v0.6h-0.6zM122.73 204.04h0.6v0.6h-0.6zM121.12 202.26h0.6v0.6h-0.6zM128.06 192.87h0.6v0.6h-0.6zM125.3 195.9h0.6v0.6h-0.6zM119.89 190.83h0.6v0.6h-0.6zM117.16 199.71h0.6v0.6h-0.6zM122.36 199.15h0.6v0.6h-0.6zM119.38 196.83h0.6v0.6h-0.6zM122.87 192.03h0.6v0.6h-0.6zM116.74 199.81h0.6v0.6h-0.6zM124.72 194.43h0.6v0.6h-0.6zM123.62 200.68h0.6v0.6h-0.6zM132.14 194.6h0.6v0.6h-0.6zM126.79 206.38h0.6v0.6h-0.6zM124.36 203.83h0.6v0.6h-0.6zM112.67 203.76h0.6v0.6h-0.6zM124.02 190.73h0.6v0.6h-0.6zM127.51 202.2h0.6v0.6h-0.6zM129.4 202.79h0.6v0.6h-0.6zM123.94 195.15h0.6v0.6h-0.6zM122.04 197.95h0.6v0.6h-0.6zM125.86 196.2h0.6v0.6h-0.6zM124.28 201.52h0.6v0.6h-0.6zM125.5 207.08h0.6v0.6h-0.6zM133.59 193.58h0.6v0.6h-0.6zM121.56 192.95h0.6v0.6h-0.6zM118.93 200.23h0.6v0.6h-0.6zM119.69 193.97h0.6v0.6h-0.6zM122.88 201.23h0.6v0.6h-0.6zM122.5 196.68h0.6v0.6h-0.6zM128.13 199.94h0.6v0.6h-0.6zM126.08 201.81h0.6v0.6h-0.6zM119.6 198.93h0.6v0.6h-0.6zM121.27 202.12h0.6v0.6h-0.6zM127.67 193.98h0.6v0.6h-0.6zM129.98 193.49h0.6v0.6h-0.6zM129.24 198.89h0.6v0.6h-0.6zM120.21 193.69h0.6v0.6h-0.6zM122.72 197.99h0.6v0.6h-0.6zM120.92 200.3h0.6v0.6h-0.6zM117.87 198.05h0.6v0.6h-0.6zM124.07 190.72h0.6v0.6h-0.6zM125.44 193.11h0.6v0.6h-0.6zM118.29 202.17h0.6v0.6h-0.6zM133.92 208.14h0.6v0.6h-0.6zM132.14 210.38h0.6v0.6h-0.6zM145.4 208.88h0.6v0.6h-0.6zM144.61 205.96h0.6v0.6h-0.6zM131.65 207.13h0.6v0.6h-0.6zM142.16 205.52h0.6v0.6h-0.6zM133.8 198.4h0.6v0.6h-0.6zM140.15 205.97h0.6v0.6h-0.6zM126.51 204.97h0.6v0.6h-0.6zM140.47 204.15h0.6v0.6h-0.6zM140.9 207.55h0.6v0.6h-0.6zM125.3 203.39h0.6v0.6h-0.6zM138.83 208.19h0.6v0.6h-0.6zM145.22 197.01h0.6v0.6h-0.6zM135.03 207.4h0.6v0.6h-0.6zM143.94 211.24h0.6v0.6h-0.6zM129.03 203.11h0.6v0.6h-0.6zM128.21 207.81h0.6v0.6h-0.6zM126.34 209.25h0.6v0.6h-0.6zM141.96 206.5h0.6v0.6h-0.6zM120.48 201.9h0.6v0.6h-0.6zM140.66 198.98h0.6v0.6h-0.6zM133.83 204.17h0.6v0.6h-0.6zM141.64 205.69h0.6v0.6h-0.6zM137.38 202.84h0.6v0.6h-0.6zM135.52 204.05h0.6v0.6h-0.6zM140.52 203.87h0.6v0.6h-0.6zM142.63 197.87h0.6v0.6h-0.6zM143.78 203.9h0.6v0.6h-0.6zM143.28 204.91h0.6v0.6h-0.6zM141.39 210.48h0.6v0.6h-0.6zM131.65 204.89h0.6v0.6h-0.6zM134.3 205.4h0.6v0.6h-0.6zM124.28 203.9h0.6v0.6h-0.6zM133.75 201.47h0.6v0.6h-0.6zM134.13 198.48h0.6v0.6h-0.6zM145.14 206.34h0.6v0.6h-0.6zM148.5 201.12h0.6v0.6h-0.6zM127.4 205.68h0.6v0.6h-0.6zM123.93 205.46h0.6v0.6h-0.6zM130.61 203.25h0.6v0.6h-0.6zM137.22 204.75h0.6v0.6h-0.6zM148.34 207.06h0.6v0.6h-0.6zM126.53 208.44h0.6v0.6h-0.6zM126.2 204.9h0.6v0.6h-0.6zM126.83 201.29h0.6v0.6h-0.6zM144.54 202.36h0.6v0.6h-0.6zM131 202.34h0.6v0.6h-0.6zM133.29 210.25h0.6v0.6h-0.6zM127.29 199.67h0.6v0.6h-0.6zM139.45 198.25h0.6v0.6h-0.6zM132.91 209.02h0.6v0.6h-0.6zM135.44 202.65h0.6v0.6h-0.6zM130.52 200.92h0.6v0.6h-0.6zM131.33 205.08h0.6v0.6h-0.6zM144.02 208.35h0.6v0.6h-0.6zM131.5 201.64h0.6v0.6h-0.6zM140.21 197.35h0.6v0.6h-0.6zM132.35 203.24h0.6v0.6h-0.6zM127.7 200.58h0.6v0.6h-0.6zM137.77 197.97h0.6v0.6h-0.6zM129.04 201.94h0.6v0.6h-0.6zM135.91 199.08h0.6v0.6h-0.6zM142.84 203.27h0.6v0.6h-0.6zM133.52 203.05h0.6v0.6h-0.6zM130.65 200.6h0.6v0.6h-0.6zM143.23 205.27h0.6v0.6h-0.6zM134.52 208.39h0.6v0.6h-0.6zM130.36 206.94h0.6v0.6h-0.6zM135.41 200.94h0.6v0.6h-0.6zM140.5 198.54h0.6v0.6h-0.6zM139.73 200.95h0.6v0.6h-0.6zM138.05 209.87h0.6v0.6h-0.6zM139.14 202.05h0.6v0.6h-0.6zM135.01 202.97h0.6v0.6h-0.6zM127.11 200.05h0.6v0.6h-0.6zM135.49 206.52h0.6v0.6h-0.6zM123.01 204.11h0.6v0.6h-0.6zM138.65 204.82h0.6v0.6h-0.6zM128.24 208.46h0.6v0.6h-0.6zM126.76 206.93h0.6v0.6h-0.6zM146.16 196.34h0.6v0.6h-0.6zM136.89 205.6h0.6v0.6h-0.6zM136.67 201.34h0.6v0.6h-0.6zM132.95 198.86h0.6v0.6h-0.6zM136 206.46h0.6v0.6h-0.6zM130.5 200.71h0.6v0.6h-0.6zM131.82 204.31h0.6v0.6h-0.6zM135.48 203.93h0.6v0.6h-0.6zM135.53 199.18h0.6v0.6h-0.6zM116.29 206.75h0.6v0.6h-0.6zM144.82 198.76h0.6v0.6h-0.6zM130.47 205.5h0.6v0.6h-0.6zM141.59 206.87h0.6v0.6h-0.6zM143.81 204.11h0.6v0.6h-0.6zM137.87 205.93h0.6v0.6h-0.6zM132.06 209.03h0.6v0.6h-0.6zM139.31 208.15h0.6v0.6h-0.6zM132.35 208.35h0.6v0.6h-0.6zM127.79 205.85h0.6v0.6h-0.6zM117.09 200.35h0.6v0.6h-0.6zM140.07 202.54h0.6v0.6h-0.6zM136.2 197.95h0.6v0.6h-0.6zM145.62 206.64h0.6v0.6h-0.6zM134.83 205.93h0.6v0.6h-0.6zM137.25 209.85h0.6v0.6h-0.6zM136.47 198.54h0.6v0.6h-0.6zM133.25 209.33h0.6v0.6h-0.6zM138.9 202.65h0.6v0.6h-0.6zM139.18 204.76h0.6v0.6h-0.6zM139.18 198.09h0.6v0.6h-0.6zM128.85 206.91h0.6v0.6h-0.6zM133.48 205.68h0.6v0.6h-0.6zM148.41 203.08h0.6v0.6h-0.6zM136.66 202.12h0.6v0.6h-0.6zM130.72 204.01h0.6v0.6h-0.6zM125.06 196.07h0.6v0.6h-0.6zM144.35 203.9h0.6v0.6h-0.6zM142.69 204.78h0.6v0.6h-0.6zM136.02 206.92h0.6v0.6h-0.6zM139.92 199.6h0.6v0.6h-0.6zM143.27 200.51h0.6v0.6h-0.6zM136.4 214.29h0.6v0.6h-0.6zM135.55 210.82h0.6v0.6h-0.6zM132.63 206.7h0.6v0.6h-0.6zM135.36 205.94h0.6v0.6h-0.6zM129.16 200.72h0.6v0.6h-0.6zM137.3 198.2h0.6v0.6h-0.6zM129.24 206.81h0.6v0.6h-0.6zM130.8 200.83h0.6v0.6h-0.6zM127.44 204.88h0.6v0.6h-0.6zM132.52 204.89h0.6v0.6h-0.6zM133.73 211.54h0.6v0.6h-0.6zM132.03 196.66h0.6v0.6h-0.6zM135.81 204.32h0.6v0.6h-0.6zM136.08 198.04h0.6v0.6h-0.6zM142.75 204.19h0.6v0.6h-0.6zM134.72 198.13h0.6v0.6h-0.6zM138.25 204.05h0.6v0.6h-0.6zM144.24 202.69h0.6v0.6h-0.6zM126.58 204.81h0.6v0.6h-0.6zM128.78 205.93h0.6v0.6h-0.6zM127.63 203.81h0.6v0.6h-0.6zM133.47 204.18h0.6v0.6h-0.6zM131.51 201.15h0.6v0.6h-0.6zM134.61 202.05h0.6v0.6h-0.6zM136.05 203.25h0.6v0.6h-0.6zM119.72 204.07h0.6v0.6h-0.6zM144.47 205.49h0.6v0.6h-0.6zM139.09 206.08h0.6v0.6h-0.6zM131.83 199.13h0.6v0.6h-0.6zM140.51 208.4h0.6v0.6h-0.6zM138.86 205.95h0.6v0.6h-0.6zM137.69 204.2h0.6v0.6h-0.6zM136.87 204.36h0.6v0.6h-0.6zM137.23 200.65h0.6v0.6h-0.6zM130.75 206.51h0.6v0.6h-0.6zM132.72 194.96h0.6v0.6h-0.6zM135.86 195.48h0.6v0.6h-0.6zM147.94 207.09h0.6v0.6h-0.6zM139.57 201.75h0.6v0.6h-0.6zM127.42 203.5h0.6v0.6h-0.6zM135.17 201.35h0.6v0.6h-0.6zM136.1 206.97h0.6v0.6h-0.6zM139.08 200.33h0.6v0.6h-0.6zM120.47 204.34h0.6v0.6h-0.6zM130.61 206.05h0.6v0.6h-0.6zM146.09 210.64h0.6v0.6h-0.6zM136.99 208.59h0.6v0.6h-0.6zM146.11 204.52h0.6v0.6h-0.6zM136.9 207.61h0.6v0.6h-0.6zM134.84 202.43h0.6v0.6h-0.6zM130.05 204.38h0.6v0.6h-0.6zM130.93 207.41h0.6v0.6h-0.6zM132.87 209.97h0.6v0.6h-0.6zM143.22 199.62h0.6v0.6h-0.6zM142.36 202.83h0.6v0.6h-0.6zM144.3 206.34h0.6v0.6h-0.6zM134.83 206.95h0.6v0.6h-0.6zM131.42 205.64h0.6v0.6h-0.6zM137.73 203.83h0.6v0.6h-0.6zM137.75 200.58h0.6v0.6h-0.6zM138.9 199.78h0.6v0.6h-0.6zM139.34 206.21h0.6v0.6h-0.6zM139.92 202.29h0.6v0.6h-0.6zM155.46 203.56h0.6v0.6h-0.6zM136.23 201.56h0.6v0.6h-0.6zM144.77 202.64h0.6v0.6h-0.6zM141.87 200.85h0.6v0.6h-0.6zM137.33 203.04h0.6v0.6h-0.6zM141.47 203.35h0.6v0.6h-0.6zM129.54 206.18h0.6v0.6h-0.6zM127.36 200.83h0.6v0.6h-0.6zM140.41 197.37h0.6v0.6h-0.6zM140.36 202.96h0.6v0.6h-0.6zM129.25 205.42h0.6v0.6h-0.6zM139.53 202.28h0.6v0.6h-0.6zM134.18 207.54h0.6v0.6h-0.6zM140.36 204.32h0.6v0.6h-0.6zM130.27 200.93h0.6v0.6h-0.6zM131.43 207.1h0.6v0.6h-0.6zM139.22 205.68h0.6v0.6h-0.6zM144.63 203.4h0.6v0.6h-0.6zM132.91 203.09h0.6v0.6h-0.6zM148.08 196.77h0.6v0.6h-0.6zM137.37 206.24h0.6v0.6h-0.6zM135.86 213.39h0.6v0.6h-0.6zM143.21 207.48h0.6v0.6h-0.6zM129.54 206.46h0.6v0.6h-0.6zM133.03 204.75h0.6v0.6h-0.6zM136.83 202.77h0.6v0.6h-0.6zM139.69 210.75h0.6v0.6h-0.6zM142.36 205.42h0.6v0.6h-0.6zM122.79 208.71h0.6v0.6h-0.6zM142.66 203.89h0.6v0.6h-0.6zM132.41 207.1h0.6v0.6h-0.6zM130.23 207.63h0.6v0.6h-0.6zM128.46 201.17h0.6v0.6h-0.6zM135.69 199.16h0.6v0.6h-0.6zM135.61 206.65h0.6v0.6h-0.6zM126.94 208.13h0.6v0.6h-0.6zM131.92 206.71h0.6v0.6h-0.6zM137.02 202.94h0.6v0.6h-0.6zM132.18 198.24h0.6v0.6h-0.6zM131.05 201.76h0.6v0.6h-0.6zM146.43 208.49h0.6v0.6h-0.6zM126.63 207.67h0.6v0.6h-0.6zM137.1 203.24h0.6v0.6h-0.6zM138.68 207.64h0.6v0.6h-0.6zM131.91 203.64h0.6v0.6h-0.6zM136.74 200.98h0.6v0.6h-0.6zM136.87 204.37h0.6v0.6h-0.6zM131.2 201.52h0.6v0.6h-0.6zM137.67 207.96h0.6v0.6h-0.6zM137.84 201.48h0.6v0.6h-0.6zM140.58 205.32h0.6v0.6h-0.6zM139.56 209.04h0.6v0.6h-0.6zM129.76 204.16h0.6v0.6h-0.6zM131.76 201.41h0.6v0.6h-0.6zM148.81 208.2h0.6v0.6h-0.6zM124.11 206.28h0.6v0.6h-0.6zM132.04 208.99h0.6v0.6h-0.6zM136.23 204.04h0.6v0.6h-0.6zM136.62 206.13h0.6v0.6h-0.6zM135.88 203.87h0.6v0.6h-0.6zM134.78 206.61h0.6v0.6h-0.6zM128.3 204.69h0.6v0.6h-0.6zM134.91 202.88h0.6v0.6h-0.6zM140.51 199.87h0.6v0.6h-0.6zM118.96 198.32h0.6v0.6h-0.6zM125.77 201.19h0.6v0.6h-0.6zM122.06 207.57h0.6v0.6h-0.6zM109.76 208.07h0.6v0.6h-0.6zM116.1 202.79h0.6v0.6h-0.6zM120.85 210.74h0.6v0.6h-0.6zM127.21 217.89h0.6v0.6h-0.6zM123.02 201.14h0.6v0.6h-0.6zM117.94 209.58h0.6v0.6h-0.6zM133.67 207.24h0.6v0.6h-0.6zM117.39 206.75h0.6v0.6h-0.6zM123.61 204.94h0.6v0.6h-0.6zM116.15 185.73h0.6v0.6h-0.6zM117.69 212.57h0.6v0.6h-0.6zM123.29 188.2h0.6v0.6h-0.6zM121.74 190.9h0.6v0.6h-0.6zM136.57 206.12h0.6v0.6h-0.6zM112.71 210.66h0.6v0.6h-0.6zM115.85 208.9h0.6v0.6h-0.6zM121.86 195.88h0.6v0.6h-0.6zM126.67 194.69h0.6v0.6h-0.6zM131.71 205.15h0.6v0.6h-0.6zM114.01 191.16h0.6v0.6h-0.6zM133.77 215.54h0.6v0.6h-0.6zM112.31 217h0.6v0.6h-0.6zM122.95 203.05h0.6v0.6h-0.6zM121.05 202.69h0.6v0.6h-0.6zM132.39 205.82h0.6v0.6h-0.6zM107.93 220.34h0.6v0.6h-0.6zM128.29 196.57h0.6v0.6h-0.6zM119.04 197.94h0.6v0.6h-0.6zM122.05 207.65h0.6v0.6h-0.6zM123.48 200.23h0.6v0.6h-0.6zM115.72 211.03h0.6v0.6h-0.6zM120.95 221.51h0.6v0.6h-0.6zM115.67 210.59h0.6v0.6h-0.6zM122.07 199.02h0.6v0.6h-0.6zM131.88 205.62h0.6v0.6h-0.6zM115.02 202.32h0.6v0.6h-0.6zM129.3 195.55h0.6v0.6h-0.6zM132 209.82h0.6v0.6h-0.6zM119.62 214.84h0.6v0.6h-0.6zM134.77 209.18h0.6v0.6h-0.6zM122.98 218.51h0.6v0.6h-0.6zM132.88 197.77h0.6v0.6h-0.6zM120.15 203.09h0.6v0.6h-0.6zM118.63 193.49h0.6v0.6h-0.6zM128.45 205.33h0.6v0.6h-0.6zM122.44 215.25h0.6v0.6h-0.6zM117.47 204.27h0.6v0.6h-0.6zM123.75 201.46h0.6v0.6h-0.6zM120.87 210.45h0.6v0.6h-0.6zM121.64 214.69h0.6v0.6h-0.6zM116.07 206.21h0.6v0.6h-0.6zM110.99 203.81h0.6v0.6h-0.6zM116.43 214.93h0.6v0.6h-0.6zM127.29 208.52h0.6v0.6h-0.6zM135.57 215.55h0.6v0.6h-0.6zM127.1 199.51h0.6v0.6h-0.6zM110.82 204.48h0.6v0.6h-0.6zM119.02 199.83h0.6v0.6h-0.6zM119.51 192.25h0.6v0.6h-0.6zM132.93 196.11h0.6v0.6h-0.6zM116.64 208.99h0.6v0.6h-0.6zM109.43 211.64h0.6v0.6h-0.6zM128.77 202.34h0.6v0.6h-0.6zM113.57 201.13h0.6v0.6h-0.6zM107.74 215.18h0.6v0.6h-0.6zM122.11 199.14h0.6v0.6h-0.6zM114.85 209.03h0.6v0.6h-0.6zM133.05 195.08h0.6v0.6h-0.6zM117.36 191.41h0.6v0.6h-0.6zM126.81 205.88h0.6v0.6h-0.6zM138.78 203.77h0.6v0.6h-0.6zM118.4 199.34h0.6v0.6h-0.6zM128.15 192.38h0.6v0.6h-0.6zM127.38 206.57h0.6v0.6h-0.6zM117.87 197.87h0.6v0.6h-0.6zM129.69 218.8h0.6v0.6h-0.6zM118.32 208.71h0.6v0.6h-0.6zM134.91 200h0.6v0.6h-0.6zM119.79 195.45h0.6v0.6h-0.6zM120.58 204.08h0.6v0.6h-0.6zM118.53 199.09h0.6v0.6h-0.6zM109.68 194.49h0.6v0.6h-0.6zM114.28 209.57h0.6v0.6h-0.6zM117.83 198.23h0.6v0.6h-0.6zM126.69 208.98h0.6v0.6h-0.6zM115.97 199.94h0.6v0.6h-0.6zM126.72 207.48h0.6v0.6h-0.6zM115.34 206.53h0.6v0.6h-0.6zM121.48 213.18h0.6v0.6h-0.6zM115.1 211.42h0.6v0.6h-0.6zM124.99 197.02h0.6v0.6h-0.6zM129.73 211.63h0.6v0.6h-0.6zM111.65 219.81h0.6v0.6h-0.6zM112.96 197.69h0.6v0.6h-0.6zM119.24 210.58h0.6v0.6h-0.6zM126.15 203.98h0.6v0.6h-0.6zM132.14 207.79h0.6v0.6h-0.6zM132.36 226.25h0.6v0.6h-0.6zM123.18 185h0.6v0.6h-0.6zM118.24 196.46h0.6v0.6h-0.6zM122.41 205.45h0.6v0.6h-0.6zM112.29 195.85h0.6v0.6h-0.6zM119.67 203.19h0.6v0.6h-0.6zM121.94 204.62h0.6v0.6h-0.6zM123.98 196.81h0.6v0.6h-0.6zM121.31 212.7h0.6v0.6h-0.6zM130.01 208.26h0.6v0.6h-0.6zM119.54 198.35h0.6v0.6h-0.6zM131.9 208.76h0.6v0.6h-0.6zM118.43 187.89h0.6v0.6h-0.6zM114.96 189.74h0.6v0.6h-0.6zM131.37 206.16h0.6v0.6h-0.6zM115.91 202.55h0.6v0.6h-0.6zM141.91 214.17h0.6v0.6h-0.6zM111.23 203.68h0.6v0.6h-0.6zM112.1 191.25h0.6v0.6h-0.6zM123.06 223.57h0.6v0.6h-0.6zM133.9 205.04h0.6v0.6h-0.6zM118.76 206.28h0.6v0.6h-0.6zM129.8 193.25h0.6v0.6h-0.6zM107.05 219.45h0.6v0.6h-0.6zM123.9 217.31h0.6v0.6h-0.6zM123.57 216.31h0.6v0.6h-0.6zM116.89 208.61h0.6v0.6h-0.6zM133.91 212.74h0.6v0.6h-0.6zM118.08 211.75h0.6v0.6h-0.6zM116.46 193.45h0.6v0.6h-0.6zM125.83 215.75h0.6v0.6h-0.6zM128.41 194.76h0.6v0.6h-0.6zM128.57 210.07h0.6v0.6h-0.6zM118.06 185.03h0.6v0.6h-0.6zM129.74 211.72h0.6v0.6h-0.6zM125.64 190.99h0.6v0.6h-0.6zM109.89 212.72h0.6v0.6h-0.6zM128.07 208.62h0.6v0.6h-0.6zM119.74 207.83h0.6v0.6h-0.6zM117.4 202.22h0.6v0.6h-0.6zM114.81 206.75h0.6v0.6h-0.6zM118.38 212.27h0.6v0.6h-0.6zM127.42 198.24h0.6v0.6h-0.6zM136.31 195.77h0.6v0.6h-0.6zM125.28 213.32h0.6v0.6h-0.6zM131.9 187.12h0.6v0.6h-0.6zM129.67 214.42h0.6v0.6h-0.6zM133.17 186.97h0.6v0.6h-0.6zM116.3 203.91h0.6v0.6h-0.6zM115.52 225.41h0.6v0.6h-0.6zM109.9 211.7h0.6v0.6h-0.6zM141.38 191.96h0.6v0.6h-0.6zM158.44 175.63h0.6v0.6h-0.6zM120.43 191.6h0.6v0.6h-0.6zM140.37 204.98h0.6v0.6h-0.6zM144.12 219.3h0.6v0.6h-0.6zM106.74 203.41h0.6v0.6h-0.6zM127.36 210.23h0.6v0.6h-0.6zM134.15 192.16h0.6v0.6h-0.6zM106.07 190.17h0.6v0.6h-0.6zM129.78 191.56h0.6v0.6h-0.6zM126.18 208.21h0.6v0.6h-0.6zM123.82 218.8h0.6v0.6h-0.6zM125.21 196.73h0.6v0.6h-0.6zM129.1 221.57h0.6v0.6h-0.6zM138.36 224.83h0.6v0.6h-0.6zM105.94 224.34h0.6v0.6h-0.6zM116.23 221.26h0.6v0.6h-0.6zM108.07 219.08h0.6v0.6h-0.6zM139.86 210.03h0.6v0.6h-0.6zM126.82 194.27h0.6v0.6h-0.6zM114.16 181.15h0.6v0.6h-0.6zM139.41 191.83h0.6v0.6h-0.6zM107.25 182.68h0.6v0.6h-0.6zM114.88 183.94h0.6v0.6h-0.6zM130.23 221.96h0.6v0.6h-0.6zM137.12 212.94h0.6v0.6h-0.6zM111.4 210.4h0.6v0.6h-0.6zM152.41 226.42h0.6v0.6h-0.6zM144.16 205.88h0.6v0.6h-0.6zM157.65 180.54h0.6v0.6h-0.6zM148.52 211.83h0.6v0.6h-0.6zM144.91 192.5h0.6v0.6h-0.6zM110 181.2h0.6v0.6h-0.6zM142.26 190.24h0.6v0.6h-0.6zM156.95 180.16h0.6v0.6h-0.6zM149.67 199h0.6v0.6h-0.6zM121.59 187.2h0.6v0.6h-0.6zM124.79 193.2h0.6v0.6h-0.6zM117.91 185.31h0.6v0.6h-0.6zM158.14 196.03h0.6v0.6h-0.6zM139.34 210.94h0.6v0.6h-0.6zM123.62 223.25h0.6v0.6h-0.6zM121.57 183.87h0.6v0.6h-0.6zM108.1 187.64h0.6v0.6h-0.6zM109.02 206.96h0.6v0.6h-0.6zM136.77 174.89h0.6v0.6h-0.6zM157 212.32h0.6v0.6h-0.6zM135.41 223.78h0.6v0.6h-0.6zM134.31 183.04h0.6v0.6h-0.6zM147.81 224.32h0.6v0.6h-0.6zM108.94 200.41h0.6v0.6h-0.6zM117.93 221.61h0.6v0.6h-0.6zM110.87 216.45h0.6v0.6h-0.6zM116.83 207.69h0.6v0.6h-0.6zM143.07 214.01h0.6v0.6h-0.6zM108.56 199.31h0.6v0.6h-0.6zM112.48 180.41h0.6v0.6h-0.6zM114.44 181.54h0.6v0.6h-0.6z" fill="#444" fill-opacity="0.25"/>
<path d="M136.07 198.6 L135.59 199.9 L134.88 201.08 L134.04 202.13 L133.13 203.08 L132.22 203.96 L131.31 204.81 L130.38 205.67 L129.39 206.54 L128.29 207.41 L127.03 208.22 L125.6 208.91 L124 209.4 L122.29 209.63 L120.54 209.56 L118.84 209.19 L117.25 208.54 L115.83 207.65 L114.61 206.58 L113.59 205.39 L112.74 204.13 L112.04 202.81 L111.48 201.45 L111.06 200.05 L110.81 198.6 L110.77 197.12 L110.98 195.63 L111.49 194.2 L112.32 192.87 L113.44 191.72 L114.82 190.8 L116.38 190.15 L118.01 189.78 L119.64 189.65 L121.19 189.7 L122.65 189.86 L124 190.08 L125.29 190.28 L126.56 190.48 L127.87 190.66 L129.23 190.9 L130.65 191.23 L132.07 191.74 L133.42 192.46 L134.59 193.4 L135.49 194.55 L136.06 195.85 L136.25 197.23Z" fill="#bbb" fill-opacity="0.22" stroke="#444" stroke-width="0.42"/>
<path d="M134.06 198.3 L133.67 199.39 L133.09 200.39 L132.4 201.28 L131.66 202.08 L130.91 202.82 L130.17 203.54 L129.41 204.26 L128.61 205 L127.71 205.73 L126.68 206.41 L125.5 206.99 L124.2 207.41 L122.8 207.6 L121.38 207.54 L119.98 207.23 L118.69 206.68 L117.53 205.93 L116.53 205.03 L115.7 204.03 L115 202.96 L114.43 201.85 L113.98 200.7 L113.64 199.52 L113.43 198.3 L113.39 197.05 L113.57 195.8 L113.98 194.59 L114.66 193.47 L115.58 192.5 L116.71 191.72 L117.97 191.18 L119.31 190.86 L120.64 190.75 L121.91 190.8 L123.09 190.93 L124.2 191.11 L125.25 191.29 L126.29 191.45 L127.36 191.61 L128.47 191.8 L129.63 192.09 L130.79 192.52 L131.89 193.12 L132.85 193.92 L133.58 194.89 L134.05 195.98 L134.2 197.14Z" fill="#999" fill-opacity="0.22" stroke="#444" stroke-width="0.42"/>
<path d="M132.25 198 L131.94 198.89 L131.47 199.7 L130.92 200.43 L130.33 201.07 L129.74 201.68 L129.15 202.26 L128.55 202.85 L127.91 203.45 L127.19 204.05 L126.37 204.6 L125.44 205.08 L124.4 205.41 L123.29 205.57 L122.15 205.52 L121.04 205.27 L120.01 204.82 L119.09 204.21 L118.3 203.48 L117.63 202.66 L117.08 201.79 L116.63 200.89 L116.26 199.96 L115.99 198.99 L115.83 198 L115.8 196.98 L115.94 195.96 L116.27 194.98 L116.81 194.07 L117.54 193.28 L118.43 192.65 L119.44 192.2 L120.51 191.95 L121.56 191.86 L122.58 191.89 L123.52 192 L124.4 192.15 L125.24 192.29 L126.06 192.42 L126.91 192.55 L127.8 192.71 L128.72 192.94 L129.65 193.29 L130.52 193.79 L131.28 194.43 L131.87 195.22 L132.24 196.12 L132.36 197.06Z" fill="#888" fill-opacity="0.25" stroke="#444" stroke-width="0.42"/>
<path d="M130.64 197.7 L130.4 198.41 L130.04 199.06 L129.62 199.64 L129.17 200.16 L128.71 200.64 L128.25 201.11 L127.79 201.58 L127.3 202.06 L126.75 202.54 L126.12 202.98 L125.4 203.36 L124.6 203.63 L123.75 203.76 L122.87 203.72 L122.02 203.52 L121.23 203.16 L120.52 202.67 L119.91 202.08 L119.39 201.43 L118.97 200.73 L118.62 200.01 L118.34 199.27 L118.13 198.49 L118.01 197.7 L117.98 196.89 L118.09 196.07 L118.34 195.28 L118.76 194.55 L119.32 193.92 L120.01 193.42 L120.79 193.06 L121.6 192.86 L122.42 192.78 L123.2 192.81 L123.92 192.9 L124.6 193.02 L125.24 193.13 L125.88 193.24 L126.53 193.34 L127.22 193.47 L127.92 193.66 L128.64 193.93 L129.31 194.33 L129.89 194.85 L130.35 195.48 L130.63 196.19 L130.72 196.95Z" fill="#666" fill-opacity="0.3" stroke="#444" stroke-width="0.42"/>
<path d="M129.23 197.4 L129.05 197.93 L128.79 198.42 L128.48 198.86 L128.15 199.24 L127.81 199.61 L127.48 199.96 L127.14 200.31 L126.78 200.67 L126.37 201.03 L125.91 201.36 L125.39 201.65 L124.8 201.85 L124.17 201.94 L123.53 201.91 L122.91 201.76 L122.33 201.49 L121.81 201.13 L121.36 200.69 L120.98 200.2 L120.67 199.68 L120.42 199.13 L120.21 198.57 L120.06 198 L119.96 197.4 L119.95 196.79 L120.03 196.18 L120.21 195.59 L120.52 195.04 L120.93 194.57 L121.44 194.19 L122 193.92 L122.6 193.77 L123.2 193.71 L123.77 193.73 L124.3 193.8 L124.8 193.89 L125.27 193.98 L125.74 194.05 L126.22 194.13 L126.72 194.23 L127.24 194.37 L127.76 194.58 L128.25 194.87 L128.68 195.26 L129.01 195.73 L129.22 196.27 L129.29 196.84Z" fill="#444" fill-opacity="0.38" stroke="#444" stroke-width="0.42"/>
<path d="M127.92 197.1 L127.8 197.47 L127.63 197.8 L127.43 198.1 L127.21 198.37 L126.99 198.62 L126.77 198.87 L126.54 199.11 L126.3 199.36 L126.04 199.6 L125.73 199.84 L125.39 200.03 L125 200.17 L124.59 200.24 L124.16 200.22 L123.75 200.11 L123.37 199.93 L123.03 199.67 L122.73 199.37 L122.48 199.03 L122.28 198.67 L122.11 198.3 L121.98 197.91 L121.87 197.51 L121.81 197.1 L121.8 196.68 L121.85 196.26 L121.98 195.85 L122.18 195.47 L122.45 195.14 L122.78 194.88 L123.16 194.7 L123.55 194.59 L123.95 194.55 L124.32 194.57 L124.67 194.62 L125 194.68 L125.31 194.74 L125.62 194.79 L125.93 194.84 L126.26 194.91 L126.61 195.01 L126.95 195.15 L127.28 195.35 L127.56 195.62 L127.78 195.95 L127.91 196.32 L127.96 196.71Z" fill="#222" fill-opacity="0.48" stroke="#444" stroke-width="0.42"/>
<path d="M126.81 196.8 L126.75 197.02 L126.65 197.21 L126.54 197.39 L126.42 197.55 L126.3 197.69 L126.17 197.83 L126.05 197.98 L125.92 198.12 L125.77 198.27 L125.6 198.4 L125.41 198.52 L125.2 198.6 L124.97 198.64 L124.74 198.63 L124.51 198.57 L124.3 198.46 L124.11 198.31 L123.95 198.13 L123.81 197.93 L123.7 197.72 L123.61 197.5 L123.53 197.28 L123.48 197.04 L123.44 196.8 L123.44 196.55 L123.46 196.31 L123.53 196.07 L123.64 195.84 L123.79 195.65 L123.98 195.5 L124.18 195.39 L124.4 195.33 L124.62 195.31 L124.83 195.32 L125.02 195.34 L125.2 195.38 L125.37 195.41 L125.54 195.45 L125.72 195.48 L125.9 195.52 L126.09 195.57 L126.28 195.66 L126.46 195.78 L126.61 195.93 L126.73 196.13 L126.81 196.34 L126.83 196.57Z" fill="#111" fill-opacity="0.6" stroke="#444" stroke-width="0.42"/>
<path d="M152.44 207 L152.08 207.76 L151.52 208.47 L150.79 209.11 L149.93 209.68 L148.97 210.18 L147.94 210.61 L146.86 210.97 L145.74 211.27 L144.59 211.51 L143.41 211.69 L142.22 211.81 L141 211.86 L139.77 211.85 L138.55 211.76 L137.34 211.59 L136.19 211.33 L135.12 210.99 L134.15 210.56 L133.33 210.06 L132.67 209.5 L132.19 208.9 L131.9 208.27 L131.79 207.63 L131.86 207 L132.08 206.39 L132.44 205.81 L132.91 205.26 L133.48 204.74 L134.13 204.26 L134.85 203.8 L135.65 203.37 L136.53 202.97 L137.5 202.6 L138.56 202.27 L139.73 201.98 L141 201.77 L142.36 201.63 L143.79 201.59 L145.24 201.67 L146.69 201.87 L148.08 202.2 L149.35 202.66 L150.46 203.23 L151.36 203.89 L152.02 204.63 L152.42 205.41 L152.56 206.21Z" fill="#aaa" fill-opacity="0.22" stroke="#666" stroke-width="0.45"/>
<path d="M147.12 207 L147.03 207.46 L146.81 207.9 L146.47 208.32 L146.01 208.71 L145.45 209.06 L144.81 209.37 L144.09 209.63 L143.32 209.83 L142.51 209.98 L141.68 210.08 L140.83 210.12 L140 210.11 L139.19 210.04 L138.41 209.93 L137.67 209.77 L136.99 209.57 L136.37 209.33 L135.81 209.06 L135.33 208.77 L134.92 208.44 L134.59 208.1 L134.35 207.75 L134.19 207.38 L134.12 207 L134.14 206.62 L134.25 206.24 L134.46 205.87 L134.75 205.51 L135.14 205.16 L135.62 204.84 L136.18 204.55 L136.82 204.29 L137.54 204.07 L138.31 203.9 L139.14 203.77 L140 203.71 L140.88 203.69 L141.77 203.74 L142.65 203.85 L143.49 204.03 L144.28 204.25 L145 204.54 L145.64 204.87 L146.18 205.24 L146.6 205.65 L146.91 206.09 L147.08 206.54Z" fill="#999" fill-opacity="0.22" stroke="#777" stroke-width="0.45"/>
<line x1="124.5" y1="192" x2="126.5" y2="197" stroke="#fff" stroke-width="0.5"/>
<rect x="104.9" y="172.7" width="56.6" height="55.9" fill="none" stroke="#111" stroke-width="1"/>
<line x1="104.9" y1="172.7" x2="104.9" y2="229.1" stroke="#111" stroke-width="1.61" />
<line x1="104.4" y1="228.6" x2="161.5" y2="228.6" stroke="#111" stroke-width="1.61" />
<line x1="102.5" y1="227.5" x2="104.9" y2="227.5" stroke="#111" stroke-width="0.8" />
<line x1="103.6" y1="225.5" x2="104.9" y2="225.5" stroke="#111" stroke-width="0.8" />
<line x1="103.6" y1="222.5" x2="104.9" y2="222.5" stroke="#111" stroke-width="0.8" />
<line x1="103.6" y1="219.5" x2="104.9" y2="219.5" stroke="#111" stroke-width="0.8" />
<line x1="103.6" y1="217.5" x2="104.9" y2="217.5" stroke="#111" stroke-width="0.8" />
<line x1="102.5" y1="214.5" x2="104.9" y2="214.5" stroke="#111" stroke-width="0.8" />
<line x1="103.6" y1="212.5" x2="104.9" y2="212.5" stroke="#111" stroke-width="0.8" />
<line x1="103.6" y1="209.5" x2="104.9" y2="209.5" stroke="#111" stroke-width="0.8" />
<line x1="103.6" y1="207.5" x2="104.9" y2="207.5" stroke="#111" stroke-width="0.8" />
<line x1="103.6" y1="204.5" x2="104.9" y2="204.5" stroke="#111" stroke-width="0.8" />
<line x1="102.5" y1="201.5" x2="104.9" y2="201.5" stroke="#111" stroke-width="0.8" />
<line x1="103.6" y1="199.5" x2="104.9" y2="199.5" stroke="#111" stroke-width="0.8" />
<line x1="103.6" y1="196.5" x2="104.9" y2="196.5" stroke="#111" stroke-width="0.8" />
<line x1="103.6" y1="194.5" x2="104.9" y2="194.5" stroke="#111" stroke-width="0.8" />
<line x1="103.6" y1="191.5" x2="104.9" y2="191.5" stroke="#111" stroke-width="0.8" />
<line x1="102.5" y1="189.5" x2="104.9" y2="189.5" stroke="#111" stroke-width="0.8" />
<line x1="103.6" y1="186.5" x2="104.9" y2="186.5" stroke="#111" stroke-width="0.8" />
<line x1="103.6" y1="183.5" x2="104.9" y2="183.5" stroke="#111" stroke-width="0.8" />
<line x1="103.6" y1="181.5" x2="104.9" y2="181.5" stroke="#111" stroke-width="0.8" />
<line x1="103.6" y1="178.5" x2="104.9" y2="178.5" stroke="#111" stroke-width="0.8" />
<line x1="102.5" y1="176.5" x2="104.9" y2="176.5" stroke="#111" stroke-width="0.8" />
<line x1="103.6" y1="173.5" x2="104.9" y2="173.5" stroke="#111" stroke-width="0.8" />
<line x1="105.5" y1="228.6" x2="105.5" y2="231" stroke="#111" stroke-width="0.8" />
<line x1="108.5" y1="228.6" x2="108.5" y2="229.9" stroke="#111" stroke-width="0.8" />
<line x1="110.5" y1="228.6" x2="110.5" y2="229.9" stroke="#111" stroke-width="0.8" />
<line x1="112.5" y1="228.6" x2="112.5" y2="229.9" stroke="#111" stroke-width="0.8" />
<line x1="114.5" y1="228.6" x2="114.5" y2="229.9" stroke="#111" stroke-width="0.8" />
<line x1="116.5" y1="228.6" x2="116.5" y2="231" stroke="#111" stroke-width="0.8" />
<line x1="119.5" y1="228.6" x2="119.5" y2="229.9" stroke="#111" stroke-width="0.8" />
<line x1="121.5" y1="228.6" x2="121.5" y2="229.9" stroke="#111" stroke-width="0.8" />
<line x1="123.5" y1="228.6" x2="123.5" y2="229.9" stroke="#111" stroke-width="0.8" />
<line x1="125.5" y1="228.6" x2="125.5" y2="229.9" stroke="#111" stroke-width="0.8" />
<line x1="127.5" y1="228.6" x2="127.5" y2="231" stroke="#111" stroke-width="0.8" />
<line x1="129.5" y1="228.6" x2="129.5" y2="229.9" stroke="#111" stroke-width="0.8" />
<line x1="132.5" y1="228.6" x2="132.5" y2="229.9" stroke="#111" stroke-width="0.8" />
<line x1="134.5" y1="228.6" x2="134.5" y2="229.9" stroke="#111" stroke-width="0.8" />
<line x1="136.5" y1="228.6" x2="136.5" y2="229.9" stroke="#111" stroke-width="0.8" />
<line x1="138.5" y1="228.6" x2="138.5" y2="231" stroke="#111" stroke-width="0.8" />
<line x1="140.5" y1="228.6" x2="140.5" y2="229.9" stroke="#111" stroke-width="0.8" />
<line x1="143.5" y1="228.6" x2="143.5" y2="229.9" stroke="#111" stroke-width="0.8" />
<line x1="145.5" y1="228.6" x2="145.5" y2="229.9" stroke="#111" stroke-width="0.8" />
<line x1="147.5" y1="228.6" x2="147.5" y2="229.9" stroke="#111" stroke-width="0.8" />
<line x1="149.5" y1="228.6" x2="149.5" y2="231" stroke="#111" stroke-width="0.8" />
<line x1="151.5" y1="228.6" x2="151.5" y2="229.9" stroke="#111" stroke-width="0.8" />
<line x1="153.5" y1="228.6" x2="153.5" y2="229.9" stroke="#111" stroke-width="0.8" />
<line x1="156.5" y1="228.6" x2="156.5" y2="229.9" stroke="#111" stroke-width="0.8" />
<line x1="158.5" y1="228.6" x2="158.5" y2="229.9" stroke="#111" stroke-width="0.8" />
<line x1="160.5" y1="228.6" x2="160.5" y2="231" stroke="#111" stroke-width="0.8" />
<rect x="132.4" y="202.8" width="28.4" height="25.8" fill="none" stroke="#111" stroke-width="0.9"/>
<text x="154" y="225.4" font-size="8.2" stroke="#000" stroke-width="0.17">8</text>
<text x="151.2" y="184.5" font-size="8.2" fill="#41609e" textLength="17.1" lengthAdjust="spacingAndGlyphs" stroke="#41609e" stroke-width="0.17">HSC</text>
<text x="148.4" y="195.1" font-size="8.2" fill="#41609e" textLength="23" lengthAdjust="spacingAndGlyphs" stroke="#41609e" stroke-width="0.17">-SLAM</text>
<text x="98.8" y="214" font-size="9.2" text-anchor="middle" textLength="13.2" lengthAdjust="spacingAndGlyphs" transform="rotate(-90 98.8 214)" stroke="#000" stroke-width="0.42">CD48</text>
<text x="109.8" y="241.9" font-size="9.2" textLength="19.6" lengthAdjust="spacingAndGlyphs" stroke="#000" stroke-width="0.42">CD150</text>
<line x1="133.2" y1="239.5" x2="149.4" y2="239.5" stroke="#111" stroke-width="1.03" />
<polygon points="152.2,239.5 147.7,241.4 149.1,239.5 147.7,237.6" fill="#111" />
<path d="M34 300.1L34 300.09L34.24 300.09L34.49 300.08L34.73 300.08L34.98 300.08L35.22 300.07L35.47 300.07L35.71 300.06L35.96 300.06L36.2 300.05L36.45 300.04L36.69 300.03L36.94 300.02L37.18 300.01L37.43 300L37.67 299.98L37.92 299.96L38.16 299.94L38.4 299.91L38.65 299.88L38.89 299.85L39.14 299.8L39.38 299.76L39.63 299.72L39.87 299.66L40.12 299.59L40.36 299.5L40.61 299.44L40.85 299.35L41.1 299.22L41.34 299.14L41.59 299L41.83 298.82L42.07 298.66L42.32 298.49L42.56 298.26L42.81 298.17L43.05 297.76L43.3 297.57L43.54 297.31L43.79 296.85L44.03 296.44L44.28 296.1L44.52 295.71L44.77 295.11L45.01 294.57L45.26 293.8L45.5 293.22L45.75 292.59L45.99 291.67L46.23 291.07L46.48 290.33L46.72 289.07L46.97 288.04L47.21 287.15L47.46 286.15L47.7 284.63L47.95 284.23L48.19 281.77L48.44 280.38L48.68 279.74L48.93 277.44L49.17 276.28L49.42 273.71L49.66 273.46L49.9 271.05L50.15 268.21L50.39 265.99L50.64 266.37L50.88 263.3L51.13 260.76L51.37 259.61L51.62 255.89L51.86 256.52L52.11 253.4L52.35 253.12L52.6 249.24L52.84 249.34L53.09 248.59L53.33 249.17L53.58 246.9L53.82 246.9L54.06 248.73L54.31 250.79L54.55 254.37L54.8 258.29L55.04 261.59L55.29 264.82L55.53 266.62L55.78 271.56L56.02 274.08L56.27 276.83L56.51 279.31L56.76 281.72L57 284.64L57.25 286.82L57.49 288.24L57.73 289.69L57.98 291.3L58.22 292.72L58.47 293.94L58.71 294.87L58.96 295.78L59.2 296.43L59.45 297.17L59.69 297.64L59.94 298.1L60.18 298.45L60.43 298.77L60.67 298.97L60.92 299.21L61.16 299.39L61.41 299.57L61.65 299.67L61.89 299.76L62.14 299.83L62.38 299.9L62.63 299.93L62.87 299.97L63.12 300L63.36 300.02L63.61 300.04L63.85 300.05L64.1 300.07L64.34 300.07L64.59 300.08L64.83 300.08L65.08 300.09L65.32 300.09L65.57 300.09L65.81 300.1L66.05 300.1L66.3 300.1L66.54 300.1L66.79 300.1L67.03 300.1L67.28 300.1L67.52 300.1L67.77 300.1L68.01 300.1L68.26 300.1L68.5 300.1L68.75 300.1L68.99 300.1L69.24 300.1L69.48 300.1L69.72 300.1L69.97 300.1L70.21 300.1L70.46 300.1L70.7 300.1L70.95 300.1L71.19 300.1L71.44 300.1L71.68 300.1L71.93 300.1L72.17 300.1L72.42 300.1L72.66 300.1L72.91 300.1L73.15 300.1L73.4 300.1L73.64 300.1L73.88 300.1L74.13 300.1L74.37 300.1L74.62 300.1L74.86 300.1L75.11 300.1L75.35 300.1L75.6 300.1L75.84 300.1L76.09 300.1L76.33 300.1L76.58 300.1L76.82 300.1L77.07 300.1L77.31 300.1L77.55 300.1L77.8 300.1L78.04 300.1L78.29 300.1L78.53 300.1L78.78 300.1L79.02 300.1L79.27 300.1L79.51 300.1L79.76 300.1L80 300.1L80.25 300.1L80.49 300.1L80.74 300.1L80.98 300.1L81.23 300.1L81.47 300.1L81.71 300.1L81.96 300.1L82.2 300.1L82.45 300.1L82.69 300.1L82.94 300.1L83.18 300.1L83.43 300.1L83.67 300.1L83.92 300.1L84.16 300.1L84.41 300.1L84.65 300.1L84.9 300.1L85.14 300.1L85.38 300.1L85.63 300.1L85.87 300.1L86.12 300.1L86.36 300.1L86.61 300.1L86.85 300.1L87.1 300.1L87.34 300.1L87.59 300.1L87.83 300.1L88.08 300.1L88.32 300.1L88.57 300.1L88.81 300.1L89.06 300.1L89.3 300.1L89.3 300.1Z" fill="#c41e42" stroke="#c41e42" stroke-width="0.5"/>
<path d="M34 300.1L34 300.1L34.24 300.1L34.49 300.1L34.73 300.1L34.98 300.1L35.22 300.1L35.47 300.1L35.71 300.1L35.96 300.1L36.2 300.1L36.45 300.1L36.69 300.1L36.94 300.1L37.18 300.1L37.43 300.1L37.67 300.1L37.92 300.1L38.16 300.1L38.4 300.1L38.65 300.1L38.89 300.1L39.14 300.1L39.38 300.09L39.63 300.09L39.87 300.09L40.12 300.09L40.36 300.09L40.61 300.08L40.85 300.08L41.1 300.08L41.34 300.07L41.59 300.06L41.83 300.06L42.07 300.05L42.32 300.04L42.56 300.03L42.81 300.01L43.05 299.99L43.3 299.96L43.54 299.94L43.79 299.91L44.03 299.87L44.28 299.82L44.52 299.77L44.77 299.71L45.01 299.63L45.26 299.54L45.5 299.45L45.75 299.35L45.99 299.2L46.23 299.02L46.48 298.89L46.72 298.68L46.97 298.45L47.21 298.13L47.46 297.96L47.7 297.51L47.95 297.07L48.19 296.75L48.44 296.08L48.68 295.59L48.93 295.07L49.17 294.29L49.42 293.74L49.66 292.76L49.9 291.43L50.15 290.86L50.39 289.16L50.64 288.32L50.88 286.69L51.13 285.48L51.37 284.64L51.62 282.44L51.86 280.36L52.11 279.02L52.35 277.15L52.6 274.22L52.84 272.58L53.09 270.97L53.33 268.07L53.58 264.65L53.82 263.22L54.06 259.75L54.31 256.86L54.55 255.85L54.8 254.78L55.04 253L55.29 249.99L55.53 247.57L55.78 247.09L56.02 246.9L56.27 248.08L56.51 248.6L56.76 251.08L57 252.91L57.25 255.98L57.49 258.52L57.73 260.02L57.98 263L58.22 265.38L58.47 266.78L58.71 269.78L58.96 270.5L59.2 273.99L59.45 277L59.69 278.5L59.94 280.7L60.18 282.96L60.43 284.13L60.67 286.32L60.92 288.37L61.16 288.8L61.41 290.34L61.65 291.09L61.89 292.45L62.14 293.38L62.38 293.77L62.63 294.69L62.87 295.03L63.12 295.25L63.36 295.6L63.61 295.73L63.85 295.78L64.1 295.82L64.34 296.29L64.59 296.73L64.83 297.32L65.08 297.79L65.32 298.37L65.57 298.78L65.81 299.05L66.05 299.31L66.3 299.48L66.54 299.62L66.79 299.72L67.03 299.81L67.28 299.86L67.52 299.92L67.77 299.95L68.01 299.97L68.26 300L68.5 300.02L68.75 300.03L68.99 300.04L69.24 300.05L69.48 300.06L69.72 300.07L69.97 300.08L70.21 300.08L70.46 300.08L70.7 300.09L70.95 300.09L71.19 300.09L71.44 300.09L71.68 300.1L71.93 300.1L72.17 300.1L72.42 300.1L72.66 300.1L72.91 300.1L73.15 300.1L73.4 300.1L73.64 300.1L73.88 300.1L74.13 300.1L74.37 300.1L74.62 300.1L74.86 300.1L75.11 300.1L75.35 300.1L75.6 300.1L75.84 300.1L76.09 300.1L76.33 300.1L76.58 300.1L76.82 300.1L77.07 300.1L77.31 300.1L77.55 300.1L77.8 300.1L78.04 300.1L78.29 300.1L78.53 300.1L78.78 300.1L79.02 300.1L79.27 300.1L79.51 300.1L79.76 300.1L80 300.1L80.25 300.1L80.49 300.1L80.74 300.1L80.98 300.1L81.23 300.1L81.47 300.1L81.71 300.1L81.96 300.1L82.2 300.1L82.45 300.1L82.69 300.1L82.94 300.1L83.18 300.1L83.43 300.1L83.67 300.1L83.92 300.1L84.16 300.1L84.41 300.1L84.65 300.1L84.9 300.1L85.14 300.1L85.38 300.1L85.63 300.1L85.87 300.1L86.12 300.1L86.36 300.1L86.61 300.1L86.85 300.1L87.1 300.1L87.34 300.1L87.59 300.1L87.83 300.1L88.08 300.1L88.32 300.1L88.57 300.1L88.81 300.1L89.06 300.1L89.3 300.1L89.3 300.1Z" fill="#3a5a9e" stroke="#3a5a9e" stroke-width="0.5"/>
<path d="M34 300.1L34 300.1L34.24 300.1L34.49 300.1L34.73 300.1L34.98 300.1L35.22 300.1L35.47 300.1L35.71 300.1L35.96 300.1L36.2 300.1L36.45 300.1L36.69 300.1L36.94 300.1L37.18 300.1L37.43 300.1L37.67 300.1L37.92 300.1L38.16 300.1L38.4 300.1L38.65 300.1L38.89 300.1L39.14 300.1L39.38 300.09L39.63 300.09L39.87 300.09L40.12 300.09L40.36 300.09L40.61 300.08L40.85 300.08L41.1 300.08L41.34 300.07L41.59 300.06L41.83 300.06L42.07 300.05L42.32 300.04L42.56 300.03L42.81 300.01L43.05 299.99L43.3 299.96L43.54 299.94L43.79 299.91L44.03 299.87L44.28 299.82L44.52 299.77L44.77 299.71L45.01 299.63L45.26 299.54L45.5 299.45L45.75 299.35L45.99 299.2L46.23 299.02L46.48 298.89L46.72 298.68L46.97 298.45L47.21 298.13L47.46 297.96L47.7 297.51L47.95 297.07L48.19 296.75L48.44 296.08L48.68 295.59L48.93 295.07L49.17 294.29L49.42 293.74L49.66 292.76L49.9 291.43L50.15 290.86L50.39 289.16L50.64 288.32L50.88 286.69L51.13 285.48L51.37 284.64L51.62 282.44L51.86 280.36L52.11 279.02L52.35 277.15L52.6 274.22L52.84 272.58L53.09 270.97L53.33 268.07L53.58 264.65L53.82 263.22L54.06 259.75L54.31 256.86L54.55 255.85L54.8 258.29L55.04 261.59L55.29 264.82L55.53 266.62L55.78 271.56L56.02 274.08L56.27 276.83L56.51 279.31L56.76 281.72L57 284.64L57.25 286.82L57.49 288.24L57.73 289.69L57.98 291.3L58.22 292.72L58.47 293.94L58.71 294.87L58.96 295.78L59.2 296.43L59.45 297.17L59.69 297.64L59.94 298.1L60.18 298.45L60.43 298.77L60.67 298.97L60.92 299.21L61.16 299.39L61.41 299.57L61.65 299.67L61.89 299.76L62.14 299.83L62.38 299.9L62.63 299.93L62.87 299.97L63.12 300L63.36 300.02L63.61 300.04L63.85 300.05L64.1 300.07L64.34 300.07L64.59 300.08L64.83 300.08L65.08 300.09L65.32 300.09L65.57 300.09L65.81 300.1L66.05 300.1L66.3 300.1L66.54 300.1L66.79 300.1L67.03 300.1L67.28 300.1L67.52 300.1L67.77 300.1L68.01 300.1L68.26 300.1L68.5 300.1L68.75 300.1L68.99 300.1L69.24 300.1L69.48 300.1L69.72 300.1L69.97 300.1L70.21 300.1L70.46 300.1L70.7 300.1L70.95 300.1L71.19 300.1L71.44 300.1L71.68 300.1L71.93 300.1L72.17 300.1L72.42 300.1L72.66 300.1L72.91 300.1L73.15 300.1L73.4 300.1L73.64 300.1L73.88 300.1L74.13 300.1L74.37 300.1L74.62 300.1L74.86 300.1L75.11 300.1L75.35 300.1L75.6 300.1L75.84 300.1L76.09 300.1L76.33 300.1L76.58 300.1L76.82 300.1L77.07 300.1L77.31 300.1L77.55 300.1L77.8 300.1L78.04 300.1L78.29 300.1L78.53 300.1L78.78 300.1L79.02 300.1L79.27 300.1L79.51 300.1L79.76 300.1L80 300.1L80.25 300.1L80.49 300.1L80.74 300.1L80.98 300.1L81.23 300.1L81.47 300.1L81.71 300.1L81.96 300.1L82.2 300.1L82.45 300.1L82.69 300.1L82.94 300.1L83.18 300.1L83.43 300.1L83.67 300.1L83.92 300.1L84.16 300.1L84.41 300.1L84.65 300.1L84.9 300.1L85.14 300.1L85.38 300.1L85.63 300.1L85.87 300.1L86.12 300.1L86.36 300.1L86.61 300.1L86.85 300.1L87.1 300.1L87.34 300.1L87.59 300.1L87.83 300.1L88.08 300.1L88.32 300.1L88.57 300.1L88.81 300.1L89.06 300.1L89.3 300.1L89.3 300.1Z" fill="#5b3a7a"/>
<line x1="33.4" y1="300.5" x2="89.9" y2="300.5" stroke="#3a5a9e" stroke-width="0.92" />
<rect x="33.4" y="244.3" width="56.5" height="56.6" fill="none" stroke="#111" stroke-width="1"/>
<line x1="33.4" y1="244.3" x2="33.4" y2="301.4" stroke="#111" stroke-width="1.61" />
<line x1="32.9" y1="300.9" x2="89.9" y2="300.9" stroke="#111" stroke-width="1.61" />
<line x1="31" y1="299.5" x2="33.4" y2="299.5" stroke="#111" stroke-width="0.8" />
<line x1="32.1" y1="297.5" x2="33.4" y2="297.5" stroke="#111" stroke-width="0.8" />
<line x1="32.1" y1="294.5" x2="33.4" y2="294.5" stroke="#111" stroke-width="0.8" />
<line x1="32.1" y1="292.5" x2="33.4" y2="292.5" stroke="#111" stroke-width="0.8" />
<line x1="32.1" y1="289.5" x2="33.4" y2="289.5" stroke="#111" stroke-width="0.8" />
<line x1="31" y1="286.5" x2="33.4" y2="286.5" stroke="#111" stroke-width="0.8" />
<line x1="32.1" y1="284.5" x2="33.4" y2="284.5" stroke="#111" stroke-width="0.8" />
<line x1="32.1" y1="281.5" x2="33.4" y2="281.5" stroke="#111" stroke-width="0.8" />
<line x1="32.1" y1="279.5" x2="33.4" y2="279.5" stroke="#111" stroke-width="0.8" />
<line x1="32.1" y1="276.5" x2="33.4" y2="276.5" stroke="#111" stroke-width="0.8" />
<line x1="31" y1="273.5" x2="33.4" y2="273.5" stroke="#111" stroke-width="0.8" />
<line x1="32.1" y1="271.5" x2="33.4" y2="271.5" stroke="#111" stroke-width="0.8" />
<line x1="32.1" y1="268.5" x2="33.4" y2="268.5" stroke="#111" stroke-width="0.8" />
<line x1="32.1" y1="266.5" x2="33.4" y2="266.5" stroke="#111" stroke-width="0.8" />
<line x1="32.1" y1="263.5" x2="33.4" y2="263.5" stroke="#111" stroke-width="0.8" />
<line x1="31" y1="260.5" x2="33.4" y2="260.5" stroke="#111" stroke-width="0.8" />
<line x1="32.1" y1="258.5" x2="33.4" y2="258.5" stroke="#111" stroke-width="0.8" />
<line x1="32.1" y1="255.5" x2="33.4" y2="255.5" stroke="#111" stroke-width="0.8" />
<line x1="32.1" y1="253.5" x2="33.4" y2="253.5" stroke="#111" stroke-width="0.8" />
<line x1="32.1" y1="250.5" x2="33.4" y2="250.5" stroke="#111" stroke-width="0.8" />
<line x1="31" y1="247.5" x2="33.4" y2="247.5" stroke="#111" stroke-width="0.8" />
<line x1="32.1" y1="245.5" x2="33.4" y2="245.5" stroke="#111" stroke-width="0.8" />
<line x1="34.5" y1="300.9" x2="34.5" y2="303.3" stroke="#111" stroke-width="0.8" />
<line x1="36.5" y1="300.9" x2="36.5" y2="302.2" stroke="#111" stroke-width="0.8" />
<line x1="38.5" y1="300.9" x2="38.5" y2="302.2" stroke="#111" stroke-width="0.8" />
<line x1="40.5" y1="300.9" x2="40.5" y2="302.2" stroke="#111" stroke-width="0.8" />
<line x1="43.5" y1="300.9" x2="43.5" y2="302.2" stroke="#111" stroke-width="0.8" />
<line x1="45.5" y1="300.9" x2="45.5" y2="303.3" stroke="#111" stroke-width="0.8" />
<line x1="47.5" y1="300.9" x2="47.5" y2="302.2" stroke="#111" stroke-width="0.8" />
<line x1="49.5" y1="300.9" x2="49.5" y2="302.2" stroke="#111" stroke-width="0.8" />
<line x1="51.5" y1="300.9" x2="51.5" y2="302.2" stroke="#111" stroke-width="0.8" />
<line x1="54.5" y1="300.9" x2="54.5" y2="302.2" stroke="#111" stroke-width="0.8" />
<line x1="56.5" y1="300.9" x2="56.5" y2="303.3" stroke="#111" stroke-width="0.8" />
<line x1="58.5" y1="300.9" x2="58.5" y2="302.2" stroke="#111" stroke-width="0.8" />
<line x1="60.5" y1="300.9" x2="60.5" y2="302.2" stroke="#111" stroke-width="0.8" />
<line x1="62.5" y1="300.9" x2="62.5" y2="302.2" stroke="#111" stroke-width="0.8" />
<line x1="64.5" y1="300.9" x2="64.5" y2="302.2" stroke="#111" stroke-width="0.8" />
<line x1="67.5" y1="300.9" x2="67.5" y2="303.3" stroke="#111" stroke-width="0.8" />
<line x1="69.5" y1="300.9" x2="69.5" y2="302.2" stroke="#111" stroke-width="0.8" />
<line x1="71.5" y1="300.9" x2="71.5" y2="302.2" stroke="#111" stroke-width="0.8" />
<line x1="73.5" y1="300.9" x2="73.5" y2="302.2" stroke="#111" stroke-width="0.8" />
<line x1="75.5" y1="300.9" x2="75.5" y2="302.2" stroke="#111" stroke-width="0.8" />
<line x1="78.5" y1="300.9" x2="78.5" y2="303.3" stroke="#111" stroke-width="0.8" />
<line x1="80.5" y1="300.9" x2="80.5" y2="302.2" stroke="#111" stroke-width="0.8" />
<line x1="82.5" y1="300.9" x2="82.5" y2="302.2" stroke="#111" stroke-width="0.8" />
<line x1="84.5" y1="300.9" x2="84.5" y2="302.2" stroke="#111" stroke-width="0.8" />
<line x1="86.5" y1="300.9" x2="86.5" y2="302.2" stroke="#111" stroke-width="0.8" />
<line x1="88.5" y1="300.9" x2="88.5" y2="303.3" stroke="#111" stroke-width="0.8" />
<rect x="65.7" y="250.1" width="4.9" height="4.7" fill="#c41e42" />
<text x="74" y="254.8" font-size="8.2" font-style="italic" textLength="13" lengthAdjust="spacingAndGlyphs" stroke="#000" stroke-width="0.17">Ctrl</text>
<rect x="65.7" y="262.7" width="4.9" height="4.7" fill="#3a5a9e" />
<text x="74" y="267.4" font-size="8.2" font-style="italic" textLength="8.7" lengthAdjust="spacingAndGlyphs" stroke="#000" stroke-width="0.17">db</text>
<text x="24.6" y="273.3" font-size="9.2" text-anchor="middle" textLength="35.4" lengthAdjust="spacingAndGlyphs" transform="rotate(-90 24.6 273.3)" stroke="#000" stroke-width="0.42">Cell number</text>
<text x="37.3" y="316.1" font-size="9.2" textLength="48.5" lengthAdjust="spacingAndGlyphs" stroke="#000" stroke-width="0.42">p-AKT (Ser473)</text>
<path d="M107 300.1L107 300.1L107.25 300.1L107.49 300.1L107.74 300.1L107.98 300.1L108.23 300.1L108.47 300.1L108.72 300.1L108.96 300.1L109.21 300.1L109.45 300.1L109.7 300.1L109.94 300.1L110.19 300.1L110.43 300.1L110.68 300.1L110.92 300.1L111.17 300.1L111.42 300.1L111.66 300.1L111.91 300.1L112.15 300.1L112.4 300.1L112.64 300.1L112.89 300.1L113.13 300.1L113.38 300.1L113.62 300.1L113.87 300.1L114.11 300.1L114.36 300.1L114.6 300.1L114.85 300.1L115.09 300.1L115.34 300.1L115.59 300.1L115.83 300.1L116.08 300.09L116.32 300.09L116.57 300.09L116.81 300.08L117.06 300.08L117.3 300.08L117.55 300.07L117.79 300.06L118.04 300.04L118.28 300.03L118.53 300.01L118.77 299.98L119.02 299.94L119.26 299.9L119.51 299.85L119.76 299.77L120 299.7L120.25 299.59L120.49 299.47L120.74 299.27L120.98 299.08L121.23 298.79L121.47 298.54L121.72 298.17L121.96 297.74L122.21 297.31L122.45 296.67L122.7 295.84L122.94 295.14L123.19 294.09L123.43 292.97L123.68 291.54L123.93 290.19L124.17 288.42L124.42 286.36L124.66 284.19L124.91 282.1L125.15 278.72L125.4 276.79L125.64 273.67L125.89 270.45L126.13 265.51L126.38 262.84L126.62 259.76L126.87 256.47L127.11 251.8L127.36 250.46L127.6 248.74L127.85 247.4L128.1 251.61L128.34 254.07L128.59 257.55L128.83 261.85L129.08 265.53L129.32 268.56L129.57 273.37L129.81 277.15L130.06 280.49L130.3 282.71L130.55 285.34L130.79 287.46L131.04 289.64L131.28 291.38L131.53 292.9L131.77 294.15L132.02 295.16L132.27 296.12L132.51 296.84L132.76 297.38L133 297.98L133.25 298.48L133.49 298.73L133.74 299.05L133.98 299.29L134.23 299.45L134.47 299.6L134.72 299.72L134.96 299.81L135.21 299.88L135.45 299.92L135.7 299.96L135.94 300L136.19 300.02L136.43 300.04L136.68 300.06L136.93 300.07L137.17 300.08L137.42 300.08L137.66 300.09L137.91 300.09L138.15 300.09L138.4 300.1L138.64 300.1L138.89 300.1L139.13 300.1L139.38 300.1L139.62 300.1L139.87 300.1L140.11 300.1L140.36 300.1L140.6 300.1L140.85 300.1L141.1 300.1L141.34 300.1L141.59 300.1L141.83 300.1L142.08 300.1L142.32 300.1L142.57 300.1L142.81 300.1L143.06 300.1L143.3 300.1L143.55 300.1L143.79 300.1L144.04 300.1L144.28 300.1L144.53 300.1L144.77 300.1L145.02 300.1L145.27 300.1L145.51 300.1L145.76 300.1L146 300.1L146.25 300.1L146.49 300.1L146.74 300.1L146.98 300.1L147.23 300.1L147.47 300.1L147.72 300.1L147.96 300.1L148.21 300.1L148.45 300.1L148.7 300.1L148.94 300.1L149.19 300.1L149.44 300.1L149.68 300.1L149.93 300.1L150.17 300.1L150.42 300.1L150.66 300.1L150.91 300.1L151.15 300.1L151.4 300.1L151.64 300.1L151.89 300.1L152.13 300.1L152.38 300.1L152.62 300.1L152.87 300.1L153.11 300.1L153.36 300.1L153.61 300.1L153.85 300.1L154.1 300.1L154.34 300.1L154.59 300.1L154.83 300.1L155.08 300.1L155.32 300.1L155.57 300.1L155.81 300.1L156.06 300.1L156.3 300.1L156.55 300.1L156.79 300.1L157.04 300.1L157.28 300.1L157.53 300.1L157.78 300.1L158.02 300.1L158.27 300.1L158.51 300.1L158.76 300.1L159 300.1L159.25 300.1L159.49 300.1L159.74 300.1L159.98 300.1L160.23 300.1L160.47 300.1L160.72 300.1L160.96 300.1L161.21 300.1L161.45 300.1L161.7 300.1L161.7 300.1Z" fill="#c41e42" stroke="#c41e42" stroke-width="0.5"/>
<path d="M107 300.1L107 300.1L107.25 300.1L107.49 300.1L107.74 300.1L107.98 300.1L108.23 300.1L108.47 300.1L108.72 300.1L108.96 300.1L109.21 300.1L109.45 300.1L109.7 300.1L109.94 300.1L110.19 300.1L110.43 300.1L110.68 300.1L110.92 300.1L111.17 300.1L111.42 300.1L111.66 300.1L111.91 300.1L112.15 300.1L112.4 300.1L112.64 300.1L112.89 300.1L113.13 300.1L113.38 300.1L113.62 300.1L113.87 300.1L114.11 300.1L114.36 300.1L114.6 300.1L114.85 300.1L115.09 300.1L115.34 300.1L115.59 300.1L115.83 300.1L116.08 300.1L116.32 300.1L116.57 300.1L116.81 300.1L117.06 300.1L117.3 300.1L117.55 300.1L117.79 300.09L118.04 300.09L118.28 300.09L118.53 300.08L118.77 300.08L119.02 300.07L119.26 300.06L119.51 300.05L119.76 300.03L120 300.01L120.25 299.98L120.49 299.94L120.74 299.89L120.98 299.81L121.23 299.74L121.47 299.63L121.72 299.49L121.96 299.36L122.21 299.1L122.45 298.86L122.7 298.53L122.94 298.11L123.19 297.67L123.43 296.96L123.68 296.34L123.93 295.5L124.17 294.47L124.42 293.12L124.66 291.57L124.91 290.13L125.15 288.43L125.4 285.54L125.64 283.69L125.89 280.05L126.13 277.43L126.38 274.39L126.62 270.76L126.87 266.24L127.11 261.93L127.36 258.8L127.6 253.96L127.85 249.33L128.1 248.8L128.34 248.61L128.59 250.07L128.83 252.83L129.08 255.03L129.32 258.32L129.57 262.14L129.81 264.16L130.06 269.6L130.3 271.95L130.55 273.26L130.79 276.75L131.04 279.73L131.28 282.28L131.53 284.16L131.77 286.62L132.02 288.58L132.27 290.48L132.51 291.69L132.76 293.04L133 294.13L133.25 295.07L133.49 295.82L133.74 296.55L133.98 297.08L134.23 297.7L134.47 298.08L134.72 298.37L134.96 298.73L135.21 298.96L135.45 299.17L135.7 299.35L135.94 299.5L136.19 299.64L136.43 299.72L136.68 299.8L136.93 299.86L137.17 299.91L137.42 299.95L137.66 299.98L137.91 300.01L138.15 300.03L138.4 300.04L138.64 300.06L138.89 300.07L139.13 300.07L139.38 300.08L139.62 300.08L139.87 300.09L140.11 300.09L140.36 300.09L140.6 300.09L140.85 300.1L141.1 300.1L141.34 300.1L141.59 300.1L141.83 300.1L142.08 300.1L142.32 300.1L142.57 300.1L142.81 300.1L143.06 300.1L143.3 300.1L143.55 300.1L143.79 300.1L144.04 300.1L144.28 300.1L144.53 300.1L144.77 300.1L145.02 300.1L145.27 300.1L145.51 300.1L145.76 300.1L146 300.1L146.25 300.1L146.49 300.1L146.74 300.1L146.98 300.1L147.23 300.1L147.47 300.1L147.72 300.1L147.96 300.1L148.21 300.1L148.45 300.1L148.7 300.1L148.94 300.1L149.19 300.1L149.44 300.1L149.68 300.1L149.93 300.1L150.17 300.1L150.42 300.1L150.66 300.1L150.91 300.1L151.15 300.1L151.4 300.1L151.64 300.1L151.89 300.1L152.13 300.1L152.38 300.1L152.62 300.1L152.87 300.1L153.11 300.1L153.36 300.1L153.61 300.1L153.85 300.1L154.1 300.1L154.34 300.1L154.59 300.1L154.83 300.1L155.08 300.1L155.32 300.1L155.57 300.1L155.81 300.1L156.06 300.1L156.3 300.1L156.55 300.1L156.79 300.1L157.04 300.1L157.28 300.1L157.53 300.1L157.78 300.1L158.02 300.1L158.27 300.1L158.51 300.1L158.76 300.1L159 300.1L159.25 300.1L159.49 300.1L159.74 300.1L159.98 300.1L160.23 300.1L160.47 300.1L160.72 300.1L160.96 300.1L161.21 300.1L161.45 300.1L161.7 300.1L161.7 300.1Z" fill="#3a5a9e" stroke="#3a5a9e" stroke-width="0.5"/>
<path d="M107 300.1L107 300.1L107.25 300.1L107.49 300.1L107.74 300.1L107.98 300.1L108.23 300.1L108.47 300.1L108.72 300.1L108.96 300.1L109.21 300.1L109.45 300.1L109.7 300.1L109.94 300.1L110.19 300.1L110.43 300.1L110.68 300.1L110.92 300.1L111.17 300.1L111.42 300.1L111.66 300.1L111.91 300.1L112.15 300.1L112.4 300.1L112.64 300.1L112.89 300.1L113.13 300.1L113.38 300.1L113.62 300.1L113.87 300.1L114.11 300.1L114.36 300.1L114.6 300.1L114.85 300.1L115.09 300.1L115.34 300.1L115.59 300.1L115.83 300.1L116.08 300.1L116.32 300.1L116.57 300.1L116.81 300.1L117.06 300.1L117.3 300.1L117.55 300.1L117.79 300.09L118.04 300.09L118.28 300.09L118.53 300.08L118.77 300.08L119.02 300.07L119.26 300.06L119.51 300.05L119.76 300.03L120 300.01L120.25 299.98L120.49 299.94L120.74 299.89L120.98 299.81L121.23 299.74L121.47 299.63L121.72 299.49L121.96 299.36L122.21 299.1L122.45 298.86L122.7 298.53L122.94 298.11L123.19 297.67L123.43 296.96L123.68 296.34L123.93 295.5L124.17 294.47L124.42 293.12L124.66 291.57L124.91 290.13L125.15 288.43L125.4 285.54L125.64 283.69L125.89 280.05L126.13 277.43L126.38 274.39L126.62 270.76L126.87 266.24L127.11 261.93L127.36 258.8L127.6 253.96L127.85 249.33L128.1 251.61L128.34 254.07L128.59 257.55L128.83 261.85L129.08 265.53L129.32 268.56L129.57 273.37L129.81 277.15L130.06 280.49L130.3 282.71L130.55 285.34L130.79 287.46L131.04 289.64L131.28 291.38L131.53 292.9L131.77 294.15L132.02 295.16L132.27 296.12L132.51 296.84L132.76 297.38L133 297.98L133.25 298.48L133.49 298.73L133.74 299.05L133.98 299.29L134.23 299.45L134.47 299.6L134.72 299.72L134.96 299.81L135.21 299.88L135.45 299.92L135.7 299.96L135.94 300L136.19 300.02L136.43 300.04L136.68 300.06L136.93 300.07L137.17 300.08L137.42 300.08L137.66 300.09L137.91 300.09L138.15 300.09L138.4 300.1L138.64 300.1L138.89 300.1L139.13 300.1L139.38 300.1L139.62 300.1L139.87 300.1L140.11 300.1L140.36 300.1L140.6 300.1L140.85 300.1L141.1 300.1L141.34 300.1L141.59 300.1L141.83 300.1L142.08 300.1L142.32 300.1L142.57 300.1L142.81 300.1L143.06 300.1L143.3 300.1L143.55 300.1L143.79 300.1L144.04 300.1L144.28 300.1L144.53 300.1L144.77 300.1L145.02 300.1L145.27 300.1L145.51 300.1L145.76 300.1L146 300.1L146.25 300.1L146.49 300.1L146.74 300.1L146.98 300.1L147.23 300.1L147.47 300.1L147.72 300.1L147.96 300.1L148.21 300.1L148.45 300.1L148.7 300.1L148.94 300.1L149.19 300.1L149.44 300.1L149.68 300.1L149.93 300.1L150.17 300.1L150.42 300.1L150.66 300.1L150.91 300.1L151.15 300.1L151.4 300.1L151.64 300.1L151.89 300.1L152.13 300.1L152.38 300.1L152.62 300.1L152.87 300.1L153.11 300.1L153.36 300.1L153.61 300.1L153.85 300.1L154.1 300.1L154.34 300.1L154.59 300.1L154.83 300.1L155.08 300.1L155.32 300.1L155.57 300.1L155.81 300.1L156.06 300.1L156.3 300.1L156.55 300.1L156.79 300.1L157.04 300.1L157.28 300.1L157.53 300.1L157.78 300.1L158.02 300.1L158.27 300.1L158.51 300.1L158.76 300.1L159 300.1L159.25 300.1L159.49 300.1L159.74 300.1L159.98 300.1L160.23 300.1L160.47 300.1L160.72 300.1L160.96 300.1L161.21 300.1L161.45 300.1L161.7 300.1L161.7 300.1Z" fill="#5b3a7a"/>
<line x1="106.4" y1="300.5" x2="162.3" y2="300.5" stroke="#3a5a9e" stroke-width="0.92" />
<rect x="106.4" y="244.8" width="55.9" height="56.1" fill="none" stroke="#111" stroke-width="1"/>
<line x1="106.4" y1="244.8" x2="106.4" y2="301.4" stroke="#111" stroke-width="1.61" />
<line x1="105.9" y1="300.9" x2="162.3" y2="300.9" stroke="#111" stroke-width="1.61" />
<line x1="104" y1="299.5" x2="106.4" y2="299.5" stroke="#111" stroke-width="0.8" />
<line x1="105.1" y1="297.5" x2="106.4" y2="297.5" stroke="#111" stroke-width="0.8" />
<line x1="105.1" y1="294.5" x2="106.4" y2="294.5" stroke="#111" stroke-width="0.8" />
<line x1="105.1" y1="292.5" x2="106.4" y2="292.5" stroke="#111" stroke-width="0.8" />
<line x1="105.1" y1="289.5" x2="106.4" y2="289.5" stroke="#111" stroke-width="0.8" />
<line x1="104" y1="287.5" x2="106.4" y2="287.5" stroke="#111" stroke-width="0.8" />
<line x1="105.1" y1="284.5" x2="106.4" y2="284.5" stroke="#111" stroke-width="0.8" />
<line x1="105.1" y1="281.5" x2="106.4" y2="281.5" stroke="#111" stroke-width="0.8" />
<line x1="105.1" y1="279.5" x2="106.4" y2="279.5" stroke="#111" stroke-width="0.8" />
<line x1="105.1" y1="276.5" x2="106.4" y2="276.5" stroke="#111" stroke-width="0.8" />
<line x1="104" y1="274.5" x2="106.4" y2="274.5" stroke="#111" stroke-width="0.8" />
<line x1="105.1" y1="271.5" x2="106.4" y2="271.5" stroke="#111" stroke-width="0.8" />
<line x1="105.1" y1="268.5" x2="106.4" y2="268.5" stroke="#111" stroke-width="0.8" />
<line x1="105.1" y1="266.5" x2="106.4" y2="266.5" stroke="#111" stroke-width="0.8" />
<line x1="105.1" y1="263.5" x2="106.4" y2="263.5" stroke="#111" stroke-width="0.8" />
<line x1="104" y1="261.5" x2="106.4" y2="261.5" stroke="#111" stroke-width="0.8" />
<line x1="105.1" y1="258.5" x2="106.4" y2="258.5" stroke="#111" stroke-width="0.8" />
<line x1="105.1" y1="256.5" x2="106.4" y2="256.5" stroke="#111" stroke-width="0.8" />
<line x1="105.1" y1="253.5" x2="106.4" y2="253.5" stroke="#111" stroke-width="0.8" />
<line x1="105.1" y1="250.5" x2="106.4" y2="250.5" stroke="#111" stroke-width="0.8" />
<line x1="104" y1="248.5" x2="106.4" y2="248.5" stroke="#111" stroke-width="0.8" />
<line x1="105.1" y1="245.5" x2="106.4" y2="245.5" stroke="#111" stroke-width="0.8" />
<line x1="107.5" y1="300.9" x2="107.5" y2="303.3" stroke="#111" stroke-width="0.8" />
<line x1="109.5" y1="300.9" x2="109.5" y2="302.2" stroke="#111" stroke-width="0.8" />
<line x1="111.5" y1="300.9" x2="111.5" y2="302.2" stroke="#111" stroke-width="0.8" />
<line x1="113.5" y1="300.9" x2="113.5" y2="302.2" stroke="#111" stroke-width="0.8" />
<line x1="116.5" y1="300.9" x2="116.5" y2="302.2" stroke="#111" stroke-width="0.8" />
<line x1="118.5" y1="300.9" x2="118.5" y2="303.3" stroke="#111" stroke-width="0.8" />
<line x1="120.5" y1="300.9" x2="120.5" y2="302.2" stroke="#111" stroke-width="0.8" />
<line x1="122.5" y1="300.9" x2="122.5" y2="302.2" stroke="#111" stroke-width="0.8" />
<line x1="124.5" y1="300.9" x2="124.5" y2="302.2" stroke="#111" stroke-width="0.8" />
<line x1="126.5" y1="300.9" x2="126.5" y2="302.2" stroke="#111" stroke-width="0.8" />
<line x1="128.5" y1="300.9" x2="128.5" y2="303.3" stroke="#111" stroke-width="0.8" />
<line x1="131.5" y1="300.9" x2="131.5" y2="302.2" stroke="#111" stroke-width="0.8" />
<line x1="133.5" y1="300.9" x2="133.5" y2="302.2" stroke="#111" stroke-width="0.8" />
<line x1="135.5" y1="300.9" x2="135.5" y2="302.2" stroke="#111" stroke-width="0.8" />
<line x1="137.5" y1="300.9" x2="137.5" y2="302.2" stroke="#111" stroke-width="0.8" />
<line x1="139.5" y1="300.9" x2="139.5" y2="303.3" stroke="#111" stroke-width="0.8" />
<line x1="141.5" y1="300.9" x2="141.5" y2="302.2" stroke="#111" stroke-width="0.8" />
<line x1="144.5" y1="300.9" x2="144.5" y2="302.2" stroke="#111" stroke-width="0.8" />
<line x1="146.5" y1="300.9" x2="146.5" y2="302.2" stroke="#111" stroke-width="0.8" />
<line x1="148.5" y1="300.9" x2="148.5" y2="302.2" stroke="#111" stroke-width="0.8" />
<line x1="150.5" y1="300.9" x2="150.5" y2="303.3" stroke="#111" stroke-width="0.8" />
<line x1="152.5" y1="300.9" x2="152.5" y2="302.2" stroke="#111" stroke-width="0.8" />
<line x1="154.5" y1="300.9" x2="154.5" y2="302.2" stroke="#111" stroke-width="0.8" />
<line x1="156.5" y1="300.9" x2="156.5" y2="302.2" stroke="#111" stroke-width="0.8" />
<line x1="159.5" y1="300.9" x2="159.5" y2="302.2" stroke="#111" stroke-width="0.8" />
<line x1="161.5" y1="300.9" x2="161.5" y2="303.3" stroke="#111" stroke-width="0.8" />
<text x="107.3" y="316.1" font-size="9.2" textLength="53.6" lengthAdjust="spacingAndGlyphs" stroke="#000" stroke-width="0.42">p-STAT3 (Tyr705)</text>
<rect x="228.1" y="261.5" width="8" height="18.1" fill="#a8002c" />
<line x1="232.5" y1="261.5" x2="232.5" y2="260.96" stroke="#111" stroke-width="0.92" />
<line x1="230.5" y1="260.5" x2="233.7" y2="260.5" stroke="#111" stroke-width="0.92" />
<rect x="236.3" y="230.28" width="7.8" height="49.32" fill="#2c4c86" />
<line x1="240.5" y1="230.28" x2="240.5" y2="208.47" stroke="#111" stroke-width="0.92" />
<line x1="238.6" y1="208.5" x2="241.8" y2="208.5" stroke="#111" stroke-width="0.92" />
<rect x="252.1" y="261.5" width="8" height="18.1" fill="#a8002c" />
<line x1="256.5" y1="261.5" x2="256.5" y2="260.96" stroke="#111" stroke-width="0.92" />
<line x1="254.5" y1="260.5" x2="257.7" y2="260.5" stroke="#111" stroke-width="0.92" />
<rect x="260.3" y="253.36" width="7.8" height="26.25" fill="#2c4c86" />
<line x1="264.5" y1="253.36" x2="264.5" y2="239.42" stroke="#111" stroke-width="0.92" />
<line x1="262.6" y1="239.5" x2="265.8" y2="239.5" stroke="#111" stroke-width="0.92" />
<rect x="276" y="261.5" width="8" height="18.1" fill="#a8002c" />
<line x1="280.5" y1="261.5" x2="280.5" y2="260.96" stroke="#111" stroke-width="0.92" />
<line x1="278.4" y1="260.5" x2="281.6" y2="260.5" stroke="#111" stroke-width="0.92" />
<rect x="284.2" y="261.95" width="7.8" height="17.65" fill="#2c4c86" />
<line x1="288.5" y1="261.95" x2="288.5" y2="249.37" stroke="#111" stroke-width="0.92" />
<line x1="286.5" y1="249.5" x2="289.7" y2="249.5" stroke="#111" stroke-width="0.92" />
<rect x="300" y="261.5" width="8" height="18.1" fill="#a8002c" />
<line x1="304.5" y1="261.5" x2="304.5" y2="260.96" stroke="#111" stroke-width="0.92" />
<line x1="302.4" y1="260.5" x2="305.6" y2="260.5" stroke="#111" stroke-width="0.92" />
<rect x="308.2" y="263.31" width="7.8" height="16.29" fill="#2c4c86" />
<line x1="312.5" y1="263.31" x2="312.5" y2="253.17" stroke="#111" stroke-width="0.92" />
<line x1="310.5" y1="253.5" x2="313.7" y2="253.5" stroke="#111" stroke-width="0.92" />
<line x1="223.5" y1="187.5" x2="223.5" y2="280.1" stroke="#111" stroke-width="1.15" />
<line x1="220.6" y1="279.5" x2="223.2" y2="279.5" stroke="#111" stroke-width="1.03" />
<text x="217.4" y="282.6" font-size="8.6" text-anchor="end" textLength="9.8" lengthAdjust="spacingAndGlyphs" stroke="#000" stroke-width="0.17">80</text>
<line x1="220.6" y1="261.5" x2="223.2" y2="261.5" stroke="#111" stroke-width="1.03" />
<text x="217.4" y="264.5" font-size="8.6" text-anchor="end" textLength="14.6" lengthAdjust="spacingAndGlyphs" stroke="#000" stroke-width="0.17">100</text>
<line x1="220.6" y1="243.5" x2="223.2" y2="243.5" stroke="#111" stroke-width="1.03" />
<text x="217.4" y="246.4" font-size="8.6" text-anchor="end" textLength="14.6" lengthAdjust="spacingAndGlyphs" stroke="#000" stroke-width="0.17">120</text>
<line x1="220.6" y1="225.5" x2="223.2" y2="225.5" stroke="#111" stroke-width="1.03" />
<text x="217.4" y="228.3" font-size="8.6" text-anchor="end" textLength="14.6" lengthAdjust="spacingAndGlyphs" stroke="#000" stroke-width="0.17">140</text>
<line x1="220.6" y1="207.5" x2="223.2" y2="207.5" stroke="#111" stroke-width="1.03" />
<text x="217.4" y="210.2" font-size="8.6" text-anchor="end" textLength="14.6" lengthAdjust="spacingAndGlyphs" stroke="#000" stroke-width="0.17">160</text>
<line x1="220.6" y1="189.5" x2="223.2" y2="189.5" stroke="#111" stroke-width="1.03" />
<text x="217.4" y="192.1" font-size="8.6" text-anchor="end" textLength="14.6" lengthAdjust="spacingAndGlyphs" stroke="#000" stroke-width="0.17">180</text>
<line x1="222.7" y1="279.5" x2="322.9" y2="279.5" stroke="#111" stroke-width="1.15" />
<line x1="223.5" y1="279.6" x2="223.5" y2="282.4" stroke="#111" stroke-width="1.03" />
<line x1="247.5" y1="279.6" x2="247.5" y2="282.4" stroke="#111" stroke-width="1.03" />
<line x1="271.5" y1="279.6" x2="271.5" y2="282.4" stroke="#111" stroke-width="1.03" />
<line x1="295.5" y1="279.6" x2="295.5" y2="282.4" stroke="#111" stroke-width="1.03" />
<line x1="319.5" y1="279.6" x2="319.5" y2="282.4" stroke="#111" stroke-width="1.03" />
<text x="240.2" y="291.6" font-size="8.8" text-anchor="end" textLength="19.5" lengthAdjust="spacingAndGlyphs" transform="rotate(-45 240.2 291.6)" stroke="#000" stroke-width="0.17">pAKT</text>
<text x="264.4" y="291.6" font-size="8.8" text-anchor="end" textLength="27.5" lengthAdjust="spacingAndGlyphs" transform="rotate(-45 264.4 291.6)" stroke="#000" stroke-width="0.17">pSTAT3</text>
<text x="288.5" y="291.6" font-size="8.8" text-anchor="end" textLength="27.5" lengthAdjust="spacingAndGlyphs" transform="rotate(-45 288.5 291.6)" stroke="#000" stroke-width="0.17">pSTAT5</text>
<text x="313.4" y="291.6" font-size="8.8" text-anchor="end" textLength="17.5" lengthAdjust="spacingAndGlyphs" transform="rotate(-45 313.4 291.6)" stroke="#000" stroke-width="0.17">pErk</text>
<polyline points="231.5,240.5 231.5,202.5 240.5,202.5 240.5,206.5" fill="none" stroke="#111" stroke-width="0.92" />
<circle cx="236.2" cy="197.7" r="0.9" fill="#111"/>
<rect x="301.3" y="187.8" width="5.2" height="4.9" fill="#a8002c" />
<text x="310" y="192.5" font-size="8.2" font-style="italic" textLength="12.7" lengthAdjust="spacingAndGlyphs" stroke="#000" stroke-width="0.17">Ctrl</text>
<rect x="301.3" y="200.2" width="5.2" height="4.7" fill="#2c4c86" />
<text x="310" y="204.5" font-size="8.2" font-style="italic" textLength="8.6" lengthAdjust="spacingAndGlyphs" stroke="#000" stroke-width="0.17">db</text>
<text x="196" y="232.8" font-size="9.9" text-anchor="middle" font-weight="bold" textLength="48" lengthAdjust="spacingAndGlyphs" transform="rotate(-90 196 232.8)">MFI (% of Ctrl)</text>
<text x="339.4" y="168.1" font-size="12.4" font-weight="bold" stroke="#000" stroke-width="0.45">D</text>
<text x="378.9" y="198.3" font-size="8.2" text-anchor="middle" textLength="34.4" lengthAdjust="spacingAndGlyphs" stroke="#000" stroke-width="0.17">MK-2206</text>
<text x="378.9" y="208.3" font-size="8.2" text-anchor="middle" textLength="45.8" lengthAdjust="spacingAndGlyphs" stroke="#000" stroke-width="0.17">AKT inhibitor</text>
<text x="378.9" y="218.7" font-size="8.2" text-anchor="middle" textLength="32.9" lengthAdjust="spacingAndGlyphs" stroke="#000" stroke-width="0.17">(2 weeks</text>
<text x="378.9" y="228.5" font-size="8.2" text-anchor="middle" textLength="37.5" lengthAdjust="spacingAndGlyphs" stroke="#000" stroke-width="0.17">Treatment)</text>
<path d="M347.6 249.5 C349 246.8 352 244.8 355.5 243.8 C358 243.1 360.5 242.6 362.2 242.1 C362.3 239.8 364.2 238.4 366.3 238.5 C368.6 238.6 370.5 239.9 370.9 241.6 C374 239.4 377.8 237.8 382.4 237.6 C387.5 237.5 392 239.6 394.7 242.8 C397.2 245.8 398.2 250 398 254.6 C397.8 257 396.6 258.6 394.6 259.8 C393 260.8 391.8 262 391.3 263.6 L391.0 265.6 C390.8 266.6 390 266.9 388.8 266.9 L383.2 266.8 C382 266.6 382.1 265.6 383.2 265.2 L384.2 264.2 C384.6 263.2 384.2 262.2 383 261.8 C380 261.6 376 261.9 372.5 262.3 C370.6 262.6 369.4 263.2 368.9 264.2 L368.2 265.8 C367.8 266.6 367 266.8 365.8 266.8 L361.6 266.6 C360.6 266.4 360.6 265.6 361.6 265.2 L364.2 263.6 C364.0 262.6 363.4 261.6 362.6 261.0 L361.6 262.6 C361.2 263.4 360.4 263.7 359.3 263.7 L356.6 263.4 C355.6 263.2 355.8 262.4 356.8 262.0 L358.6 260.8 C358.8 259.6 358.6 258.2 358.0 257.0 C356.6 255.8 355 255 353.4 254.2 C351.4 253.2 349.6 252.0 348.4 251.0 C347.8 250.5 347.5 250 347.6 249.5 Z" fill="#050505"/>
<path d="M396.2 257.4 C403 256.9 408.2 259.8 409.2 264.3 C410.1 268.5 407 272 402.6 273.2 C396 274.9 388 273.5 382.4 273.4 C376 273.3 370.5 273.8 367.5 275.2 C365.4 276.3 364.9 278 365.7 279.3" fill="none" stroke="#050505" stroke-width="1.35" stroke-linecap="round"/>
<text x="379.5" y="293.1" font-size="8.2" text-anchor="middle" font-style="italic" fill="#222" textLength="45.5" lengthAdjust="spacingAndGlyphs" stroke="#222" stroke-width="0.17">14 week-old</text>
<text x="379.5" y="303.5" font-size="8.2" text-anchor="middle" font-style="italic" fill="#222" textLength="35.1" lengthAdjust="spacingAndGlyphs" stroke="#222" stroke-width="0.17">Ctrl or db</text>
<text x="379.5" y="313.6" font-size="8.2" text-anchor="middle" font-style="italic" fill="#222" textLength="17.3" lengthAdjust="spacingAndGlyphs" stroke="#222" stroke-width="0.17">mice</text>
<text x="453.1" y="164.4" font-size="8.2" textLength="40.4" lengthAdjust="spacingAndGlyphs" stroke="#000" stroke-width="0.17">HSC-SLAM</text>
<line x1="468.5" y1="170.7" x2="468.5" y2="185.3" stroke="#707070" stroke-width="1.49" />
<line x1="468.5" y1="191" x2="468.5" y2="205.9" stroke="#707070" stroke-width="1.49" />
<text x="453.2" y="180" font-size="8.2" font-style="italic" textLength="12" lengthAdjust="spacingAndGlyphs" stroke="#000" stroke-width="0.17">Ctrl</text>
<text x="456.6" y="200.8" font-size="8.2" font-style="italic" textLength="9.3" lengthAdjust="spacingAndGlyphs" stroke="#000" stroke-width="0.17">db</text>
<rect x="472.6" y="172" width="4.1" height="4.1" fill="#a8002c" />
<text x="480.2" y="176.6" font-size="8.2" textLength="13.6" lengthAdjust="spacingAndGlyphs" stroke="#000" stroke-width="0.17">veh.</text>
<rect x="472.6" y="180.8" width="4.1" height="4.1" fill="url(#hpink)" />
<text x="480.2" y="185.2" font-size="8.2" textLength="32.6" lengthAdjust="spacingAndGlyphs" stroke="#000" stroke-width="0.17">MK-2206</text>
<rect x="472.6" y="191.3" width="4.1" height="4.1" fill="#2c4c86" />
<text x="480.2" y="195.8" font-size="8.2" textLength="13.6" lengthAdjust="spacingAndGlyphs" stroke="#000" stroke-width="0.17">veh.</text>
<rect x="472.6" y="200.4" width="4.1" height="4.1" fill="url(#hblue)" />
<text x="480.2" y="204.9" font-size="8.2" textLength="32.6" lengthAdjust="spacingAndGlyphs" stroke="#000" stroke-width="0.17">MK-2206</text>
<rect x="457.7" y="274.79" width="8" height="28.01" fill="#a8002c" />
<line x1="461.5" y1="274.79" x2="461.5" y2="266.12" stroke="#111" stroke-width="0.92" />
<line x1="460.1" y1="266.5" x2="463.3" y2="266.5" stroke="#111" stroke-width="0.92" />
<rect x="471.6" y="279.48" width="8" height="23.32" fill="url(#hpink)" />
<line x1="475.5" y1="279.48" x2="475.5" y2="266.12" stroke="#111" stroke-width="0.92" />
<line x1="474" y1="266.5" x2="477.2" y2="266.5" stroke="#111" stroke-width="0.92" />
<rect x="485.7" y="240.96" width="8" height="61.84" fill="#2c4c86" />
<line x1="489.5" y1="240.96" x2="489.5" y2="231.72" stroke="#111" stroke-width="0.92" />
<line x1="488.1" y1="231.5" x2="491.3" y2="231.5" stroke="#111" stroke-width="0.92" />
<rect x="499.9" y="276.93" width="8" height="25.87" fill="url(#hblue)" />
<line x1="503.5" y1="276.93" x2="503.5" y2="269.96" stroke="#111" stroke-width="0.92" />
<line x1="502.3" y1="269.5" x2="505.5" y2="269.5" stroke="#111" stroke-width="0.92" />
<line x1="452.5" y1="215.5" x2="452.5" y2="303.3" stroke="#111" stroke-width="1.15" />
<line x1="450.1" y1="302.5" x2="452.9" y2="302.5" stroke="#111" stroke-width="1.03" />
<text x="445.8" y="305.8" font-size="8.6" text-anchor="end" textLength="9.4" lengthAdjust="spacingAndGlyphs" stroke="#000" stroke-width="0.17">80</text>
<line x1="450.1" y1="274.5" x2="452.9" y2="274.5" stroke="#111" stroke-width="1.03" />
<text x="445.8" y="277.37" font-size="8.6" text-anchor="end" textLength="13.8" lengthAdjust="spacingAndGlyphs" stroke="#000" stroke-width="0.17">100</text>
<line x1="450.1" y1="245.5" x2="452.9" y2="245.5" stroke="#111" stroke-width="1.03" />
<text x="445.8" y="248.93" font-size="8.6" text-anchor="end" textLength="13.8" lengthAdjust="spacingAndGlyphs" stroke="#000" stroke-width="0.17">120</text>
<line x1="450.1" y1="217.5" x2="452.9" y2="217.5" stroke="#111" stroke-width="1.03" />
<text x="445.8" y="220.5" font-size="8.6" text-anchor="end" textLength="13.8" lengthAdjust="spacingAndGlyphs" stroke="#000" stroke-width="0.17">140</text>
<line x1="452.4" y1="302.5" x2="510" y2="302.5" stroke="#111" stroke-width="1.15" />
<line x1="509.5" y1="302.8" x2="509.5" y2="305.6" stroke="#111" stroke-width="1.03" />
<line x1="452.5" y1="302.8" x2="452.5" y2="305.6" stroke="#111" stroke-width="1.03" />
<polyline points="462.5,260.5 462.5,217.5 489.5,217.5 489.5,221.5" fill="none" stroke="#111" stroke-width="0.92" />
<circle cx="475.4" cy="212.9" r="0.9" fill="#111"/>
<polyline points="475.5,260.5 475.5,224.5 503.5,224.5 503.5,268.5" fill="none" stroke="#111" stroke-width="0.92" />
<line x1="489.5" y1="224.9" x2="489.5" y2="229" stroke="#111" stroke-width="0.92" />
<circle cx="480.7" cy="220.8" r="0.9" fill="#111"/><circle cx="483.3" cy="220.8" r="0.9" fill="#111"/>
<circle cx="495.2" cy="220.8" r="0.9" fill="#111"/><circle cx="497.8" cy="220.8" r="0.9" fill="#111"/>
<text x="425" y="259.2" font-size="9.9" text-anchor="middle" font-weight="bold" textLength="46.8" lengthAdjust="spacingAndGlyphs" transform="rotate(-90 425 259.2)">MFI (% of Ctrl)</text>
<text x="458.1" y="317.5" font-size="9.2" textLength="48.1" lengthAdjust="spacingAndGlyphs" stroke="#000" stroke-width="0.42">p-AKT (Ser473)</text>
<text x="8" y="347.8" font-size="12.4" font-weight="bold" stroke="#000" stroke-width="0.45">E</text>
<rect x="53.8" y="448.06" width="8.6" height="4.94" fill="#a8002c" />
<circle cx="55.85" cy="444.81" r="1.2" fill="#111"/><circle cx="58.85" cy="445.08" r="1.2" fill="#111"/><circle cx="61.1" cy="445.35" r="1.2" fill="#111"/><circle cx="57.35" cy="445.62" r="1.2" fill="#111"/><circle cx="60.35" cy="445.89" r="1.2" fill="#111"/><circle cx="55.1" cy="446.16" r="1.2" fill="#111"/><circle cx="59.6" cy="446.43" r="1.2" fill="#111"/><circle cx="56.6" cy="446.7" r="1.2" fill="#111"/><circle cx="55.85" cy="446.97" r="1.2" fill="#111"/><circle cx="58.85" cy="447.24" r="1.2" fill="#111"/><circle cx="61.1" cy="447.51" r="1.2" fill="#111"/><circle cx="57.35" cy="447.78" r="1.2" fill="#111"/><circle cx="60.35" cy="448.05" r="1.2" fill="#111"/><circle cx="55.1" cy="448.32" r="1.2" fill="#111"/><circle cx="59.6" cy="448.59" r="1.2" fill="#111"/><circle cx="56.6" cy="448.86" r="1.2" fill="#111"/><circle cx="55.85" cy="449.13" r="1.2" fill="#111"/><circle cx="58.85" cy="449.4" r="1.2" fill="#111"/><circle cx="61.1" cy="449.67" r="1.2" fill="#111"/><circle cx="57.35" cy="449.94" r="1.2" fill="#111"/><circle cx="60.35" cy="450.21" r="1.2" fill="#111"/><circle cx="55.1" cy="450.48" r="1.2" fill="#111"/><circle cx="59.6" cy="450.75" r="1.2" fill="#111"/><circle cx="56.6" cy="451.02" r="1.2" fill="#111"/>
<line x1="58.5" y1="446.36" x2="58.5" y2="449.75" stroke="#111" stroke-width="1.15" />
<line x1="56.3" y1="446.5" x2="59.9" y2="446.5" stroke="#111" stroke-width="1.15" />
<line x1="56.3" y1="449.5" x2="59.9" y2="449.5" stroke="#111" stroke-width="1.15" />
<rect x="66.3" y="448.76" width="8.6" height="4.24" fill="url(#hpink)" />
<circle cx="68.35" cy="446.22" r="1.2" fill="#111"/><circle cx="71.35" cy="446.49" r="1.2" fill="#111"/><circle cx="73.6" cy="446.76" r="1.2" fill="#111"/><circle cx="69.85" cy="447.03" r="1.2" fill="#111"/><circle cx="72.85" cy="447.29" r="1.2" fill="#111"/><circle cx="67.6" cy="447.56" r="1.2" fill="#111"/><circle cx="72.1" cy="447.83" r="1.2" fill="#111"/><circle cx="69.1" cy="448.1" r="1.2" fill="#111"/><circle cx="68.35" cy="448.36" r="1.2" fill="#111"/><circle cx="71.35" cy="448.63" r="1.2" fill="#111"/><circle cx="73.6" cy="448.9" r="1.2" fill="#111"/><circle cx="69.85" cy="449.17" r="1.2" fill="#111"/><circle cx="72.85" cy="449.43" r="1.2" fill="#111"/><circle cx="67.6" cy="449.7" r="1.2" fill="#111"/><circle cx="72.1" cy="449.97" r="1.2" fill="#111"/><circle cx="69.1" cy="450.24" r="1.2" fill="#111"/><circle cx="68.35" cy="450.5" r="1.2" fill="#111"/><circle cx="71.35" cy="450.77" r="1.2" fill="#111"/><circle cx="73.6" cy="451.04" r="1.2" fill="#111"/><circle cx="69.85" cy="451.31" r="1.2" fill="#111"/>
<line x1="70.5" y1="447.35" x2="70.5" y2="450.18" stroke="#111" stroke-width="1.15" />
<line x1="68.8" y1="447.5" x2="72.4" y2="447.5" stroke="#111" stroke-width="1.15" />
<line x1="68.8" y1="450.5" x2="72.4" y2="450.5" stroke="#111" stroke-width="1.15" />
<rect x="78.8" y="447.35" width="8.6" height="5.65" fill="#2c4c86" />
<circle cx="80.85" cy="442.27" r="1.35" fill="#fff" fill-opacity="0.25" stroke="#111" stroke-width="0.85"/><circle cx="83.85" cy="442.64" r="1.35" fill="#fff" fill-opacity="0.25" stroke="#111" stroke-width="0.85"/><circle cx="86.1" cy="443.01" r="1.35" fill="#fff" fill-opacity="0.25" stroke="#111" stroke-width="0.85"/><circle cx="82.35" cy="443.39" r="1.35" fill="#fff" fill-opacity="0.25" stroke="#111" stroke-width="0.85"/><circle cx="85.35" cy="443.76" r="1.35" fill="#fff" fill-opacity="0.25" stroke="#111" stroke-width="0.85"/><circle cx="80.1" cy="444.13" r="1.35" fill="#fff" fill-opacity="0.25" stroke="#111" stroke-width="0.85"/><circle cx="84.6" cy="444.51" r="1.35" fill="#fff" fill-opacity="0.25" stroke="#111" stroke-width="0.85"/><circle cx="81.6" cy="444.88" r="1.35" fill="#fff" fill-opacity="0.25" stroke="#111" stroke-width="0.85"/><circle cx="80.85" cy="445.25" r="1.35" fill="#fff" fill-opacity="0.25" stroke="#111" stroke-width="0.85"/><circle cx="83.85" cy="445.62" r="1.35" fill="#fff" fill-opacity="0.25" stroke="#111" stroke-width="0.85"/><circle cx="86.1" cy="446" r="1.35" fill="#fff" fill-opacity="0.25" stroke="#111" stroke-width="0.85"/><circle cx="82.35" cy="446.37" r="1.35" fill="#fff" fill-opacity="0.25" stroke="#111" stroke-width="0.85"/><circle cx="85.35" cy="446.74" r="1.35" fill="#fff" fill-opacity="0.25" stroke="#111" stroke-width="0.85"/><circle cx="80.1" cy="447.11" r="1.35" fill="#fff" fill-opacity="0.25" stroke="#111" stroke-width="0.85"/><circle cx="84.6" cy="447.49" r="1.35" fill="#fff" fill-opacity="0.25" stroke="#111" stroke-width="0.85"/><circle cx="81.6" cy="447.86" r="1.35" fill="#fff" fill-opacity="0.25" stroke="#111" stroke-width="0.85"/><circle cx="80.85" cy="448.23" r="1.35" fill="#fff" fill-opacity="0.25" stroke="#111" stroke-width="0.85"/><circle cx="83.85" cy="448.61" r="1.35" fill="#fff" fill-opacity="0.25" stroke="#111" stroke-width="0.85"/><circle cx="86.1" cy="448.98" r="1.35" fill="#fff" fill-opacity="0.25" stroke="#111" stroke-width="0.85"/><circle cx="82.35" cy="449.35" r="1.35" fill="#fff" fill-opacity="0.25" stroke="#111" stroke-width="0.85"/><circle cx="85.35" cy="449.72" r="1.35" fill="#fff" fill-opacity="0.25" stroke="#111" stroke-width="0.85"/><circle cx="80.1" cy="450.1" r="1.35" fill="#fff" fill-opacity="0.25" stroke="#111" stroke-width="0.85"/><circle cx="84.6" cy="450.47" r="1.35" fill="#fff" fill-opacity="0.25" stroke="#111" stroke-width="0.85"/><circle cx="81.6" cy="450.84" r="1.35" fill="#fff" fill-opacity="0.25" stroke="#111" stroke-width="0.85"/><circle cx="80.85" cy="451.22" r="1.35" fill="#fff" fill-opacity="0.25" stroke="#111" stroke-width="0.85"/><circle cx="83.85" cy="451.59" r="1.35" fill="#fff" fill-opacity="0.25" stroke="#111" stroke-width="0.85"/>
<line x1="83.5" y1="445.23" x2="83.5" y2="449.47" stroke="#111" stroke-width="1.15" />
<line x1="81.3" y1="445.5" x2="84.9" y2="445.5" stroke="#111" stroke-width="1.15" />
<line x1="81.3" y1="449.5" x2="84.9" y2="449.5" stroke="#111" stroke-width="1.15" />
<rect x="91.7" y="445.94" width="8.6" height="7.06" fill="url(#hblue)" />
<circle cx="93.75" cy="440.29" r="1.35" fill="#fff" fill-opacity="0.25" stroke="#111" stroke-width="0.85"/><circle cx="96.75" cy="440.72" r="1.35" fill="#fff" fill-opacity="0.25" stroke="#111" stroke-width="0.85"/><circle cx="99" cy="441.15" r="1.35" fill="#fff" fill-opacity="0.25" stroke="#111" stroke-width="0.85"/><circle cx="95.25" cy="441.58" r="1.35" fill="#fff" fill-opacity="0.25" stroke="#111" stroke-width="0.85"/><circle cx="98.25" cy="442.01" r="1.35" fill="#fff" fill-opacity="0.25" stroke="#111" stroke-width="0.85"/><circle cx="93" cy="442.44" r="1.35" fill="#fff" fill-opacity="0.25" stroke="#111" stroke-width="0.85"/><circle cx="97.5" cy="442.87" r="1.35" fill="#fff" fill-opacity="0.25" stroke="#111" stroke-width="0.85"/><circle cx="94.5" cy="443.3" r="1.35" fill="#fff" fill-opacity="0.25" stroke="#111" stroke-width="0.85"/><circle cx="93.75" cy="443.73" r="1.35" fill="#fff" fill-opacity="0.25" stroke="#111" stroke-width="0.85"/><circle cx="96.75" cy="444.16" r="1.35" fill="#fff" fill-opacity="0.25" stroke="#111" stroke-width="0.85"/><circle cx="99" cy="444.58" r="1.35" fill="#fff" fill-opacity="0.25" stroke="#111" stroke-width="0.85"/><circle cx="95.25" cy="445.01" r="1.35" fill="#fff" fill-opacity="0.25" stroke="#111" stroke-width="0.85"/><circle cx="98.25" cy="445.44" r="1.35" fill="#fff" fill-opacity="0.25" stroke="#111" stroke-width="0.85"/><circle cx="93" cy="445.87" r="1.35" fill="#fff" fill-opacity="0.25" stroke="#111" stroke-width="0.85"/><circle cx="97.5" cy="446.3" r="1.35" fill="#fff" fill-opacity="0.25" stroke="#111" stroke-width="0.85"/><circle cx="94.5" cy="446.73" r="1.35" fill="#fff" fill-opacity="0.25" stroke="#111" stroke-width="0.85"/><circle cx="93.75" cy="447.16" r="1.35" fill="#fff" fill-opacity="0.25" stroke="#111" stroke-width="0.85"/><circle cx="96.75" cy="447.59" r="1.35" fill="#fff" fill-opacity="0.25" stroke="#111" stroke-width="0.85"/><circle cx="99" cy="448.02" r="1.35" fill="#fff" fill-opacity="0.25" stroke="#111" stroke-width="0.85"/><circle cx="95.25" cy="448.45" r="1.35" fill="#fff" fill-opacity="0.25" stroke="#111" stroke-width="0.85"/><circle cx="98.25" cy="448.88" r="1.35" fill="#fff" fill-opacity="0.25" stroke="#111" stroke-width="0.85"/><circle cx="93" cy="449.31" r="1.35" fill="#fff" fill-opacity="0.25" stroke="#111" stroke-width="0.85"/><circle cx="97.5" cy="449.74" r="1.35" fill="#fff" fill-opacity="0.25" stroke="#111" stroke-width="0.85"/><circle cx="94.5" cy="450.16" r="1.35" fill="#fff" fill-opacity="0.25" stroke="#111" stroke-width="0.85"/><circle cx="93.75" cy="450.59" r="1.35" fill="#fff" fill-opacity="0.25" stroke="#111" stroke-width="0.85"/><circle cx="96.75" cy="451.02" r="1.35" fill="#fff" fill-opacity="0.25" stroke="#111" stroke-width="0.85"/>
<line x1="96.5" y1="443.12" x2="96.5" y2="448.76" stroke="#111" stroke-width="1.15" />
<line x1="94.2" y1="443.5" x2="97.8" y2="443.5" stroke="#111" stroke-width="1.15" />
<line x1="94.2" y1="448.5" x2="97.8" y2="448.5" stroke="#111" stroke-width="1.15" />
<rect x="113" y="425.75" width="8.6" height="27.25" fill="#a8002c" />
<circle cx="115.05" cy="414.03" r="1.2" fill="#111"/><circle cx="118.05" cy="416.01" r="1.2" fill="#111"/><circle cx="120.3" cy="418.41" r="1.2" fill="#111"/><circle cx="116.55" cy="420.52" r="1.2" fill="#111"/><circle cx="119.55" cy="421.94" r="1.2" fill="#111"/><circle cx="114.3" cy="423.35" r="1.2" fill="#111"/><circle cx="118.8" cy="424.05" r="1.2" fill="#111"/><circle cx="115.8" cy="424.76" r="1.2" fill="#111"/><circle cx="115.05" cy="425.47" r="1.2" fill="#111"/><circle cx="118.05" cy="426.17" r="1.2" fill="#111"/><circle cx="120.3" cy="426.88" r="1.2" fill="#111"/><circle cx="116.55" cy="427.58" r="1.2" fill="#111"/><circle cx="119.55" cy="428.29" r="1.2" fill="#111"/><circle cx="114.3" cy="429" r="1.2" fill="#111"/><circle cx="118.8" cy="430.41" r="1.2" fill="#111"/><circle cx="115.8" cy="431.82" r="1.2" fill="#111"/><circle cx="115.05" cy="433.23" r="1.2" fill="#111"/><circle cx="118.05" cy="441.28" r="1.2" fill="#111"/>
<line x1="117.5" y1="419.39" x2="117.5" y2="432.1" stroke="#111" stroke-width="1.15" />
<line x1="115.5" y1="419.5" x2="119.1" y2="419.5" stroke="#111" stroke-width="1.15" />
<line x1="115.5" y1="432.5" x2="119.1" y2="432.5" stroke="#111" stroke-width="1.15" />
<rect x="125.9" y="427.44" width="8.6" height="25.56" fill="url(#hpink)" />
<circle cx="127.95" cy="415.86" r="1.2" fill="#111"/><circle cx="130.95" cy="420.52" r="1.2" fill="#111"/><circle cx="133.2" cy="422.64" r="1.2" fill="#111"/><circle cx="129.45" cy="424.76" r="1.2" fill="#111"/><circle cx="132.45" cy="426.17" r="1.2" fill="#111"/><circle cx="127.2" cy="427.58" r="1.2" fill="#111"/><circle cx="131.7" cy="429" r="1.2" fill="#111"/><circle cx="128.7" cy="430.41" r="1.2" fill="#111"/><circle cx="127.95" cy="431.82" r="1.2" fill="#111"/><circle cx="130.95" cy="433.23" r="1.2" fill="#111"/><circle cx="133.2" cy="434.64" r="1.2" fill="#111"/><circle cx="129.45" cy="436.34" r="1.2" fill="#111"/>
<line x1="130.5" y1="421.79" x2="130.5" y2="433.09" stroke="#111" stroke-width="1.15" />
<line x1="128.4" y1="421.5" x2="132" y2="421.5" stroke="#111" stroke-width="1.15" />
<line x1="128.4" y1="433.5" x2="132" y2="433.5" stroke="#111" stroke-width="1.15" />
<rect x="138.9" y="413.75" width="8.6" height="39.25" fill="#2c4c86" />
<circle cx="140.95" cy="383.81" r="1.35" fill="#fff" fill-opacity="0.25" stroke="#111" stroke-width="0.85"/><circle cx="143.95" cy="393.7" r="1.35" fill="#fff" fill-opacity="0.25" stroke="#111" stroke-width="0.85"/><circle cx="146.2" cy="393.7" r="1.35" fill="#fff" fill-opacity="0.25" stroke="#111" stroke-width="0.85"/><circle cx="142.45" cy="402.87" r="1.35" fill="#fff" fill-opacity="0.25" stroke="#111" stroke-width="0.85"/><circle cx="145.45" cy="403.58" r="1.35" fill="#fff" fill-opacity="0.25" stroke="#111" stroke-width="0.85"/><circle cx="140.2" cy="407.11" r="1.35" fill="#fff" fill-opacity="0.25" stroke="#111" stroke-width="0.85"/><circle cx="144.7" cy="409.23" r="1.35" fill="#fff" fill-opacity="0.25" stroke="#111" stroke-width="0.85"/><circle cx="141.7" cy="410.64" r="1.35" fill="#fff" fill-opacity="0.25" stroke="#111" stroke-width="0.85"/><circle cx="140.95" cy="412.05" r="1.35" fill="#fff" fill-opacity="0.25" stroke="#111" stroke-width="0.85"/><circle cx="143.95" cy="414.17" r="1.35" fill="#fff" fill-opacity="0.25" stroke="#111" stroke-width="0.85"/><circle cx="146.2" cy="415.58" r="1.35" fill="#fff" fill-opacity="0.25" stroke="#111" stroke-width="0.85"/><circle cx="142.45" cy="416.99" r="1.35" fill="#fff" fill-opacity="0.25" stroke="#111" stroke-width="0.85"/><circle cx="145.45" cy="418.41" r="1.35" fill="#fff" fill-opacity="0.25" stroke="#111" stroke-width="0.85"/><circle cx="140.2" cy="419.82" r="1.35" fill="#fff" fill-opacity="0.25" stroke="#111" stroke-width="0.85"/><circle cx="144.7" cy="421.94" r="1.35" fill="#fff" fill-opacity="0.25" stroke="#111" stroke-width="0.85"/><circle cx="141.7" cy="423.35" r="1.35" fill="#fff" fill-opacity="0.25" stroke="#111" stroke-width="0.85"/><circle cx="140.95" cy="424.76" r="1.35" fill="#fff" fill-opacity="0.25" stroke="#111" stroke-width="0.85"/><circle cx="143.95" cy="426.17" r="1.35" fill="#fff" fill-opacity="0.25" stroke="#111" stroke-width="0.85"/><circle cx="146.2" cy="427.58" r="1.35" fill="#fff" fill-opacity="0.25" stroke="#111" stroke-width="0.85"/><circle cx="142.45" cy="429" r="1.35" fill="#fff" fill-opacity="0.25" stroke="#111" stroke-width="0.85"/>
<line x1="143.5" y1="403.86" x2="143.5" y2="423.63" stroke="#111" stroke-width="1.15" />
<line x1="141.4" y1="403.5" x2="145" y2="403.5" stroke="#111" stroke-width="1.15" />
<line x1="141.4" y1="423.5" x2="145" y2="423.5" stroke="#111" stroke-width="1.15" />
<rect x="151.4" y="413.04" width="8.6" height="39.96" fill="url(#hblue)" />
<circle cx="153.45" cy="397.93" r="1.35" fill="#fff" fill-opacity="0.25" stroke="#111" stroke-width="0.85"/><circle cx="156.45" cy="400.76" r="1.35" fill="#fff" fill-opacity="0.25" stroke="#111" stroke-width="0.85"/><circle cx="158.7" cy="403.58" r="1.35" fill="#fff" fill-opacity="0.25" stroke="#111" stroke-width="0.85"/><circle cx="154.95" cy="406.4" r="1.35" fill="#fff" fill-opacity="0.25" stroke="#111" stroke-width="0.85"/><circle cx="157.95" cy="409.23" r="1.35" fill="#fff" fill-opacity="0.25" stroke="#111" stroke-width="0.85"/><circle cx="152.7" cy="410.64" r="1.35" fill="#fff" fill-opacity="0.25" stroke="#111" stroke-width="0.85"/><circle cx="157.2" cy="413.46" r="1.35" fill="#fff" fill-opacity="0.25" stroke="#111" stroke-width="0.85"/><circle cx="154.2" cy="414.88" r="1.35" fill="#fff" fill-opacity="0.25" stroke="#111" stroke-width="0.85"/><circle cx="153.45" cy="416.29" r="1.35" fill="#fff" fill-opacity="0.25" stroke="#111" stroke-width="0.85"/><circle cx="156.45" cy="419.11" r="1.35" fill="#fff" fill-opacity="0.25" stroke="#111" stroke-width="0.85"/><circle cx="158.7" cy="420.52" r="1.35" fill="#fff" fill-opacity="0.25" stroke="#111" stroke-width="0.85"/><circle cx="154.95" cy="421.94" r="1.35" fill="#fff" fill-opacity="0.25" stroke="#111" stroke-width="0.85"/><circle cx="157.95" cy="424.76" r="1.35" fill="#fff" fill-opacity="0.25" stroke="#111" stroke-width="0.85"/><circle cx="152.7" cy="426.17" r="1.35" fill="#fff" fill-opacity="0.25" stroke="#111" stroke-width="0.85"/><circle cx="157.2" cy="427.58" r="1.35" fill="#fff" fill-opacity="0.25" stroke="#111" stroke-width="0.85"/>
<line x1="155.5" y1="405.27" x2="155.5" y2="420.81" stroke="#111" stroke-width="1.15" />
<line x1="153.9" y1="405.5" x2="157.5" y2="405.5" stroke="#111" stroke-width="1.15" />
<line x1="153.9" y1="420.5" x2="157.5" y2="420.5" stroke="#111" stroke-width="1.15" />
<line x1="49.5" y1="366.8" x2="49.5" y2="453.5" stroke="#111" stroke-width="1.15" />
<line x1="46.4" y1="368.5" x2="49" y2="368.5" stroke="#111" stroke-width="1.03" />
<text x="41.9" y="371.28" font-size="8.6" text-anchor="end" textLength="11.1" lengthAdjust="spacingAndGlyphs" stroke="#000" stroke-width="0.17">0.6</text>
<line x1="46.4" y1="396.5" x2="49" y2="396.5" stroke="#111" stroke-width="1.03" />
<text x="41.9" y="399.52" font-size="8.6" text-anchor="end" textLength="11.1" lengthAdjust="spacingAndGlyphs" stroke="#000" stroke-width="0.17">0.4</text>
<line x1="46.4" y1="424.5" x2="49" y2="424.5" stroke="#111" stroke-width="1.03" />
<text x="41.9" y="427.76" font-size="8.6" text-anchor="end" textLength="11.1" lengthAdjust="spacingAndGlyphs" stroke="#000" stroke-width="0.17">0.2</text>
<line x1="46.4" y1="453.5" x2="49" y2="453.5" stroke="#111" stroke-width="1.03" />
<text x="41.9" y="456" font-size="8.6" text-anchor="end" textLength="4.6" lengthAdjust="spacingAndGlyphs" stroke="#000" stroke-width="0.17">0</text>
<line x1="48.5" y1="453.5" x2="167.6" y2="453.5" stroke="#111" stroke-width="1.15" />
<line x1="49.5" y1="453" x2="49.5" y2="455.8" stroke="#111" stroke-width="1.03" />
<line x1="165.5" y1="453" x2="165.5" y2="455.8" stroke="#111" stroke-width="1.03" />
<text x="54.8" y="466" font-size="8.4" textLength="44.2" lengthAdjust="spacingAndGlyphs" stroke="#000" stroke-width="0.17">HSC-SLAM</text>
<text x="125.9" y="466.5" font-size="8.4" textLength="22.2" lengthAdjust="spacingAndGlyphs" stroke="#000" stroke-width="0.17">MPPs</text>
<line x1="114.2" y1="405.5" x2="131.7" y2="405.5" stroke="#111" stroke-width="1.03" />
<polyline points="123.5,405.5 123.5,374.5 149.5,374.5 149.5,377.5" fill="none" stroke="#111" stroke-width="1.03" />
<line x1="140" y1="377.5" x2="160.1" y2="377.5" stroke="#111" stroke-width="1.03" />
<circle cx="132" cy="370" r="0.9" fill="#111"/><circle cx="134.6" cy="370" r="0.9" fill="#111"/><circle cx="137.2" cy="370" r="0.9" fill="#111"/><circle cx="139.8" cy="370" r="0.9" fill="#111"/>
<text x="24.8" y="408.9" font-size="9.2" text-anchor="middle" textLength="56.8" lengthAdjust="spacingAndGlyphs" transform="rotate(-90 24.8 408.9)" stroke="#000" stroke-width="0.42">Percentage of BM</text>
<line x1="187.5" y1="378.5" x2="187.5" y2="393.4" stroke="#333" stroke-width="1.49" />
<line x1="187.5" y1="398.5" x2="187.5" y2="413.1" stroke="#333" stroke-width="1.49" />
<text x="171.1" y="387.7" font-size="8.2" font-style="italic" textLength="13.2" lengthAdjust="spacingAndGlyphs" stroke="#000" stroke-width="0.17">Ctrl</text>
<text x="175.1" y="408.5" font-size="8.2" font-style="italic" textLength="9.2" lengthAdjust="spacingAndGlyphs" stroke="#000" stroke-width="0.17">db</text>
<rect x="191.2" y="379.6" width="4.1" height="4.1" fill="#a8002c" />
<text x="198.2" y="383.6" font-size="8.2" textLength="14.1" lengthAdjust="spacingAndGlyphs" stroke="#000" stroke-width="0.17">veh.</text>
<rect x="191.2" y="388.6" width="4.1" height="4.1" fill="url(#hpink)" />
<text x="198.2" y="392.8" font-size="8.2" textLength="32.6" lengthAdjust="spacingAndGlyphs" stroke="#000" stroke-width="0.17">MK-2206</text>
<rect x="191.2" y="399.3" width="4.1" height="4.1" fill="#2c4c86" />
<text x="198.2" y="403.3" font-size="8.2" textLength="14.1" lengthAdjust="spacingAndGlyphs" stroke="#000" stroke-width="0.17">veh.</text>
<rect x="191.2" y="408.8" width="4.1" height="4.1" fill="url(#hblue)" />
<text x="198.2" y="413.1" font-size="8.2" textLength="32.6" lengthAdjust="spacingAndGlyphs" stroke="#000" stroke-width="0.17">MK-2206</text>
<text x="247.4" y="348.2" font-size="12.4" font-weight="bold" stroke="#000" stroke-width="0.45">F</text>
<text x="261.9" y="383.9" font-size="8.4" textLength="80.2" lengthAdjust="spacingAndGlyphs" stroke="#000" stroke-width="0.17">Gated on HSC-SLAM</text>
<path d="M270.8 405.5 L284.4 405.3 L287.5 404.2 L289.5 401.6 L291.2 400.4 L293 398.5 L294.2 399.6 L295.4 396.4 L296.4 393.7 L297.6 395.6 L298.6 392.5 L299.6 390.3 L300.6 393.6 L301.7 395.1 L302.4 397.2 L303.2 398.5 L304.6 399.4 L306 401.4 L307 404.5 L307.8 405.3 L334 405.5Z" fill="#b41f49" stroke="none"/>
<path d="M270.8 405.5 L284.4 405.3 L287.5 404.2 L289.5 401.6 L291.2 400.4 L293 398.5 L294.2 399.6 L295.4 396.4 L296.4 393.7 L297.6 395.6 L298.6 392.5 L299.6 390.3 L300.6 393.6 L301.7 395.1 L302.4 397.2 L303.2 398.5 L304.6 399.4 L306 401.4 L307 404.5 L307.8 405.3 L334 405.5" fill="none" stroke="#b41f49" stroke-width="0.95" stroke-linejoin="round"/>
<line x1="334.5" y1="402.5" x2="334.5" y2="406.7" stroke="#111" stroke-width="1.15" />
<path d="M270.8 421.2 L284.4 421 L287.5 419.8 L289 418 L290.2 416.8 L291.6 415.6 L293.1 413.9 L294.4 412.8 L295.5 411 L297.2 408.8 L298.8 406.7 L300.2 409.6 L301.7 411.5 L302.8 412.2 L303.7 413.4 L304.8 415.5 L306 418.2 L307 420.6 L308 421 L334 421.2Z" fill="#f2c6d0" stroke="none"/>
<path d="M270.8 421.2 L284.4 421 L287.5 419.8 L289 418 L290.2 416.8 L291.6 415.6 L293.1 413.9 L294.4 412.8 L295.5 411 L297.2 408.8 L298.8 406.7 L300.2 409.6 L301.7 411.5 L302.8 412.2 L303.7 413.4 L304.8 415.5 L306 418.2 L307 420.6 L308 421 L334 421.2" fill="none" stroke="#c8284e" stroke-width="0.95" stroke-linejoin="round"/>
<line x1="334.5" y1="418.2" x2="334.5" y2="422.4" stroke="#111" stroke-width="1.15" />
<path d="M270.8 436.7 L278.7 436.5 L281.5 435.9 L284 436.2 L286.8 435.6 L287.6 434.6 L288.3 433.4 L289.5 430 L290.7 427.6 L292.3 425 L293.5 423 L294.5 422.3 L295.5 424.2 L296.4 426.7 L297.2 429.5 L297.9 431.5 L298.6 433.4 L299.3 434.8 L300.5 436 L301.7 436.5 L334 436.7Z" fill="#3d5b98" stroke="none"/>
<path d="M270.8 436.7 L278.7 436.5 L281.5 435.9 L284 436.2 L286.8 435.6 L287.6 434.6 L288.3 433.4 L289.5 430 L290.7 427.6 L292.3 425 L293.5 423 L294.5 422.3 L295.5 424.2 L296.4 426.7 L297.2 429.5 L297.9 431.5 L298.6 433.4 L299.3 434.8 L300.5 436 L301.7 436.5 L334 436.7" fill="none" stroke="#3d5b98" stroke-width="0.95" stroke-linejoin="round"/>
<line x1="334.5" y1="433.7" x2="334.5" y2="437.9" stroke="#111" stroke-width="1.15" />
<path d="M270.8 452.2 L285 452 L287.3 451.4 L288.8 450.6 L290.2 449.7 L291.2 447.8 L292.1 445.9 L293 444 L294 443.5 L294.8 443.9 L295.4 440 L296 437.7 L296.8 440.6 L297.9 441.6 L299 442 L300.3 443.5 L301 445.5 L301.7 447.8 L302.8 450.2 L304.1 451.7 L306 452 L334 452.2Z" fill="#ccd6ea" stroke="none"/>
<path d="M270.8 452.2 L285 452 L287.3 451.4 L288.8 450.6 L290.2 449.7 L291.2 447.8 L292.1 445.9 L293 444 L294 443.5 L294.8 443.9 L295.4 440 L296 437.7 L296.8 440.6 L297.9 441.6 L299 442 L300.3 443.5 L301 445.5 L301.7 447.8 L302.8 450.2 L304.1 451.7 L306 452 L334 452.2" fill="none" stroke="#3d5b98" stroke-width="0.95" stroke-linejoin="round"/>
<line x1="334.5" y1="449.2" x2="334.5" y2="453.4" stroke="#111" stroke-width="1.15" />
<line x1="298.5" y1="389.5" x2="298.5" y2="453" stroke="#444" stroke-width="1.15" stroke-dasharray="1.3,1.3"/>
<line x1="270.5" y1="389.2" x2="270.5" y2="453.4" stroke="#111" stroke-width="1.26" />
<line x1="270.2" y1="389.5" x2="334.3" y2="389.5" stroke="#111" stroke-width="1.26" />
<line x1="334.5" y1="389.2" x2="334.5" y2="392.2" stroke="#111" stroke-width="1.15" />
<line x1="271.5" y1="453" x2="271.5" y2="455" stroke="#111" stroke-width="0.69" />
<line x1="274.5" y1="453" x2="274.5" y2="454.1" stroke="#111" stroke-width="0.69" />
<line x1="277.5" y1="453" x2="277.5" y2="454.1" stroke="#111" stroke-width="0.69" />
<line x1="280.5" y1="453" x2="280.5" y2="454.1" stroke="#111" stroke-width="0.69" />
<line x1="283.5" y1="453" x2="283.5" y2="454.1" stroke="#111" stroke-width="0.69" />
<line x1="285.5" y1="453" x2="285.5" y2="455" stroke="#111" stroke-width="0.69" />
<line x1="288.5" y1="453" x2="288.5" y2="454.1" stroke="#111" stroke-width="0.69" />
<line x1="291.5" y1="453" x2="291.5" y2="454.1" stroke="#111" stroke-width="0.69" />
<line x1="294.5" y1="453" x2="294.5" y2="454.1" stroke="#111" stroke-width="0.69" />
<line x1="297.5" y1="453" x2="297.5" y2="454.1" stroke="#111" stroke-width="0.69" />
<line x1="300.5" y1="453" x2="300.5" y2="455" stroke="#111" stroke-width="0.69" />
<line x1="303.5" y1="453" x2="303.5" y2="454.1" stroke="#111" stroke-width="0.69" />
<line x1="306.5" y1="453" x2="306.5" y2="454.1" stroke="#111" stroke-width="0.69" />
<line x1="309.5" y1="453" x2="309.5" y2="454.1" stroke="#111" stroke-width="0.69" />
<line x1="312.5" y1="453" x2="312.5" y2="454.1" stroke="#111" stroke-width="0.69" />
<line x1="315.5" y1="453" x2="315.5" y2="455" stroke="#111" stroke-width="0.69" />
<line x1="318.5" y1="453" x2="318.5" y2="454.1" stroke="#111" stroke-width="0.69" />
<line x1="321.5" y1="453" x2="321.5" y2="454.1" stroke="#111" stroke-width="0.69" />
<line x1="324.5" y1="453" x2="324.5" y2="454.1" stroke="#111" stroke-width="0.69" />
<line x1="327.5" y1="453" x2="327.5" y2="454.1" stroke="#111" stroke-width="0.69" />
<line x1="330.5" y1="453" x2="330.5" y2="455" stroke="#111" stroke-width="0.69" />
<line x1="333.5" y1="453" x2="333.5" y2="454.1" stroke="#111" stroke-width="0.69" />
<line x1="268.2" y1="452.5" x2="270.2" y2="452.5" stroke="#111" stroke-width="0.69" />
<line x1="269.1" y1="447.5" x2="270.2" y2="447.5" stroke="#111" stroke-width="0.69" />
<line x1="269.1" y1="443.5" x2="270.2" y2="443.5" stroke="#111" stroke-width="0.69" />
<line x1="269.1" y1="439.5" x2="270.2" y2="439.5" stroke="#111" stroke-width="0.69" />
<line x1="269.1" y1="435.5" x2="270.2" y2="435.5" stroke="#111" stroke-width="0.69" />
<line x1="268.2" y1="431.5" x2="270.2" y2="431.5" stroke="#111" stroke-width="0.69" />
<line x1="269.1" y1="427.5" x2="270.2" y2="427.5" stroke="#111" stroke-width="0.69" />
<line x1="269.1" y1="423.5" x2="270.2" y2="423.5" stroke="#111" stroke-width="0.69" />
<line x1="269.1" y1="419.5" x2="270.2" y2="419.5" stroke="#111" stroke-width="0.69" />
<line x1="269.1" y1="414.5" x2="270.2" y2="414.5" stroke="#111" stroke-width="0.69" />
<line x1="268.2" y1="410.5" x2="270.2" y2="410.5" stroke="#111" stroke-width="0.69" />
<line x1="269.1" y1="406.5" x2="270.2" y2="406.5" stroke="#111" stroke-width="0.69" />
<line x1="269.1" y1="402.5" x2="270.2" y2="402.5" stroke="#111" stroke-width="0.69" />
<line x1="269.1" y1="398.5" x2="270.2" y2="398.5" stroke="#111" stroke-width="0.69" />
<line x1="269.1" y1="394.5" x2="270.2" y2="394.5" stroke="#111" stroke-width="0.69" />
<line x1="268.2" y1="390.5" x2="270.2" y2="390.5" stroke="#111" stroke-width="0.69" />
<text x="311.9" y="399.7" font-size="8" textLength="30.9" lengthAdjust="spacingAndGlyphs" stroke="#000" stroke-width="0.17"><tspan font-style="italic">Ctrl</tspan>+veh.</text>
<text x="311.9" y="415.5" font-size="8" textLength="48.1" lengthAdjust="spacingAndGlyphs" stroke="#000" stroke-width="0.17"><tspan font-style="italic">Ctrl</tspan>+MK-2206</text>
<text x="311.9" y="431.6" font-size="8" textLength="27.2" lengthAdjust="spacingAndGlyphs" stroke="#000" stroke-width="0.17"><tspan font-style="italic">db</tspan>+veh.</text>
<text x="311.9" y="447.4" font-size="8" textLength="45.2" lengthAdjust="spacingAndGlyphs" stroke="#000" stroke-width="0.17"><tspan font-style="italic">db</tspan>+MK-2206</text>
<text x="264.8" y="421.3" font-size="9.2" text-anchor="middle" textLength="36.6" lengthAdjust="spacingAndGlyphs" transform="rotate(-90 264.8 421.3)" stroke="#000" stroke-width="0.42">Cell number</text>
<text x="272.7" y="467.5" font-size="9.2" textLength="15.8" lengthAdjust="spacingAndGlyphs" stroke="#000" stroke-width="0.42">CD34</text>
<line x1="292" y1="464.5" x2="306.1" y2="464.5" stroke="#111" stroke-width="1.03" />
<polygon points="308.9,464.5 304.4,466.4 305.8,464.5 304.4,462.6" fill="#111" />
<text x="420.8" y="359.2" font-size="10.2" textLength="52.5" lengthAdjust="spacingAndGlyphs" stroke="#000" stroke-width="0.17">HSC-SLAM</text>
<rect x="423.3" y="410.8" width="8.3" height="42.2" fill="#a8002c" />
<circle cx="424.45" cy="396.5" r="1.25" fill="#111"/><circle cx="430.45" cy="396.5" r="1.25" fill="#111"/><circle cx="424.45" cy="403.5" r="1.25" fill="#111"/><circle cx="427.45" cy="403.5" r="1.25" fill="#111"/><circle cx="430.45" cy="403.5" r="1.25" fill="#111"/><circle cx="424.45" cy="411" r="1.25" fill="#111"/><circle cx="427.45" cy="411" r="1.25" fill="#111"/><circle cx="430.45" cy="411" r="1.25" fill="#111"/><circle cx="424.45" cy="423.5" r="1.25" fill="#111"/><circle cx="427.45" cy="423.5" r="1.25" fill="#111"/><circle cx="430.45" cy="423.5" r="1.25" fill="#111"/>
<line x1="427.5" y1="399.5" x2="427.5" y2="420" stroke="#111" stroke-width="0.92" />
<line x1="425.75" y1="399.5" x2="429.15" y2="399.5" stroke="#111" stroke-width="0.92" />
<line x1="425.75" y1="420.5" x2="429.15" y2="420.5" stroke="#111" stroke-width="0.92" />
<rect x="435.2" y="410.8" width="8.3" height="42.2" fill="url(#hpink)" />
<circle cx="439.35" cy="397" r="1.25" fill="#111"/><circle cx="436.35" cy="399" r="1.25" fill="#111"/><circle cx="442.35" cy="399" r="1.25" fill="#111"/><circle cx="436.35" cy="403.5" r="1.25" fill="#111"/><circle cx="442.35" cy="403.5" r="1.25" fill="#111"/><circle cx="439.35" cy="407.5" r="1.25" fill="#111"/><circle cx="436.35" cy="411" r="1.25" fill="#111"/><circle cx="442.35" cy="411" r="1.25" fill="#111"/><circle cx="436.35" cy="424" r="1.25" fill="#111"/><circle cx="439.35" cy="424" r="1.25" fill="#111"/><circle cx="442.35" cy="424" r="1.25" fill="#111"/>
<line x1="439.5" y1="399.3" x2="439.5" y2="420" stroke="#111" stroke-width="0.92" />
<line x1="437.65" y1="399.5" x2="441.05" y2="399.5" stroke="#111" stroke-width="0.92" />
<line x1="437.65" y1="420.5" x2="441.05" y2="420.5" stroke="#111" stroke-width="0.92" />
<rect x="447.3" y="424.6" width="8.3" height="28.4" fill="#2c4c86" />
<circle cx="454.45" cy="416" r="1.35" fill="#fff" fill-opacity="0.4" stroke="#111" stroke-width="0.85"/><circle cx="451.45" cy="417.5" r="1.35" fill="#fff" fill-opacity="0.4" stroke="#111" stroke-width="0.85"/><circle cx="448.45" cy="419" r="1.35" fill="#fff" fill-opacity="0.4" stroke="#111" stroke-width="0.85"/><circle cx="454.45" cy="420.5" r="1.35" fill="#fff" fill-opacity="0.4" stroke="#111" stroke-width="0.85"/><circle cx="448.45" cy="422.5" r="1.35" fill="#fff" fill-opacity="0.4" stroke="#111" stroke-width="0.85"/><circle cx="451.45" cy="424.5" r="1.35" fill="#fff" fill-opacity="0.4" stroke="#111" stroke-width="0.85"/><circle cx="448.45" cy="429.5" r="1.35" fill="#fff" fill-opacity="0.4" stroke="#111" stroke-width="0.85"/><circle cx="451.45" cy="431" r="1.35" fill="#fff" fill-opacity="0.4" stroke="#111" stroke-width="0.85"/><circle cx="454.45" cy="431" r="1.35" fill="#fff" fill-opacity="0.4" stroke="#111" stroke-width="0.85"/><circle cx="449.45" cy="427" r="1.35" fill="#fff" fill-opacity="0.4" stroke="#111" stroke-width="0.85"/>
<line x1="451.5" y1="416" x2="451.5" y2="432" stroke="#111" stroke-width="0.92" />
<line x1="449.75" y1="416.5" x2="453.15" y2="416.5" stroke="#111" stroke-width="0.92" />
<line x1="449.75" y1="432.5" x2="453.15" y2="432.5" stroke="#111" stroke-width="0.92" />
<rect x="459.2" y="422.3" width="8.3" height="30.7" fill="url(#hblue)" />
<circle cx="460.35" cy="412.5" r="1.35" fill="#fff" fill-opacity="0.4" stroke="#111" stroke-width="0.85"/><circle cx="463.35" cy="412.5" r="1.35" fill="#fff" fill-opacity="0.4" stroke="#111" stroke-width="0.85"/><circle cx="466.35" cy="413.5" r="1.35" fill="#fff" fill-opacity="0.4" stroke="#111" stroke-width="0.85"/><circle cx="460.35" cy="415.5" r="1.35" fill="#fff" fill-opacity="0.4" stroke="#111" stroke-width="0.85"/><circle cx="466.35" cy="416.5" r="1.35" fill="#fff" fill-opacity="0.4" stroke="#111" stroke-width="0.85"/><circle cx="463.35" cy="419" r="1.35" fill="#fff" fill-opacity="0.4" stroke="#111" stroke-width="0.85"/><circle cx="466.35" cy="420.5" r="1.35" fill="#fff" fill-opacity="0.4" stroke="#111" stroke-width="0.85"/><circle cx="463.35" cy="428.5" r="1.35" fill="#fff" fill-opacity="0.4" stroke="#111" stroke-width="0.85"/><circle cx="460.35" cy="432.5" r="1.35" fill="#fff" fill-opacity="0.4" stroke="#111" stroke-width="0.85"/><circle cx="463.35" cy="433" r="1.35" fill="#fff" fill-opacity="0.4" stroke="#111" stroke-width="0.85"/><circle cx="466.35" cy="432.5" r="1.35" fill="#fff" fill-opacity="0.4" stroke="#111" stroke-width="0.85"/>
<line x1="463.5" y1="413.5" x2="463.5" y2="432" stroke="#111" stroke-width="0.92" />
<line x1="461.65" y1="413.5" x2="465.05" y2="413.5" stroke="#111" stroke-width="0.92" />
<line x1="461.65" y1="432.5" x2="465.05" y2="432.5" stroke="#111" stroke-width="0.92" />
<line x1="419.5" y1="367.5" x2="419.5" y2="453.5" stroke="#111" stroke-width="1.38" />
<line x1="416.8" y1="368.5" x2="419.4" y2="368.5" stroke="#111" stroke-width="1.03" />
<text x="411.7" y="371.5" font-size="8.6" text-anchor="end" textLength="18.2" lengthAdjust="spacingAndGlyphs" stroke="#000" stroke-width="0.17">1500</text>
<line x1="416.8" y1="396.5" x2="419.4" y2="396.5" stroke="#111" stroke-width="1.03" />
<text x="411.7" y="399.67" font-size="8.6" text-anchor="end" textLength="18.2" lengthAdjust="spacingAndGlyphs" stroke="#000" stroke-width="0.17">1000</text>
<line x1="416.8" y1="424.5" x2="419.4" y2="424.5" stroke="#111" stroke-width="1.03" />
<text x="411.7" y="427.83" font-size="8.6" text-anchor="end" textLength="13.7" lengthAdjust="spacingAndGlyphs" stroke="#000" stroke-width="0.17">500</text>
<line x1="416.8" y1="453.5" x2="419.4" y2="453.5" stroke="#111" stroke-width="1.03" />
<text x="411.7" y="456" font-size="8.6" text-anchor="end" textLength="4.6" lengthAdjust="spacingAndGlyphs" stroke="#000" stroke-width="0.17">0</text>
<line x1="418.9" y1="453.5" x2="474.2" y2="453.5" stroke="#111" stroke-width="1.26" />
<line x1="471.5" y1="453" x2="471.5" y2="455.8" stroke="#111" stroke-width="1.03" />
<line x1="419.5" y1="453" x2="419.5" y2="455.8" stroke="#111" stroke-width="1.03" />
<line x1="424.6" y1="388.5" x2="444.4" y2="388.5" stroke="#111" stroke-width="1.03" />
<polyline points="434.5,388.5 434.5,385.5 461.5,385.5 461.5,402.5" fill="none" stroke="#111" stroke-width="1.03" />
<line x1="452.7" y1="402.5" x2="470.4" y2="402.5" stroke="#111" stroke-width="1.03" />
<circle cx="445.2" cy="381.3" r="0.9" fill="#111"/><circle cx="447.8" cy="381.3" r="0.9" fill="#111"/><circle cx="450.4" cy="381.3" r="0.9" fill="#111"/>
<text x="386.7" y="466" font-size="8.4" textLength="32.7" lengthAdjust="spacingAndGlyphs" stroke="#000" stroke-width="0.17">MK2206</text>
<text x="427.1" y="467" font-size="8.4" text-anchor="middle" stroke="#000" stroke-width="0.17">-</text>
<text x="439.2" y="467" font-size="8.4" text-anchor="middle" stroke="#000" stroke-width="0.17">+</text>
<text x="451.2" y="467" font-size="8.4" text-anchor="middle" stroke="#000" stroke-width="0.17">-</text>
<text x="463.1" y="467" font-size="8.4" text-anchor="middle" stroke="#000" stroke-width="0.17">+</text>
<line x1="424.3" y1="472.5" x2="445" y2="472.5" stroke="#333" stroke-width="1.03" />
<line x1="447.8" y1="472.5" x2="469.3" y2="472.5" stroke="#333" stroke-width="1.03" />
<text x="427.7" y="482.4" font-size="8.4" font-style="italic" textLength="13.9" lengthAdjust="spacingAndGlyphs" stroke="#000" stroke-width="0.17">Ctrl</text>
<text x="454.3" y="482.4" font-size="8.4" font-style="italic" textLength="9.2" lengthAdjust="spacingAndGlyphs" stroke="#000" stroke-width="0.17">db</text>
<text x="386.5" y="409.1" font-size="10.2" text-anchor="middle" font-weight="bold" textLength="31.2" lengthAdjust="spacingAndGlyphs" transform="rotate(-90 386.5 409.1)">CD34 MFI</text>
<text x="7.8" y="512.2" font-size="12.4" font-weight="bold" stroke="#000" stroke-width="0.45">G</text>
<text x="107.5" y="523.3" font-size="9.8" textLength="118.6" lengthAdjust="spacingAndGlyphs" stroke="#000" stroke-width="0.17">Competitive transplantation</text>
<rect x="56.5" y="598.42" width="7.8" height="21.28" fill="#a8002c" />
<circle cx="58.6" cy="586.22" r="0.95" fill="#111"/><circle cx="61" cy="590.95" r="0.95" fill="#111"/><circle cx="62.8" cy="592.98" r="0.95" fill="#111"/><circle cx="59.8" cy="593.53" r="0.95" fill="#111"/><circle cx="62.2" cy="594.63" r="0.95" fill="#111"/><circle cx="58" cy="596.4" r="0.95" fill="#111"/><circle cx="61.6" cy="605.13" r="0.95" fill="#111"/><circle cx="59.2" cy="606.5" r="0.95" fill="#111"/>
<line x1="60.5" y1="589.7" x2="60.5" y2="607.14" stroke="#111" stroke-width="1.21" />
<line x1="58.6" y1="589.5" x2="62.2" y2="589.5" stroke="#111" stroke-width="1.21" />
<line x1="58.6" y1="607.5" x2="62.2" y2="607.5" stroke="#111" stroke-width="1.21" />
<rect x="65.75" y="595.02" width="7.8" height="24.68" fill="url(#hpink)" />
<circle cx="67.85" cy="584.04" r="0.95" fill="#111"/><circle cx="70.25" cy="584.82" r="0.95" fill="#111"/><circle cx="72.05" cy="590.35" r="0.95" fill="#111"/><circle cx="69.05" cy="591.23" r="0.95" fill="#111"/><circle cx="71.45" cy="592.72" r="0.95" fill="#111"/><circle cx="67.25" cy="596.97" r="0.95" fill="#111"/><circle cx="70.85" cy="599.98" r="0.95" fill="#111"/><circle cx="68.45" cy="605.22" r="0.95" fill="#111"/>
<line x1="69.5" y1="587.17" x2="69.5" y2="602.87" stroke="#111" stroke-width="1.21" />
<line x1="67.85" y1="587.5" x2="71.45" y2="587.5" stroke="#111" stroke-width="1.21" />
<line x1="67.85" y1="602.5" x2="71.45" y2="602.5" stroke="#111" stroke-width="1.21" />
<rect x="75" y="583.16" width="7.8" height="36.54" fill="#2c4c86" />
<circle cx="77.1" cy="573.4" r="0.95" fill="#111"/><circle cx="79.5" cy="574.09" r="0.95" fill="#111"/><circle cx="81.3" cy="577.83" r="0.95" fill="#111"/><circle cx="78.3" cy="578.36" r="0.95" fill="#111"/><circle cx="80.7" cy="579.67" r="0.95" fill="#111"/><circle cx="76.5" cy="583.41" r="0.95" fill="#111"/><circle cx="80.1" cy="586.48" r="0.95" fill="#111"/><circle cx="77.7" cy="589.19" r="0.95" fill="#111"/>
<line x1="78.5" y1="576.19" x2="78.5" y2="590.14" stroke="#111" stroke-width="1.21" />
<line x1="77.1" y1="576.5" x2="80.7" y2="576.5" stroke="#111" stroke-width="1.21" />
<line x1="77.1" y1="590.5" x2="80.7" y2="590.5" stroke="#111" stroke-width="1.21" />
<rect x="84.2" y="585.52" width="7.8" height="34.18" fill="url(#hblue)" />
<circle cx="86.3" cy="575.75" r="0.95" fill="#111"/><circle cx="88.7" cy="579.36" r="0.95" fill="#111"/><circle cx="90.5" cy="579.54" r="0.95" fill="#111"/><circle cx="87.5" cy="581.9" r="0.95" fill="#111"/><circle cx="89.9" cy="589.48" r="0.95" fill="#111"/><circle cx="85.7" cy="592.21" r="0.95" fill="#111"/><circle cx="89.3" cy="592.66" r="0.95" fill="#111"/><circle cx="86.9" cy="594.2" r="0.95" fill="#111"/>
<line x1="88.5" y1="578.54" x2="88.5" y2="592.49" stroke="#111" stroke-width="1.21" />
<line x1="86.3" y1="578.5" x2="89.9" y2="578.5" stroke="#111" stroke-width="1.21" />
<line x1="86.3" y1="592.5" x2="89.9" y2="592.5" stroke="#111" stroke-width="1.21" />
<text x="75" y="633.5" font-size="8.6" text-anchor="middle" stroke="#000" stroke-width="0.17">4</text>
<rect x="102" y="591.97" width="7.8" height="27.73" fill="#a8002c" />
<circle cx="104.1" cy="578.54" r="0.95" fill="#111"/><circle cx="106.5" cy="579.5" r="0.95" fill="#111"/><circle cx="108.3" cy="587.66" r="0.95" fill="#111"/><circle cx="105.3" cy="587.67" r="0.95" fill="#111"/><circle cx="107.7" cy="591.53" r="0.95" fill="#111"/><circle cx="103.5" cy="591.97" r="0.95" fill="#111"/><circle cx="107.1" cy="592.05" r="0.95" fill="#111"/><circle cx="104.7" cy="596.75" r="0.95" fill="#111"/>
<line x1="105.5" y1="582.38" x2="105.5" y2="601.56" stroke="#111" stroke-width="1.21" />
<line x1="104.1" y1="582.5" x2="107.7" y2="582.5" stroke="#111" stroke-width="1.21" />
<line x1="104.1" y1="601.5" x2="107.7" y2="601.5" stroke="#111" stroke-width="1.21" />
<rect x="111.25" y="586.22" width="7.8" height="33.48" fill="url(#hpink)" />
<circle cx="113.35" cy="575.23" r="0.95" fill="#111"/><circle cx="115.75" cy="576.01" r="0.95" fill="#111"/><circle cx="117.55" cy="578.37" r="0.95" fill="#111"/><circle cx="114.55" cy="579.55" r="0.95" fill="#111"/><circle cx="116.95" cy="585.85" r="0.95" fill="#111"/><circle cx="112.75" cy="586.55" r="0.95" fill="#111"/><circle cx="116.35" cy="586.61" r="0.95" fill="#111"/><circle cx="113.95" cy="587.72" r="0.95" fill="#111"/>
<line x1="115.5" y1="578.37" x2="115.5" y2="594.06" stroke="#111" stroke-width="1.21" />
<line x1="113.35" y1="578.5" x2="116.95" y2="578.5" stroke="#111" stroke-width="1.21" />
<line x1="113.35" y1="594.5" x2="116.95" y2="594.5" stroke="#111" stroke-width="1.21" />
<rect x="120.5" y="570" width="7.8" height="49.7" fill="#2c4c86" />
<circle cx="122.6" cy="559.01" r="0.95" fill="#111"/><circle cx="125" cy="562.9" r="0.95" fill="#111"/><circle cx="126.8" cy="563.98" r="0.95" fill="#111"/><circle cx="123.8" cy="564.45" r="0.95" fill="#111"/><circle cx="126.2" cy="566.91" r="0.95" fill="#111"/><circle cx="122" cy="567.96" r="0.95" fill="#111"/><circle cx="125.6" cy="571.06" r="0.95" fill="#111"/><circle cx="123.2" cy="579.57" r="0.95" fill="#111"/>
<line x1="124.5" y1="562.15" x2="124.5" y2="577.84" stroke="#111" stroke-width="1.21" />
<line x1="122.6" y1="562.5" x2="126.2" y2="562.5" stroke="#111" stroke-width="1.21" />
<line x1="122.6" y1="577.5" x2="126.2" y2="577.5" stroke="#111" stroke-width="1.21" />
<rect x="129.7" y="581.59" width="7.8" height="38.11" fill="url(#hblue)" />
<circle cx="131.8" cy="571.83" r="0.95" fill="#111"/><circle cx="134.2" cy="572.52" r="0.95" fill="#111"/><circle cx="136" cy="578.25" r="0.95" fill="#111"/><circle cx="133" cy="579.47" r="0.95" fill="#111"/><circle cx="135.4" cy="581.84" r="0.95" fill="#111"/><circle cx="131.2" cy="584.9" r="0.95" fill="#111"/><circle cx="134.8" cy="589.98" r="0.95" fill="#111"/><circle cx="132.4" cy="590.66" r="0.95" fill="#111"/>
<line x1="133.5" y1="574.62" x2="133.5" y2="588.57" stroke="#111" stroke-width="1.21" />
<line x1="131.8" y1="574.5" x2="135.4" y2="574.5" stroke="#111" stroke-width="1.21" />
<line x1="131.8" y1="588.5" x2="135.4" y2="588.5" stroke="#111" stroke-width="1.21" />
<text x="120.5" y="633.5" font-size="8.6" text-anchor="middle" stroke="#000" stroke-width="0.17">8</text>
<rect x="147.3" y="587.78" width="7.8" height="31.92" fill="#a8002c" />
<circle cx="149.4" cy="575.58" r="0.95" fill="#111"/><circle cx="151.8" cy="576.45" r="0.95" fill="#111"/><circle cx="153.6" cy="576.45" r="0.95" fill="#111"/><circle cx="150.6" cy="580.17" r="0.95" fill="#111"/><circle cx="153" cy="583.05" r="0.95" fill="#111"/><circle cx="148.8" cy="587.43" r="0.95" fill="#111"/><circle cx="152.4" cy="596.07" r="0.95" fill="#111"/><circle cx="150" cy="599.12" r="0.95" fill="#111"/>
<line x1="151.5" y1="579.06" x2="151.5" y2="596.5" stroke="#111" stroke-width="1.21" />
<line x1="149.4" y1="579.5" x2="153" y2="579.5" stroke="#111" stroke-width="1.21" />
<line x1="149.4" y1="596.5" x2="153" y2="596.5" stroke="#111" stroke-width="1.21" />
<rect x="156.55" y="580.37" width="7.8" height="39.33" fill="url(#hpink)" />
<circle cx="158.65" cy="569.39" r="0.95" fill="#111"/><circle cx="161.05" cy="573.35" r="0.95" fill="#111"/><circle cx="162.85" cy="575.14" r="0.95" fill="#111"/><circle cx="159.85" cy="575.66" r="0.95" fill="#111"/><circle cx="162.25" cy="577.93" r="0.95" fill="#111"/><circle cx="158.05" cy="580.37" r="0.95" fill="#111"/><circle cx="161.65" cy="581.85" r="0.95" fill="#111"/><circle cx="159.25" cy="588.31" r="0.95" fill="#111"/>
<line x1="160.5" y1="572.52" x2="160.5" y2="588.22" stroke="#111" stroke-width="1.21" />
<line x1="158.65" y1="572.5" x2="162.25" y2="572.5" stroke="#111" stroke-width="1.21" />
<line x1="158.65" y1="588.5" x2="162.25" y2="588.5" stroke="#111" stroke-width="1.21" />
<rect x="165.8" y="564.68" width="7.8" height="55.02" fill="#2c4c86" />
<circle cx="167.9" cy="550.03" r="0.95" fill="#111"/><circle cx="170.3" cy="554.31" r="0.95" fill="#111"/><circle cx="172.1" cy="560.32" r="0.95" fill="#111"/><circle cx="169.1" cy="562.57" r="0.95" fill="#111"/><circle cx="171.5" cy="563.54" r="0.95" fill="#111"/><circle cx="167.3" cy="564.75" r="0.95" fill="#111"/><circle cx="170.9" cy="564.94" r="0.95" fill="#111"/><circle cx="168.5" cy="575.71" r="0.95" fill="#111"/>
<line x1="169.5" y1="554.21" x2="169.5" y2="575.14" stroke="#111" stroke-width="1.21" />
<line x1="167.9" y1="554.5" x2="171.5" y2="554.5" stroke="#111" stroke-width="1.21" />
<line x1="167.9" y1="575.5" x2="171.5" y2="575.5" stroke="#111" stroke-width="1.21" />
<rect x="175" y="580.9" width="7.8" height="38.8" fill="url(#hblue)" />
<circle cx="177.1" cy="571.13" r="0.95" fill="#111"/><circle cx="179.5" cy="571.83" r="0.95" fill="#111"/><circle cx="181.3" cy="578.44" r="0.95" fill="#111"/><circle cx="178.3" cy="580.01" r="0.95" fill="#111"/><circle cx="180.7" cy="580.19" r="0.95" fill="#111"/><circle cx="176.5" cy="582.61" r="0.95" fill="#111"/><circle cx="180.1" cy="584.58" r="0.95" fill="#111"/><circle cx="177.7" cy="585.58" r="0.95" fill="#111"/>
<line x1="178.5" y1="573.92" x2="178.5" y2="587.87" stroke="#111" stroke-width="1.21" />
<line x1="177.1" y1="573.5" x2="180.7" y2="573.5" stroke="#111" stroke-width="1.21" />
<line x1="177.1" y1="587.5" x2="180.7" y2="587.5" stroke="#111" stroke-width="1.21" />
<text x="165.8" y="633.5" font-size="8.6" text-anchor="middle" stroke="#000" stroke-width="0.17">12</text>
<rect x="192.8" y="586.22" width="7.8" height="33.48" fill="#a8002c" />
<circle cx="194.9" cy="574.01" r="0.95" fill="#111"/><circle cx="197.3" cy="574.88" r="0.95" fill="#111"/><circle cx="199.1" cy="579.67" r="0.95" fill="#111"/><circle cx="196.1" cy="584.72" r="0.95" fill="#111"/><circle cx="198.5" cy="590.24" r="0.95" fill="#111"/><circle cx="194.3" cy="592.81" r="0.95" fill="#111"/><circle cx="197.9" cy="592.97" r="0.95" fill="#111"/><circle cx="195.5" cy="595.5" r="0.95" fill="#111"/>
<line x1="196.5" y1="577.5" x2="196.5" y2="594.94" stroke="#111" stroke-width="1.21" />
<line x1="194.9" y1="577.5" x2="198.5" y2="577.5" stroke="#111" stroke-width="1.21" />
<line x1="194.9" y1="594.5" x2="198.5" y2="594.5" stroke="#111" stroke-width="1.21" />
<rect x="202.05" y="576.97" width="7.8" height="42.73" fill="url(#hpink)" />
<circle cx="204.15" cy="562.32" r="0.95" fill="#111"/><circle cx="206.55" cy="563.37" r="0.95" fill="#111"/><circle cx="208.35" cy="563.37" r="0.95" fill="#111"/><circle cx="205.35" cy="563.63" r="0.95" fill="#111"/><circle cx="207.75" cy="568.7" r="0.95" fill="#111"/><circle cx="203.55" cy="572.56" r="0.95" fill="#111"/><circle cx="207.15" cy="577.47" r="0.95" fill="#111"/><circle cx="204.75" cy="590.58" r="0.95" fill="#111"/>
<line x1="205.5" y1="566.51" x2="205.5" y2="587.44" stroke="#111" stroke-width="1.21" />
<line x1="204.15" y1="566.5" x2="207.75" y2="566.5" stroke="#111" stroke-width="1.21" />
<line x1="204.15" y1="587.5" x2="207.75" y2="587.5" stroke="#111" stroke-width="1.21" />
<rect x="211.3" y="561.97" width="7.8" height="57.73" fill="#2c4c86" />
<circle cx="213.4" cy="550.99" r="0.95" fill="#111"/><circle cx="215.8" cy="554.46" r="0.95" fill="#111"/><circle cx="217.6" cy="556.43" r="0.95" fill="#111"/><circle cx="214.6" cy="560.64" r="0.95" fill="#111"/><circle cx="217" cy="560.72" r="0.95" fill="#111"/><circle cx="212.8" cy="564.36" r="0.95" fill="#111"/><circle cx="216.4" cy="567.32" r="0.95" fill="#111"/><circle cx="214" cy="567.58" r="0.95" fill="#111"/>
<line x1="215.5" y1="554.13" x2="215.5" y2="569.82" stroke="#111" stroke-width="1.21" />
<line x1="213.4" y1="554.5" x2="217" y2="554.5" stroke="#111" stroke-width="1.21" />
<line x1="213.4" y1="569.5" x2="217" y2="569.5" stroke="#111" stroke-width="1.21" />
<rect x="220.5" y="579.68" width="7.8" height="40.02" fill="url(#hblue)" />
<circle cx="222.6" cy="568.69" r="0.95" fill="#111"/><circle cx="225" cy="573.23" r="0.95" fill="#111"/><circle cx="226.8" cy="573.87" r="0.95" fill="#111"/><circle cx="223.8" cy="579.6" r="0.95" fill="#111"/><circle cx="226.2" cy="579.66" r="0.95" fill="#111"/><circle cx="222" cy="584.23" r="0.95" fill="#111"/><circle cx="225.6" cy="585.32" r="0.95" fill="#111"/><circle cx="223.2" cy="589.88" r="0.95" fill="#111"/>
<line x1="224.5" y1="571.83" x2="224.5" y2="587.52" stroke="#111" stroke-width="1.21" />
<line x1="222.6" y1="571.5" x2="226.2" y2="571.5" stroke="#111" stroke-width="1.21" />
<line x1="222.6" y1="587.5" x2="226.2" y2="587.5" stroke="#111" stroke-width="1.21" />
<text x="211.3" y="633.5" font-size="8.6" text-anchor="middle" stroke="#000" stroke-width="0.17">16</text>
<rect x="238.2" y="582.73" width="7.8" height="36.97" fill="#a8002c" />
<circle cx="240.3" cy="568.08" r="0.95" fill="#111"/><circle cx="242.7" cy="571.7" r="0.95" fill="#111"/><circle cx="244.5" cy="574.65" r="0.95" fill="#111"/><circle cx="241.5" cy="578.57" r="0.95" fill="#111"/><circle cx="243.9" cy="582.46" r="0.95" fill="#111"/><circle cx="239.7" cy="583.61" r="0.95" fill="#111"/><circle cx="243.3" cy="588.15" r="0.95" fill="#111"/><circle cx="240.9" cy="596.33" r="0.95" fill="#111"/>
<line x1="242.5" y1="572.26" x2="242.5" y2="593.19" stroke="#111" stroke-width="1.21" />
<line x1="240.3" y1="572.5" x2="243.9" y2="572.5" stroke="#111" stroke-width="1.21" />
<line x1="240.3" y1="593.5" x2="243.9" y2="593.5" stroke="#111" stroke-width="1.21" />
<rect x="247.45" y="575.14" width="7.8" height="44.56" fill="url(#hpink)" />
<circle cx="249.55" cy="560.49" r="0.95" fill="#111"/><circle cx="251.95" cy="562.22" r="0.95" fill="#111"/><circle cx="253.75" cy="567.55" r="0.95" fill="#111"/><circle cx="250.75" cy="569.9" r="0.95" fill="#111"/><circle cx="253.15" cy="575.14" r="0.95" fill="#111"/><circle cx="248.95" cy="577.09" r="0.95" fill="#111"/><circle cx="252.55" cy="579.47" r="0.95" fill="#111"/><circle cx="250.15" cy="586.46" r="0.95" fill="#111"/>
<line x1="251.5" y1="564.68" x2="251.5" y2="585.6" stroke="#111" stroke-width="1.21" />
<line x1="249.55" y1="564.5" x2="253.15" y2="564.5" stroke="#111" stroke-width="1.21" />
<line x1="249.55" y1="585.5" x2="253.15" y2="585.5" stroke="#111" stroke-width="1.21" />
<rect x="256.7" y="558.4" width="7.8" height="61.3" fill="#2c4c86" />
<circle cx="258.8" cy="549.85" r="0.95" fill="#111"/><circle cx="261.2" cy="556.05" r="0.95" fill="#111"/><circle cx="263" cy="556.62" r="0.95" fill="#111"/><circle cx="260" cy="557.83" r="0.95" fill="#111"/><circle cx="262.4" cy="559.54" r="0.95" fill="#111"/><circle cx="258.2" cy="560.92" r="0.95" fill="#111"/><circle cx="261.8" cy="561" r="0.95" fill="#111"/><circle cx="259.4" cy="566.33" r="0.95" fill="#111"/>
<line x1="260.5" y1="552.29" x2="260.5" y2="564.5" stroke="#111" stroke-width="1.21" />
<line x1="258.8" y1="552.5" x2="262.4" y2="552.5" stroke="#111" stroke-width="1.21" />
<line x1="258.8" y1="564.5" x2="262.4" y2="564.5" stroke="#111" stroke-width="1.21" />
<rect x="265.9" y="578.98" width="7.8" height="40.72" fill="url(#hblue)" />
<circle cx="268" cy="565.55" r="0.95" fill="#111"/><circle cx="270.4" cy="566.51" r="0.95" fill="#111"/><circle cx="272.2" cy="572.92" r="0.95" fill="#111"/><circle cx="269.2" cy="577.13" r="0.95" fill="#111"/><circle cx="271.6" cy="577.85" r="0.95" fill="#111"/><circle cx="267.4" cy="580.76" r="0.95" fill="#111"/><circle cx="271" cy="585.29" r="0.95" fill="#111"/><circle cx="268.6" cy="585.37" r="0.95" fill="#111"/>
<line x1="269.5" y1="569.39" x2="269.5" y2="588.57" stroke="#111" stroke-width="1.21" />
<line x1="268" y1="569.5" x2="271.6" y2="569.5" stroke="#111" stroke-width="1.21" />
<line x1="268" y1="588.5" x2="271.6" y2="588.5" stroke="#111" stroke-width="1.21" />
<text x="256.7" y="633.5" font-size="8.6" text-anchor="middle" stroke="#000" stroke-width="0.17">20</text>
<line x1="52.5" y1="531" x2="52.5" y2="620.2" stroke="#111" stroke-width="1.15" />
<line x1="49.4" y1="619.5" x2="52" y2="619.5" stroke="#111" stroke-width="1.03" />
<text x="45.8" y="622.7" font-size="8.6" text-anchor="end" textLength="4.6" lengthAdjust="spacingAndGlyphs" stroke="#000" stroke-width="0.17">0</text>
<line x1="49.4" y1="602.5" x2="52" y2="602.5" stroke="#111" stroke-width="1.03" />
<text x="45.8" y="605.26" font-size="8.6" text-anchor="end" textLength="9.2" lengthAdjust="spacingAndGlyphs" stroke="#000" stroke-width="0.17">20</text>
<line x1="49.4" y1="584.5" x2="52" y2="584.5" stroke="#111" stroke-width="1.03" />
<text x="45.8" y="587.82" font-size="8.6" text-anchor="end" textLength="9.2" lengthAdjust="spacingAndGlyphs" stroke="#000" stroke-width="0.17">40</text>
<line x1="49.4" y1="567.5" x2="52" y2="567.5" stroke="#111" stroke-width="1.03" />
<text x="45.8" y="570.38" font-size="8.6" text-anchor="end" textLength="9.2" lengthAdjust="spacingAndGlyphs" stroke="#000" stroke-width="0.17">60</text>
<line x1="49.4" y1="549.5" x2="52" y2="549.5" stroke="#111" stroke-width="1.03" />
<text x="45.8" y="552.94" font-size="8.6" text-anchor="end" textLength="9.2" lengthAdjust="spacingAndGlyphs" stroke="#000" stroke-width="0.17">80</text>
<line x1="49.4" y1="532.5" x2="52" y2="532.5" stroke="#111" stroke-width="1.03" />
<text x="45.8" y="535.5" font-size="8.6" text-anchor="end" textLength="13.8" lengthAdjust="spacingAndGlyphs" stroke="#000" stroke-width="0.17">100</text>
<line x1="51.5" y1="619.5" x2="279.6" y2="619.5" stroke="#111" stroke-width="1.15" />
<line x1="52.5" y1="619.7" x2="52.5" y2="622.5" stroke="#111" stroke-width="1.03" />
<line x1="97.5" y1="619.7" x2="97.5" y2="622.5" stroke="#111" stroke-width="1.03" />
<line x1="142.5" y1="619.7" x2="142.5" y2="622.5" stroke="#111" stroke-width="1.03" />
<line x1="187.5" y1="619.7" x2="187.5" y2="622.5" stroke="#111" stroke-width="1.03" />
<line x1="232.5" y1="619.7" x2="232.5" y2="622.5" stroke="#111" stroke-width="1.03" />
<line x1="277.5" y1="619.7" x2="277.5" y2="622.5" stroke="#111" stroke-width="1.03" />
<line x1="57" y1="576.5" x2="69.7" y2="576.5" stroke="#111" stroke-width="1.03" />
<polyline points="62.5,576.5 62.5,561.5 78.5,561.5 78.5,565.5" fill="none" stroke="#111" stroke-width="1.03" />
<circle cx="71.3" cy="556.2" r="0.9" fill="#111"/>
<line x1="103" y1="564.5" x2="115.7" y2="564.5" stroke="#111" stroke-width="1.03" />
<polyline points="109.5,564.5 109.5,549.5 124.5,549.5 124.5,552.5" fill="none" stroke="#111" stroke-width="1.03" />
<circle cx="115.1" cy="545.3" r="0.9" fill="#111"/><circle cx="117.7" cy="545.3" r="0.9" fill="#111"/>
<line x1="147.3" y1="558.5" x2="160" y2="558.5" stroke="#111" stroke-width="1.03" />
<polyline points="153.5,558.5 153.5,543.5 169.5,543.5 169.5,546.5" fill="none" stroke="#111" stroke-width="1.03" />
<circle cx="161.2" cy="539.3" r="0.9" fill="#111"/>
<line x1="191.9" y1="555.5" x2="206.2" y2="555.5" stroke="#111" stroke-width="1.03" />
<polyline points="198.5,555.5 198.5,540.5 214.5,540.5 214.5,543.5" fill="none" stroke="#111" stroke-width="1.03" />
<circle cx="205.2" cy="536.1" r="0.9" fill="#111"/><circle cx="207.8" cy="536.1" r="0.9" fill="#111"/>
<line x1="238.4" y1="556.5" x2="251.6" y2="556.5" stroke="#111" stroke-width="1.03" />
<polyline points="244.5,556.5 244.5,541.5 259.5,541.5 259.5,545.5" fill="none" stroke="#111" stroke-width="1.03" />
<circle cx="252.3" cy="536.5" r="0.9" fill="#111"/>
<polyline points="124.5,544.5 124.5,541.5 133.5,541.5 133.5,565.5" fill="none" stroke="#111" stroke-width="1.03" />
<circle cx="128.9" cy="537.5" r="0.9" fill="#111"/>
<polyline points="169.5,543.5 169.5,536.5 179.5,536.5 179.5,564.5" fill="none" stroke="#111" stroke-width="1.03" />
<circle cx="172.6" cy="533.1" r="0.9" fill="#111"/><circle cx="175.2" cy="533.1" r="0.9" fill="#111"/>
<polyline points="214.5,541.5 214.5,535.5 224.5,535.5 224.5,564.5" fill="none" stroke="#111" stroke-width="1.03" />
<circle cx="216.6" cy="530.9" r="0.9" fill="#111"/><circle cx="219.2" cy="530.9" r="0.9" fill="#111"/><circle cx="221.8" cy="530.9" r="0.9" fill="#111"/>
<polyline points="259.5,541.5 259.5,535.5 269.5,535.5 269.5,558.5" fill="none" stroke="#111" stroke-width="1.03" />
<circle cx="260.8" cy="531.3" r="0.9" fill="#111"/><circle cx="263.4" cy="531.3" r="0.9" fill="#111"/><circle cx="266" cy="531.3" r="0.9" fill="#111"/><circle cx="268.6" cy="531.3" r="0.9" fill="#111"/>
<text x="74.8" y="633.5" font-size="8" stroke="#000" stroke-width="0.17"></text>
<text x="166.3" y="647.6" font-size="9.2" text-anchor="middle" textLength="85.1" lengthAdjust="spacingAndGlyphs" stroke="#000" stroke-width="0.42">Weeks post-transplantation</text>
<text x="25.2" y="574.8" font-size="9.2" text-anchor="middle" textLength="67.9" lengthAdjust="spacingAndGlyphs" transform="rotate(-90 25.2 574.8)" stroke="#000" stroke-width="0.42">Donor cells in PB (%)</text>
<line x1="300.5" y1="542.7" x2="300.5" y2="556.6" stroke="#333" stroke-width="1.49" />
<line x1="300.5" y1="562.8" x2="300.5" y2="577.4" stroke="#333" stroke-width="1.49" />
<text x="284" y="552" font-size="8.2" font-style="italic" textLength="13.2" lengthAdjust="spacingAndGlyphs" stroke="#000" stroke-width="0.17">Ctrl</text>
<text x="288" y="572.7" font-size="8.2" font-style="italic" textLength="9" lengthAdjust="spacingAndGlyphs" stroke="#000" stroke-width="0.17">db</text>
<rect x="304.7" y="543.9" width="3.9" height="3.9" fill="#a8002c" />
<text x="311.6" y="548" font-size="8.2" textLength="14" lengthAdjust="spacingAndGlyphs" stroke="#000" stroke-width="0.17">veh.</text>
<rect x="304.7" y="552.7" width="3.9" height="3.9" fill="url(#hpink)" />
<text x="311.6" y="557" font-size="8.2" textLength="32.3" lengthAdjust="spacingAndGlyphs" stroke="#000" stroke-width="0.17">MK-2206</text>
<rect x="304.7" y="563.5" width="3.9" height="3.9" fill="#2c4c86" />
<text x="311.6" y="567.7" font-size="8.2" textLength="14" lengthAdjust="spacingAndGlyphs" stroke="#000" stroke-width="0.17">veh.</text>
<rect x="304.7" y="573.2" width="3.9" height="3.9" fill="url(#hblue)" />
<text x="311.6" y="577.4" font-size="8.2" textLength="32.3" lengthAdjust="spacingAndGlyphs" stroke="#000" stroke-width="0.17">MK-2206</text>
<text x="410.2" y="523.5" font-size="8.4" textLength="24.5" lengthAdjust="spacingAndGlyphs" stroke="#000" stroke-width="0.17">20 wks</text>
<line x1="399.8" y1="528.5" x2="444.8" y2="528.5" stroke="#222" stroke-width="1.49" />
<rect x="399.8" y="532.5" width="8" height="17.5" fill="#e6bbb2" />
<rect x="399.8" y="550" width="8" height="40.69" fill="#c8756d" />
<rect x="399.8" y="590.69" width="8" height="29.31" fill="#a8002c" />
<line x1="403.5" y1="590.69" x2="403.5" y2="594.69" stroke="#111" stroke-width="0.92" />
<polygon points="403.5,592.99 402.1,594.99 404.9,594.99" fill="#111" />
<line x1="403.5" y1="550" x2="403.5" y2="556" stroke="#111" stroke-width="0.92" />
<polygon points="403.5,554.3 402.1,556.3 404.9,556.3" fill="#111" />
<line x1="403.5" y1="532.5" x2="403.5" y2="537.1" stroke="#111" stroke-width="0.92" />
<polygon points="403.5,535.4 402.1,537.4 404.9,537.4" fill="#111" />
<rect x="411.9" y="532.5" width="8" height="19.25" fill="#e6bbb2" />
<rect x="411.9" y="551.75" width="8" height="43.31" fill="#c8756d" />
<rect x="411.9" y="595.06" width="8" height="24.94" fill="#a8002c" />
<line x1="415.5" y1="595.06" x2="415.5" y2="599.06" stroke="#111" stroke-width="0.92" />
<polygon points="415.5,597.36 414.1,599.36 416.9,599.36" fill="#111" />
<line x1="415.5" y1="551.75" x2="415.5" y2="558.75" stroke="#111" stroke-width="0.92" />
<polygon points="415.5,557.05 414.1,559.05 416.9,559.05" fill="#111" />
<line x1="415.5" y1="532.5" x2="415.5" y2="539" stroke="#111" stroke-width="0.92" />
<polygon points="415.5,537.3 414.1,539.3 416.9,539.3" fill="#111" />
<rect x="424" y="532.5" width="8" height="11.38" fill="#e6bbb2" />
<rect x="424" y="543.88" width="8" height="55.3" fill="#c8756d" />
<rect x="424" y="599.17" width="8" height="20.83" fill="#a8002c" />
<line x1="428.5" y1="599.17" x2="428.5" y2="602.67" stroke="#111" stroke-width="0.92" />
<polygon points="428.5,600.97 427.1,602.97 429.9,602.97" fill="#111" />
<line x1="428.5" y1="543.88" x2="428.5" y2="546.88" stroke="#111" stroke-width="0.92" />
<polygon points="428.5,545.17 427.1,547.17 429.9,547.17" fill="#111" />
<line x1="428.5" y1="532.5" x2="428.5" y2="535" stroke="#111" stroke-width="0.92" />
<polygon points="428.5,533.3 427.1,535.3 429.9,535.3" fill="#111" />
<rect x="436.1" y="532.5" width="8" height="15.31" fill="#e6bbb2" />
<rect x="436.1" y="547.81" width="8" height="50.05" fill="#c8756d" />
<rect x="436.1" y="597.86" width="8" height="22.14" fill="#a8002c" />
<line x1="440.5" y1="597.86" x2="440.5" y2="603.86" stroke="#111" stroke-width="0.92" />
<polygon points="440.5,602.16 439.1,604.16 441.9,604.16" fill="#111" />
<line x1="440.5" y1="547.81" x2="440.5" y2="554.31" stroke="#111" stroke-width="0.92" />
<polygon points="440.5,552.61 439.1,554.61 441.9,554.61" fill="#111" />
<line x1="440.5" y1="532.5" x2="440.5" y2="535.5" stroke="#111" stroke-width="0.92" />
<polygon points="440.5,533.8 439.1,535.8 441.9,535.8" fill="#111" />
<line x1="396.5" y1="531" x2="396.5" y2="620.5" stroke="#111" stroke-width="1.15" />
<line x1="394.1" y1="620.5" x2="396.7" y2="620.5" stroke="#111" stroke-width="1.03" />
<text x="392" y="623" font-size="8.6" text-anchor="end" textLength="4.6" lengthAdjust="spacingAndGlyphs" stroke="#000" stroke-width="0.17">0</text>
<line x1="394.1" y1="602.5" x2="396.7" y2="602.5" stroke="#111" stroke-width="1.03" />
<text x="392" y="605.5" font-size="8.6" text-anchor="end" textLength="10.8" lengthAdjust="spacingAndGlyphs" stroke="#000" stroke-width="0.17">20</text>
<line x1="394.1" y1="585.5" x2="396.7" y2="585.5" stroke="#111" stroke-width="1.03" />
<text x="392" y="588" font-size="8.6" text-anchor="end" textLength="10.8" lengthAdjust="spacingAndGlyphs" stroke="#000" stroke-width="0.17">40</text>
<line x1="394.1" y1="567.5" x2="396.7" y2="567.5" stroke="#111" stroke-width="1.03" />
<text x="392" y="570.5" font-size="8.6" text-anchor="end" textLength="10.8" lengthAdjust="spacingAndGlyphs" stroke="#000" stroke-width="0.17">60</text>
<line x1="394.1" y1="550.5" x2="396.7" y2="550.5" stroke="#111" stroke-width="1.03" />
<text x="392" y="553" font-size="8.6" text-anchor="end" textLength="10.8" lengthAdjust="spacingAndGlyphs" stroke="#000" stroke-width="0.17">80</text>
<line x1="394.1" y1="532.5" x2="396.7" y2="532.5" stroke="#111" stroke-width="1.03" />
<text x="392" y="535.5" font-size="8.6" text-anchor="end" textLength="16.3" lengthAdjust="spacingAndGlyphs" stroke="#000" stroke-width="0.17">100</text>
<line x1="396.2" y1="620.5" x2="450.4" y2="620.5" stroke="#111" stroke-width="1.15" />
<line x1="448.5" y1="620" x2="448.5" y2="622.8" stroke="#111" stroke-width="1.03" />
<line x1="396.5" y1="620" x2="396.5" y2="622.8" stroke="#111" stroke-width="1.03" />
<text x="363.8" y="633.5" font-size="8.6" textLength="31.8" lengthAdjust="spacingAndGlyphs" stroke="#000" stroke-width="0.17">MK2206</text>
<text x="403.8" y="634.5" font-size="8.6" text-anchor="middle" stroke="#000" stroke-width="0.17">-</text>
<text x="415.8" y="634.5" font-size="8.6" text-anchor="middle" stroke="#000" stroke-width="0.17">+</text>
<text x="427.7" y="634.5" font-size="8.6" text-anchor="middle" stroke="#000" stroke-width="0.17">-</text>
<text x="440.4" y="634.5" font-size="8.6" text-anchor="middle" stroke="#000" stroke-width="0.17">+</text>
<line x1="399.4" y1="638.5" x2="421.2" y2="638.5" stroke="#555" stroke-width="1.15" />
<line x1="424" y1="638.5" x2="445.6" y2="638.5" stroke="#555" stroke-width="1.15" />
<text x="403.8" y="649.2" font-size="8.6" font-style="italic" textLength="13.5" lengthAdjust="spacingAndGlyphs" stroke="#000" stroke-width="0.17">Ctrl</text>
<text x="430.2" y="649.2" font-size="8.6" font-style="italic" textLength="9" lengthAdjust="spacingAndGlyphs" stroke="#000" stroke-width="0.17">db</text>
<text x="368" y="576.6" font-size="9.2" text-anchor="middle" textLength="68.7" lengthAdjust="spacingAndGlyphs" transform="rotate(-90 368 576.6)" stroke="#000" stroke-width="0.42">Donor-derived cells (%)</text>
<rect x="454.7" y="560.1" width="5.1" height="5.2" fill="#e6bbb2" />
<text x="463.6" y="565" font-size="8.4" textLength="16.1" lengthAdjust="spacingAndGlyphs" stroke="#000" stroke-width="0.17">CD3</text>
<rect x="454.7" y="571.9" width="5.1" height="5.2" fill="#c8756d" />
<text x="463.6" y="576.8" font-size="8.4" textLength="19.1" lengthAdjust="spacingAndGlyphs" stroke="#000" stroke-width="0.17">B220</text>
<rect x="454.7" y="584" width="5.1" height="5.2" fill="#a8002c" />
<text x="463.6" y="588.9" font-size="8.4" textLength="17.7" lengthAdjust="spacingAndGlyphs" stroke="#000" stroke-width="0.17">Mac1</text>
<rect x="0.5" y="0.5" width="519" height="657" fill="none" stroke="#000" stroke-width="1.2"/>
</g>
</svg>
</body></html>
